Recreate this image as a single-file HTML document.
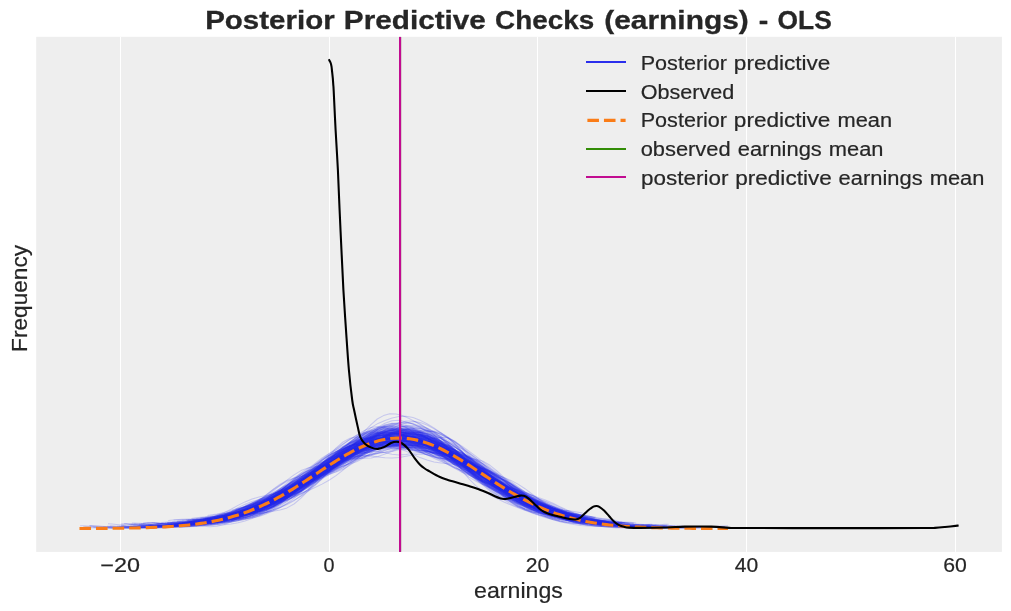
<!DOCTYPE html>
<html><head><meta charset="utf-8"><title>Posterior Predictive Checks (earnings) - OLS</title>
<style>
html,body{margin:0;padding:0;background:#fff;}
body{width:1011px;height:611px;overflow:hidden;}
svg{display:block;will-change:transform;}
text{font-family:"Liberation Sans",sans-serif;fill:#262626;stroke:#262626;stroke-width:0.2px;}
text[font-weight="bold"]{stroke-width:0.3px;}
</style></head><body>
<svg width="1011" height="611" viewBox="0 0 1011 611">
<rect x="0" y="0" width="1011" height="611" fill="#fff"/>
<rect x="36.2" y="36.8" width="965.7" height="515.1" fill="#eeeeee"/>
<g fill="#fff">
<rect x="120" y="36.8" width="1" height="515.1"/>
<rect x="329" y="36.8" width="1" height="515.1"/>
<rect x="537" y="36.8" width="1" height="515.1"/>
<rect x="746" y="36.8" width="1" height="515.1"/>
<rect x="955" y="36.8" width="1" height="515.1"/>
</g>
<defs><clipPath id="ax"><rect x="36.2" y="36.8" width="965.7" height="515.1"/></clipPath></defs>
<g clip-path="url(#ax)" fill="none">
<g stroke="#2a2eec" stroke-opacity="0.2" stroke-width="1.04" stroke-linejoin="round">
<path d="M80.1 525.8l3.9 0 7 0.4 7 0.7 7 0.5 7 0.4 7 0 7-0.2 7-0.3 7-0.4 7-0.4 7-0.4 7-0.2 7-0.1 7-0.2 7-0.6 7-1.2 7-1.7 7-1.8 7-1.9 7-1.7 7-1.6 7-1.8 7-2.3 7-3 7-3.4 7-3.7 7-3.9 7-4.1 7-4.1 7-4 7-3.9 7-4.1 7-4.6 7-4.9 7-4.9 7-4.4 7-3.6 7-2.9 7-2.5 7-2.1 7-1.5 7-1.1 7-0.8 7-0.5 7 0.2 7 1 7 1.4 7 1.1 7 0.8 7 0.9 7 1.5 7 1.7 7 1.9 7 2.4 7 3.2 7 4 7 3.9 7 3.8 7 4.2 7 4.9 7 5.5 7 5.4 7 5.1 7 4.3 7 3.6 7 2.5 7 1.8 7 1.6 7 1.7 7 1.9 7 1.8 5.5 1.3"/>
<path d="M221.2 517.8l2.8-0.4 7-0.7 7-0.6 7-1 7-1.7 7-2.7 7-3.5 7-3.8 7-3.4 7-2.7 7-2.5 7-3.2 7-4 7-4.5 7-4.4 7-4.2 7-4.4 7-5 7-6 7-6.9 7-7.4 7-6.4 7-4.2 7-1.6 7 0 7 0.7 7 0.5 7 0.3 7 1 7 2.5 7 4.1 7 5 7 5.4 7 5.2 7 4.7 7 3.7 7 3 7 2.9 7 3.7 7 4.5 7 4.9 7 5 7 4.7 7 4.2 7 3.4 7 2.4 7 1.8 7 1.9 7 2.5 7 2.9 7 3 7 2.9 7 2.5 7 1.9 7 1 7 0.6 7 0.4 7 0.5 7 0.8 7 0.6 7 0.5 7 0.2 7 0 7-0.1 7-0.1 7 0 7 0 7-0.1 7-0.3 7-0.6 7-0.7 7-0.5 7-0.3"/>
<path d="M216.7 519.4l0.3 0 7-1.1 7-1 7-1.4 7-1.9 7-2.4 7-2.7 7-2.7 7-2.9 7-3.3 7-3.8 7-4.1 7-3.8 7-3.1 7-3.2 7-4.4 7-6.5 7-8.2 7-8.7 7-7.3 7-4.8 7-2 7 0.1 7 1.4 7 1.4 7 0.9 7 0.6 7 0.9 7 0.9 7 0.2 7-1 7-1.6 7-0.5 7 1.9 7 4.5 7 5.9 7 5.8 7 4.4 7 2.8 7 2.1 7 2.9 7 4.7 7 6 7 6.3 7 5.5 7 4.4 7 3.7 7 3.6 7 3.5 7 3.1 7 2.4 7 1.9 7 1.6 7 1.3 7 1 7 0.7 7 0.7 7 0.8 7 0.8 7 0.8 7 0.4 7 0.2 7-0.1 7-0.1 6.7-0.1"/>
<path d="M215.9 515.4l1.1-0.2 7-1.1 7-0.7 7-0.3 7-0.5 7-1.1 7-2.3 7-3.1 7-3.6 7-4.1 7-4.7 7-5.6 7-6.1 7-6.1 7-5.2 7-4.1 7-3.6 7-3.2 7-2.6 7-1.6 7-1.1 7-1.6 7-2.8 7-3.6 7-3.7 7-3.4 7-3.4 7-2.6 7-0.6 7 2.2 7 4.6 7 5.7 7 5.9 7 5.3 7 4.2 7 3.1 7 2.6 7 3 7 3.7 7 4.7 7 5.7 7 5.9 7 4.9 7 3.7 7 2.7 7 2.5 7 2.8 7 2.8 7 2.4 7 2.1 0.3 0.1"/>
<path d="M227.0 517.8l4-0.7 7-1.4 7-1.8 7-2.6 7-2.9 7-3.1 7-3.2 7-3.3 7-3.5 7-3.8 7-4.1 7-4.5 7-4.4 7-3.9 7-3.6 7-4.2 7-5.1 7-5.7 7-5.8 7-4.7 7-2.9 7-0.8 7 0.9 7 1.4 7 0.8 7-0.1 7-0.6 7-0.2 7 0.4 7 0.6 7 0.8 7 1.4 7 2.4 7 3.7 7 4.7 7 5.3 7 5.6 7 6 7 6.2 7 6.3 7 5.7 7 5 7 4.2 7 3.3 7 2.3 7 1.8 7 1.9 7 2.2 7 2.2 7 1.9 7 1.5 6.4 1.2"/>
<path d="M139.2 524.0l0.8 0 7 0.1 7 0.5 7 0.7 7 0.3 7 0.1 7-0.3 7-0.5 7-0.7 7-1.2 7-1.6 7-1.9 7-2.2 7-2.5 7-2.7 7-3 7-3.2 7-3.3 7-3.4 7-3.6 7-3.5 7-3.7 7-3.9 7-4.5 7-4.7 7-4.5 7-4.3 7-4.4 7-4.7 7-4.2 7-3.6 7-2.9 7-2.6 7-2.5 7-2.2 7-1.8 7-1.3 7-0.8 7-0.1 7 0.8 7 1.8 7 2.9 7 3.8 7 4.6 7 5.5 7 6.2 7 6.2 7 5.3 7 3.6 7 2.3 7 2.1 7 2.6 7 3.2 7 3.3 7 3.3 7 3.1 7 3.1 7 3 7 3 7 3.2 7 3.4 7 3.2 7 2.7 6.5 1.9"/>
<path d="M142.8 522.9l4.2-0.3 7 0 7 0.3 7 0.3 7 0.1 7-0.3 7-0.8 7-1.2 7-1.6 7-1.8 7-2.2 7-2.8 7-3.4 7-3.8 7-3.5 7-2.8 7-2.1 7-1.5 7-1.6 7-2.2 7-3.2 7-4 7-4.1 7-3.8 7-3.5 7-4 7-5.1 7-5.7 7-5.4 7-4.3 7-3 7-2 7-1.3 7-0.7 7 0 7 0.9 7 1.7 7 2.1 7 2 7 1.4 7 1 7 1.1 7 1.7 7 2.6 7 3.9 7 5.2 7 5.9 7 5.6 7 4.3 7 3.4 7 2.9 7 3 7 3.1 7 3.1 7 3.1 7 3.3 7 3.5 7 3.3 7 2.7 7 2.2 7 1.9 7 1.7 7 1.5 7 1.2 7 1.2 7 1.2 1.3 0.2"/>
<path d="M192.2 519.7l3.8-0.6 7-0.6 7 0 7 0.2 7 0.2 7-0.3 7-1.1 7-2.1 7-3 7-3.8 7-4.1 7-4.2 7-3.8 7-3.5 7-3.3 7-3.6 7-4.1 7-4.6 7-4.6 7-4.2 7-3.6 7-3 7-2.8 7-2.8 7-2.8 7-2.7 7-2.3 7-1.1 7-0.3 7 0.1 7 0 7 0.6 7 1.5 7 2 7 2.2 7 2.5 7 3.2 7 4.1 7 4.5 7 4.1 7 3.4 7 2.6 7 1.9 7 2.2 7 3.3 7 4.5 7 5 7 4.7 7 3.7 7 2.8 7 1.7 7 1.2 7 1.2 7 1.8 7 2.3 7 2.4 7 1.9 7 1.1 7 0.6 7 0.3 7 0.5 2.9 0.4"/>
<path d="M192.7 522.4l3.3-0.2 7-0.1 7-0.4 7-0.8 7-1.4 7-1.7 7-1.7 7-1.8 7-2.3 7-3 7-3.6 7-3.9 7-4 7-3.8 7-4.1 7-4.7 7-5.8 7-6.9 7-7.3 7-6.8 7-6 7-5.1 7-4.5 7-4 7-3 7-1.8 7-1 7-1.1 7-1.7 7-1.9 7-1.4 7-0.2 7 1.4 7 3.2 7 4.7 7 5.7 7 5.7 7 5.3 7 4.9 7 5.1 7 6 7 6.6 7 6.4 7 6 7 5.3 7 4.5 7 4.1 7 3.7 7 3.4 7 2.8 7 2.3 7 2.2 1.8 0.6"/>
<path d="M200.6 519.4l2.4-0.3 7-0.6 7-0.2 7-0.3 7-0.7 7-1 7-1.4 7-1.8 7-2.2 7-2.8 7-3.4 7-3.5 7-3.3 7-3.2 7-3.4 7-4.2 7-5.6 7-6.5 7-6.6 7-5.7 7-4.5 7-4.1 7-4.6 7-4.8 7-3.9 7-2 7-0.1 7 0.9 7 1.3 7 1.1 7 0.9 7 1 7 1.4 7 1.6 7 1.6 7 1.6 7 1.9 7 2.7 7 3.7 7 4.6 7 4.9 7 5 7 5.2 7 5.3 7 5.2 7 5 7 4.7 7 4.5 7 4.3 7 3.9 7 3.1 7 2.1 7 1.3 7 0.7 7 0.6 7 0.6 0.7 0.1"/>
<path d="M183.6 522.8l5.4-0.6 7-0.5 7-0.4 7-0.3 7-0.3 7-0.6 7-1 7-1.5 7-1.9 7-2.3 7-2.6 7-3 7-3.8 7-4.8 7-5.5 7-5.8 7-5.9 7-5.5 7-4.6 7-3.9 7-3.8 7-4.3 7-4.8 7-4.9 7-4.7 7-4 7-3 7-2.3 7-1.6 7-1 7 0.2 7 1.3 7 2.3 7 2.7 7 2.6 7 1.7 7 0.7 7 0.5 7 1.8 7 3.9 7 6.6 7 8.6 7 9 7 7.7 7 5.8 7 4.1 7 3.1 7 2.7 7 2.7 7 2.8 7 3.1 7 3 7 2.8 2.3 0.9"/>
<path d="M145.3 525.6l1.7-0.1 7 0.1 7 0.4 7 0.3 7-0.1 7-0.6 7-1 7-1.1 7-1 7-1 7-1.2 7-1.5 7-1.6 7-1.8 7-2.1 7-2.7 7-2.8 7-2.7 7-2.3 7-2.4 7-2.8 7-3.3 7-3.9 7-4.2 7-4.4 7-4.3 7-4.3 7-4.7 7-5.1 7-4.9 7-4.3 7-3.9 7-4.3 7-4.7 7-4.5 7-3.4 7-2.1 7-1.3 7-1.1 7-0.4 7 1.7 7 4.6 7 6.7 7 7.2 7 6.3 7 4.9 7 3.9 7 3.8 7 3.9 7 4 7 4.3 7 4.9 7 5.4 7 5.3 7 4.3 7 2.7 7 1.5 7 1.1 7 1.3 7 2.1 2.7 1.1"/>
<path d="M204.2 519.6l5.8-0.5 7 0 7 0.4 7 0.2 7-0.3 7-0.9 7-1.5 7-2 7-2.8 7-3.7 7-4.6 7-5.4 7-6.3 7-6.9 7-7 7-6.5 7-5.3 7-4.2 7-3.4 7-3.7 7-4.1 7-4.7 7-4.6 7-4.3 7-3.9 7-3.7 7-3.7 7-3.3 7-2 7 0.1 7 2.7 7 4.9 7 6.2 7 6.8 7 7 7 6.7 7 6 7 4.7 7 3.7 7 3.3 7 3.5 7 3.9 7 4.5 7 4.9 7 5 7 4.7 7 4.2 7 3.8 7 3.5 7 2.8 7 1.9 7 1.1 7 1 5.1 0.8"/>
<path d="M251.0 512.8l1-0.3 7-1.6 7-1.8 7-2.3 7-3.4 7-4.8 7-6.1 7-6.4 7-5.8 7-4.9 7-4.4 7-4.7 7-5 7-4.8 7-4.1 7-3.4 7-3.3 7-3.4 7-3.3 7-2.5 7-1.8 7-1.4 7-1 7-0.3 7 0.5 7 1.1 7 1.7 7 3.1 7 5.3 7 6.8 7 6.5 7 5.1 7 4 7 4.2 7 5.2 7 5.7 7 5.6 7 5.1 7 4.5 7 4.1 7 4.1 7 4 7 3.7 7 3.2 2 0.7"/>
<path d="M218.4 517.0l5.6-1 7-0.9 7-1 7-1.4 7-2.3 7-2.9 7-3.5 7-3.8 7-4.5 7-5.3 7-5.7 7-5.4 7-4.8 7-4.1 7-4 7-4.6 7-5.6 7-6.2 7-5.7 7-3.9 7-1.8 7-0.7 7-0.8 7-1.8 7-2 7-1.3 7 0.2 7 1.5 7 2.7 7 3.8 7 4.3 7 4.3 7 4.3 7 4.9 7 5.6 7 5.7 7 5.2 7 4.7 7 4.9 7 5.4 7 5.9 7 5.6 7 4.9 7 3.8 7 2.7 7 2.3 7 2.1 7 2.2 7 1.9 7 1.4 7 0.9 7 0.6 7 0.3 7 0.4 7 0.5 7 0.7 5 0.5"/>
<path d="M212.2 519.9l4.8-0.3 7-0.4 7-0.7 7-1.5 7-2.5 7-3.5 7-3.7 7-3.2 7-2.5 7-2.3 7-3.1 7-4.2 7-4.9 7-5.4 7-5.6 7-6 7-6.6 7-7.2 7-6.4 7-4.3 7-1.9 7-0.5 7-0.6 7-1.3 7-1.9 7-2.1 7-1.2 7 0.4 7 2.4 7 3.4 7 3.4 7 3.1 7 3.6 7 4.4 7 4.8 7 4.6 7 4.1 7 3.7 7 3.8 7 3.8 7 3.5 7 3.3 7 3.5 7 3.8 7 4.1 7 4.1 7 3.9 7 3.5 7 3.1 7 2.7 7 2.3 7 2.1 7 1.7 1.9 0.3"/>
<path d="M207.5 515.4l2.5-0.3 7-1.1 7-1.6 7-2 7-2.1 7-1.6 7-1.1 7-1.3 7-2 7-3.3 7-4.2 7-4.5 7-4.1 7-3.6 7-3.7 7-4.7 7-5.6 7-5.7 7-5 7-4.1 7-3.1 7-2.3 7-1.2 7-0.4 7 0 7 0 7 0 7 0 7 0.4 7 1.1 7 1.5 7 1.4 7 1.4 7 1.5 7 1.7 7 2.1 7 2.8 7 4 7 4.9 7 4.9 7 4 7 3.5 7 3.4 7 4 7 4.4 7 4.4 7 3.7 7 2.9 7 2.4 7 2.3 7 2.3 7 2.4 7 2.4 7 2.1 7 1.6 7 1.1 7 0.9 7 0.7 7 0.8 2.8 0.2"/>
<path d="M244.9 505.7l0.1-0.1 7-2.7 7-1.9 7-2 7-2.8 7-3.6 7-4.2 7-4.1 7-3.6 7-3.7 7-4.4 7-5.8 7-6.8 7-6.8 7-6 7-4.5 7-2.8 7-1 7 0.4 7 1 7 0.7 7-0.2 7-1.3 7-2.2 7-2 7-0.8 7 1.2 7 3.1 7 4.9 7 6.3 7 7 7 6.9 7 6.2 7 5.5 7 5.3 7 5.2 7 5.2 7 4.5 7 3.6 7 2.7 7 2.6 7 2.7 7 2.9 7 2.6 7 2 7 1.3 7 1.1 7 1.5"/>
<path d="M236.6 517.3l1.4-0.3 7-1.2 7-1.1 7-1.2 7-1.1 7-1.1 7-1.3 7-2.1 7-3.9 7-5.8 7-7.3 7-8 7-7.8 7-7.2 7-6.2 7-4.7 7-3 7-1.8 7-1.5 7-1.7 7-2.1 7-2.4 7-2.6 7-2.3 7-1.5 7-1 7-0.2 7 0.9 7 2.3 7 3.4 7 3.7 7 3.7 7 3.6 7 3.8 7 4.1 7 5 7 5.7 7 6 7 5.4 7 4.6 7 3.8 7 3.3 7 3.3 7 3.5 7 3.5 7 3.3 7 2.6 7 1.6 7 0.8 7 0.5 7 0.8 4.5 0.8"/>
<path d="M201.9 520.2l1.1-0.2 7-1.1 7-1.1 7-1.3 7-2 7-2.9 7-3.5 7-3.5 7-3.3 7-3 7-2.7 7-2.7 7-2.4 7-2.1 7-2.2 7-2.8 7-3.6 7-4.1 7-4.6 7-4.9 7-4.8 7-4.3 7-3.3 7-2.6 7-2.5 7-2.5 7-2.2 7-1.5 7-0.8 7-0.3 7 0 7 0.7 7 2 7 3.3 7 4.2 7 4 7 3.3 7 2.7 7 2.7 7 3.4 7 4.4 7 5 7 4.8 7 4.1 7 3.5 7 3.6 7 4.1 7 4.2 7 4 7 3.2 7 2.6 7 2.2 7 2.1 7 1.8 7 1.6 7 1.1 7 0.8 7 0.7 6.7 0.6"/>
<path d="M136.1 526.8l3.9 0 7 0 7 0.1 7-0.2 7-0.6 7-1.1 7-1.4 7-1.3 7-1.2 7-1.4 7-1.6 7-1.9 7-2.2 7-2.2 7-2.1 7-2.3 7-2.3 7-2.3 7-2.7 7-3.4 7-4.2 7-4.7 7-4.7 7-4.3 7-3.7 7-3.6 7-3.9 7-4.4 7-4.7 7-4.7 7-4.4 7-3.5 7-1.9 7 0 7 1.1 7 0.9 7 0.1 7-0.8 7-1.2 7-0.8 7 0.4 7 2.2 7 3.9 7 4.6 7 4.2 7 3.1 7 2.8 7 3.4 7 4.2 7 4.5 7 3.6 7 2.7 7 2.2 7 2.4 7 3.3 7 4 7 4.4 7 4.3 7 3.7 7 2.9 7 2.4 7 2.2 7 2.1 7 1.7 7 1.4 7 0.9 7 0.7 7 0.8 1.1 0.2"/>
<path d="M175.7 523.8l6.3-0.5 7-0.3 7-0.3 7-0.6 7-1 7-1.2 7-1.5 7-2 7-2.7 7-3.3 7-3.3 7-3.1 7-3 7-3.5 7-4.2 7-4.8 7-4.6 7-3.8 7-3.3 7-3.6 7-4.4 7-4.8 7-4.7 7-4.4 7-3.8 7-2.6 7-0.7 7 0.7 7 0.5 7-0.7 7-2 7-2.5 7-2 7-0.7 7 0.4 7 1.7 7 2.8 7 4.2 7 5.5 7 6.5 7 6.6 7 5.6 7 4.1 7 2.8 7 2.7 7 3.2 7 4 7 4.5 7 4.4 7 3.9 7 3.6 7 3.5 7 3.3 7 2.8 7 1.7 7 0.9 7 0.4 7 0.2 7 0.3 4.2 0.3"/>
<path d="M131.3 526.1l1.7-0.1 7-0.2 7 0 7 0 7-0.1 7-0.4 7-0.6 7-0.9 7-1 7-1.1 7-0.9 7-0.9 7-1.6 7-2.7 7-3.7 7-4.1 7-3.6 7-2.7 7-2 7-2.2 7-2.9 7-4.1 7-4.6 7-4.7 7-4.1 7-3.6 7-2.9 7-2.5 7-2.7 7-4.1 7-5.6 7-5.6 7-4.2 7-2.4 7-1.2 7-0.5 7 0 7 0.2 7-0.1 7-0.6 7-0.1 7 1 7 2.3 7 3.2 7 3.6 7 4 7 4.3 7 4.9 7 4.9 7 4.6 7 4.1 7 4 7 4.2 7 4.3 7 3.9 7 3.2 7 3 7 3.4 7 4 7 3.9 7 3.3 7 2.4 7 1.7 7 1.4 7 1.1 7 0.8 7 0.7 7 0.5 7 0.4 2 0.1"/>
<path d="M223.8 518.2l0.2-0.1 7-2.8 7-2.9 7-2.6 7-2.1 7-1.7 7-2 7-2.8 7-4.1 7-5.1 7-5.1 7-4.5 7-4.4 7-5 7-6.1 7-6.8 7-6.3 7-4.8 7-3.3 7-2.6 7-2.6 7-2.6 7-2 7-0.7 7 0.7 7 1.3 7 1.2 7 1.1 7 1.9 7 3.1 7 3.8 7 3.6 7 2.8 7 2.5 7 3.2 7 4.8 7 6.2 7 6.5 7 5.8 7 5.4 7 5.1 7 4.9 7 4.4 7 3.4 7 2.6 7 2.2 0.1 0"/>
<path d="M207.6 519.3l2.4-0.3 7-0.5 7-0.5 7-0.8 7-1.4 7-1.9 7-2.3 7-2.8 7-3.4 7-3.9 7-4.2 7-4.5 7-5 7-5.4 7-5.8 7-6.2 7-6.1 7-5.4 7-4.1 7-2.8 7-2 7-2.1 7-2.7 7-3 7-2.8 7-2 7-0.8 7 0.6 7 1.6 7 1.7 7 1.2 7 1.3 7 2.3 7 3.6 7 4.6 7 4.6 7 3.7 7 3.3 7 3.4 7 4 7 4.4 7 4.9 7 5.2 7 5.1 7 4.7 7 4 7 3.3 7 2.5 7 2 7 2.2 7 2.4 7 2.7 7 2.7 7 2.3 7 1.7 7 0.8 7 0.1 7-0.1 7 0.1 2.3 0.1"/>
<path d="M209.6 520.0l0.4 0 7-0.8 7-0.5 7-0.4 7-0.9 7-1.7 7-2.8 7-3.8 7-4.9 7-5.4 7-5.4 7-5 7-4.9 7-5.2 7-5.5 7-5.3 7-4.9 7-4.1 7-2.9 7-2 7-1.7 7-2 7-2.3 7-2.7 7-2.9 7-3.2 7-2.9 7-1.6 7 0.5 7 2 7 2.7 7 2.7 7 2.7 7 3.3 7 4.6 7 5.6 7 6.2 7 5.8 7 5 7 4.4 7 4.2 7 3.9 7 3.6 7 3.3 7 3.5 7 4.3 7 5.1 7 4.7 7 3.6 7 2.2 7 1.3 7 1 7 1.2 7 1.3 7 1.1 7 0.7 7 0.5 7 0.5 1.9 0.1"/>
<path d="M190.2 521.8l5.8-0.4 7-0.1 7 0.1 7-0.3 7-0.9 7-1.3 7-1.7 7-1.9 7-1.8 7-1.7 7-2.1 7-2.9 7-4.2 7-5.1 7-5.6 7-5.6 7-5.9 7-6.1 7-5.9 7-5.3 7-4.7 7-4.6 7-4.5 7-3.7 7-2.5 7-1.9 7-2 7-2.4 7-2.4 7-1.6 7-0.6 7 0.3 7 1.2 7 2.2 7 3 7 3.8 7 4.8 7 5.2 7 5.3 7 4.9 7 4.6 7 4.6 7 4.9 7 5.2 7 5.2 7 5 7 4.5 7 3.7 7 3 7 3 7 3.3 7 3.6 7 3.3 7 2.8 5.2 1.6"/>
<path d="M197.7 522.4l5.3-0.2 7-0.2 7-0.6 7-1.2 7-1.7 7-1.9 7-2 7-2.3 7-2.8 7-3.1 7-3.2 7-3.2 7-3.5 7-4.1 7-4.9 7-5.5 7-6 7-6.3 7-6.1 7-5.3 7-3.9 7-2.4 7-1.3 7-1 7-1.6 7-2.4 7-3.4 7-3.6 7-3 7-1.8 7-0.3 7 0.9 7 1.7 7 2.1 7 2.6 7 3.6 7 4.9 7 6.2 7 6.9 7 6.9 7 5.9 7 5 7 4.3 7 4.2 7 4.1 7 3.8 7 3.3 7 2.8 7 2.5 7 2.5 7 2.8 7 3.2 7 3 7 2.2 7 1.2 7 0.5 7 0.2 7 0.2 7 0.4 7 0.7 0.5 0.1"/>
<path d="M197.1 523.6l5.9-0.8 7-0.7 7-0.9 7-1.3 7-2 7-2.6 7-2.8 7-2.6 7-2.5 7-2.3 7-2.6 7-3.2 7-4 7-4.5 7-4.6 7-4.5 7-4.6 7-5.1 7-5.9 7-5.8 7-5.1 7-4.1 7-3.9 7-4.4 7-4.9 7-4.6 7-3.2 7-1.3 7 0.5 7 1.7 7 2.5 7 3.6 7 4.6 7 5 7 4.7 7 3.7 7 2.8 7 2.7 7 3.4 7 4.6 7 5.7 7 5.8 7 5.2 7 4.3 7 4 7 3.8 7 3.7 7 3 7 2.6 7 2.2 7 2.1 7 2.2 7 2.1 7 1.9 7 1.5 7 1.2 5.8 1"/>
<path d="M173.6 520.0l1.4-0.1 7-0.3 7 0.2 7 0 7-0.5 7-1 7-1.4 7-1.8 7-2.3 7-2.8 7-3.3 7-3.6 7-3.6 7-3.3 7-2.6 7-2 7-1.6 7-2 7-3 7-4.4 7-5.4 7-6 7-5.9 7-5 7-3.3 7-2.5 7-2.8 7-4 7-4.2 7-2.5 7-0.2 7 1.4 7 1.8 7 1.8 7 1.9 7 2.4 7 2.8 7 2.8 7 2.5 7 2.4 7 3.1 7 3.8 7 4.3 7 4 7 3.8 7 3.8 7 4.3 7 4.8 7 5.4 7 5.4 7 4.7 7 3.2 7 1.6 7 0.8 7 0.6 7 0.8 7 1 7 1.4 6.2 1.6"/>
<path d="M109.9 526.0l2.1 0 7 0.2 7 0.5 7 0.4 7 0.2 7 0 7-0.1 7-0.2 7-0.4 7-0.6 7-0.7 7-0.8 7-0.9 7-1.1 7-1.3 7-1.5 7-1.8 7-2 7-2.5 7-2.8 7-3.4 7-3.7 7-3.6 7-3 7-2.4 7-1.9 7-1.8 7-2.3 7-3.6 7-5.4 7-6.9 7-7.1 7-6.3 7-5.1 7-4.6 7-4.9 7-5.3 7-5.2 7-4.6 7-3.2 7-0.8 7 2.1 7 3.5 7 2.8 7 1 7 0.5 7 1.8 7 3.7 7 4.8 7 5.3 7 5.8 7 6.3 7 6.2 7 5.8 7 5.1 7 5 7 5.3 7 5.2 7 4.4 7 3.2 7 2.2 7 1.8 7 1.8 7 1.9 7 2.1"/>
<path d="M169.5 526.4l5.5 0 7-0.4 7-0.7 7-1.1 7-1.4 7-1.5 7-1.6 7-1.5 7-1.5 7-1.4 7-1.4 7-2 7-2.6 7-3.6 7-4.1 7-4.5 7-4.3 7-3.9 7-3.6 7-3.7 7-3.8 7-3.7 7-3.6 7-3.8 7-4.7 7-6.1 7-6.9 7-6.2 7-4.2 7-1.5 7 0.5 7 1.5 7 1.4 7 1.1 7 0.9 7 1.1 7 1.7 7 2.5 7 3.8 7 5.1 7 5.9 7 5.7 7 4.9 7 4 7 3.2 7 2.7 7 2.5 7 2.4 7 2.6 7 3.2 7 3.7 7 3.9 7 3.7 7 3 7 2.4 7 2.1 7 2 7 1.8 7 1.3 6.5 1"/>
<path d="M205.0 520.9l5-0.9 7-1.2 7-1.4 7-2 7-2.6 7-3 7-2.9 7-3.2 7-3.4 7-3.6 7-3.6 7-3.1 7-2.9 7-3 7-3.7 7-4.7 7-5.4 7-5.5 7-4.8 7-4.1 7-4 7-3.9 7-3.4 7-1.9 7-0.2 7 0.5 7 0.2 7-1.3 7-2.7 7-2.8 7-0.7 7 2.5 7 5 7 5.6 7 4.4 7 2.8 7 2.2 7 3.1 7 4.9 7 6.8 7 7.6 7 7.1 7 5.7 7 4.5 7 3.9 7 3.5 7 3.1 7 2.5 7 2.1 7 1.7 7 1.5 7 1.1 7 0.8 7 0.5 7 0.3 7 0.3 1.7 0.1"/>
<path d="M229.8 513.6l1.2-0.4 7-1.7 7-1.6 7-1.8 7-2.5 7-2.8 7-2.8 7-2.8 7-3.1 7-3.7 7-4.5 7-5 7-5.3 7-5.3 7-5.2 7-5 7-4.6 7-4.4 7-4.6 7-5 7-5.2 7-4.3 7-2 7 0.8 7 2.6 7 2.4 7 0.9 7-0.5 7-0.1 7 1.9 7 4.6 7 5.9 7 5.8 7 5.5 7 5.7 7 6 7 6.1 7 5.7 7 5.4 7 5.2 7 4.5 7 3.4 7 2.7 7 2.4 7 2.6 7 2.7 7 2.8 7 2.4 7 2 7 1.3 7 0.9 7 0.6 7 0.5 7 0.4 7 0.4 7 0.4 2.1 0.1"/>
<path d="M242.4 517.7l2.6-0.9 7-2.5 7-2.6 7-3.2 7-3.8 7-4.3 7-4.5 7-4.9 7-5.5 7-5.5 7-4.9 7-4.1 7-3.6 7-3.7 7-4.1 7-4.9 7-5 7-4.3 7-2.7 7-1.1 7 0 7-0.1 7-0.9 7-1.6 7-1.8 7-0.9 7 0.4 7 1.8 7 2.7 7 3.8 7 5.3 7 7.3 7 8.3 7 7.8 7 5.7 7 3.6 7 2.7 7 3.1 7 4 7 4.9 7 4.8 7 4.2 7 3.5 7 2.9 7 2.3 7 1.9 7 1.5 7 1.5 7 1.4 7 1.3 7 1.1 7 0.7 7 0.6 7 0.4 7 0.3 7 0 7-0.4 7-0.7 7-0.4 1.5 0"/>
<path d="M216.9 518.4l0.1 0 7-1.7 7-1.9 7-2.2 7-2.5 7-2.6 7-2.8 7-3.3 7-3.8 7-4.2 7-3.9 7-3 7-2.3 7-2.2 7-2.7 7-3.5 7-3.5 7-3.3 7-2.9 7-3.3 7-4.1 7-4.8 7-4.9 7-4.4 7-3.2 7-1.2 7 0.7 7 1.4 7 1 7 0.5 7 1 7 2.1 7 3.1 7 3.1 7 2.5 7 2 7 2.5 7 3.4 7 4.2 7 4.1 7 3.2 7 2.6 7 2.8 7 3.7 7 4.6 7 5.3 7 5.4 7 5.1 7 4 7 2.5 7 1.3 7 1.1 7 1.6 7 2.2 7 2.2 7 1.6 7 0.9 7 0.5 7 0.3 7 0.4 3.6 0.3"/>
<path d="M159.1 526.1l1.9-0.1 7-0.4 7-0.5 7-0.5 7-0.7 7-0.8 7-1 7-1.1 7-1.5 7-1.8 7-2.1 7-2.3 7-2.3 7-2.2 7-2.1 7-2.2 7-2.7 7-3.7 7-4.4 7-4.9 7-5.1 7-5.3 7-5 7-4.3 7-3.6 7-3.6 7-3.9 7-4.1 7-4 7-3.7 7-3.1 7-2.3 7-1.6 7-1.5 7-1.7 7-1.6 7-0.6 7 1.3 7 3 7 4 7 4.6 7 5 7 5.2 7 5.2 7 5 7 4.4 7 3.9 7 3.4 7 3.5 7 3.9 7 4.2 7 4.1 7 3.3 7 2.6 7 2.2 7 2.3 7 2.8 7 3.3 7 3.3 7 2.9 7 1.9 7 1.1 7 0.7 7 0.6 7 0.6 7 0.7 1.4 0.2"/>
<path d="M192.7 524.5l3.3-0.3 7-0.6 7-1.1 7-1.9 7-2.3 7-2.4 7-1.8 7-1.5 7-1.8 7-3.1 7-4.4 7-5.2 7-5 7-3.8 7-3 7-2.9 7-3.8 7-4.8 7-4.8 7-4.2 7-3.6 7-3.9 7-4.8 7-5.9 7-6.7 7-6.2 7-4.5 7-2 7-0.2 7 0.7 7 1.4 7 2 7 2.9 7 4.1 7 4.8 7 5.2 7 5.2 7 4.9 7 4.4 7 4.1 7 4 7 3.9 7 4.2 7 4.6 7 5 7 5.2 7 5 7 4.3 7 3.3 7 2.3 7 1.9 7 1.6 7 1.5 7 1.4 7 1.5 2.1 0.5"/>
<path d="M205.0 523.0l5-0.6 7-1 7-1.3 7-1.9 7-2 7-1.7 7-1.3 7-1.1 7-1.7 7-3 7-4.3 7-4.8 7-4.7 7-4.7 7-5.1 7-5.9 7-6.2 7-5.6 7-4.5 7-3.5 7-3.1 7-3.2 7-3.8 7-4.1 7-4.3 7-3.9 7-3.3 7-2.6 7-1.2 7 0.5 7 2.3 7 3.2 7 3.5 7 3.8 7 3.9 7 4.5 7 5.2 7 5.9 7 6.2 7 5.8 7 5.2 7 4.5 7 3.8 7 3.7 7 4.1 7 4.6 7 4.9 7 4.3 7 3.3 7 2.2 7 1.5 7 1.4 7 1.5 2 0.5"/>
<path d="M131.9 523.1l1.1 0 7 0.2 7 0.8 7 1 7 0.9 7 0.4 7-0.3 7-0.7 7-1 7-1 7-1 7-1.3 7-1.8 7-2.6 7-3.3 7-3.6 7-3.1 7-2.4 7-1.7 7-1.4 7-1.8 7-2.5 7-3.9 7-5 7-5.5 7-4.8 7-3.5 7-2.5 7-2.1 7-2.3 7-2.9 7-3.7 7-4.4 7-4.5 7-3.8 7-2.9 7-2 7-1.1 7 0.2 7 1.5 7 2.5 7 2.6 7 2.5 7 2.8 7 3.2 7 3.2 7 2.8 7 1.9 7 1 7 0.9 7 1.7 7 3.3 7 4.5 7 4.7 7 4.2 7 3.7 7 3.7 7 4 7 4 7 3.6 7 3.5 7 3.3 7 3.1 7 2.6 7 1.7 7 1 7 1 7 0.9 7 0.9 7 0.6 7 0.5 7 0.6 7 0.6 7 0.7 7 0.4 7 0.1 7-0.1 7-0.2 0.5 0"/>
<path d="M202.3 523.0l0.7 0 7-0.4 7-0.4 7-0.6 7-0.8 7-1 7-1.1 7-1.7 7-2.5 7-3.4 7-4.3 7-4.8 7-4.8 7-4.4 7-4.1 7-4.1 7-4.2 7-4.7 7-5.6 7-6.5 7-6.3 7-4.9 7-3.2 7-2.5 7-3 7-4.1 7-4.3 7-2.9 7-0.4 7 2.3 7 3.3 7 2.4 7 1 7 0.4 7 1.6 7 3.2 7 4.7 7 5.2 7 5.3 7 5.1 7 5.1 7 5.3 7 5.6 7 5.1 7 3.8 7 2.7 7 2.4 7 3.2 7 4 7 4.1 7 3.5 7 2.6 7 1.9 7 1.7 7 1.8 7 1.7 7 1.3 7 1 7 0.8 2.7 0.3"/>
<path d="M177.1 521.6l4.9-0.2 7 0 7 0.2 7 0.2 7-0.1 7-0.7 7-1.2 7-1.5 7-1.7 7-1.9 7-2.2 7-2.8 7-3.1 7-3.1 7-2.7 7-2.5 7-3.3 7-5.2 7-7 7-7.3 7-6.1 7-4.2 7-3.2 7-3.4 7-4.3 7-5 7-4.8 7-4.2 7-3.2 7-1.9 7-0.6 7 0.2 7 0.9 7 1.6 7 2.6 7 3.4 7 3.7 7 4.3 7 4.8 7 4.5 7 3.5 7 2.4 7 2.4 7 3.7 7 5.4 7 6.1 7 5.6 7 4.2 7 3.3 7 3.3 7 3.8 7 4.2 7 4.1 7 3.4 7 2.4 7 1.5 7 0.9 7 0.6 7 0.3 7 0.3 7 0.1 7 0.3 1.5 0.1"/>
<path d="M200.2 521.3l2.8-0.2 7-0.5 7-0.8 7-1.1 7-1.5 7-2 7-2.4 7-2.9 7-3.1 7-3.3 7-3.4 7-4.1 7-4.5 7-4.7 7-4.2 7-3.5 7-3.5 7-4.6 7-5.9 7-6.4 7-5.4 7-3.5 7-2 7-2 7-2.3 7-1.9 7-0.4 7 0.8 7 0.5 7-0.5 7-0.9 7-0.1 7 1.7 7 3.1 7 3.9 7 3.7 7 3.2 7 2.5 7 2.4 7 3.2 7 4.5 7 5.7 7 5.8 7 5.2 7 4.3 7 3.5 7 3.1 7 2.8 7 2.9 7 3 7 3.2 7 3.2 7 3.2 7 2.9 7 2.1 7 1.3 7 0.6 7 0 7 0 5.9 0.2"/>
<path d="M162.8 526.5l5.2-0.2 7-0.2 7-0.1 7-0.1 7-0.1 7-0.2 7-0.4 7-0.7 7-1.4 7-2.1 7-2.7 7-3.2 7-3.4 7-3.3 7-3.3 7-3.2 7-3.2 7-3.5 7-4.2 7-5.4 7-6.6 7-7.4 7-7.2 7-6.3 7-5.2 7-4.8 7-4.9 7-4.8 7-4.1 7-3.2 7-2.3 7-2 7-2 7-1.7 7-0.4 7 1 7 2 7 2.6 7 3.9 7 5.7 7 6.8 7 6.4 7 5.3 7 4.8 7 5.4 7 6.9 7 7.8 7 7.5 7 6.5 7 5.3 7 4.6 7 3.8 7 2.8 7 1.8 7 1.3 7 1.3 7 1.9 0 0"/>
<path d="M194.3 521.5l1.7 0 7 0.1 7 0.3 7 0.2 7-0.3 7-1.2 7-2.2 7-3.2 7-3.9 7-4.3 7-4.7 7-4.4 7-3.7 7-3.1 7-2.9 7-3.3 7-3.9 7-4.6 7-5.5 7-6.2 7-6.5 7-6.2 7-5.4 7-4.3 7-3 7-2.1 7-1.7 7-1.6 7-1.7 7-1.5 7-0.9 7 0.2 7 2 7 3.9 7 4.9 7 5.2 7 5.5 7 6 7 6.6 7 6.9 7 6.3 7 5.3 7 4.7 7 4.3 7 3.9 7 3.3 7 2.6 7 2.5 7 2.6 7 2.8 7 3.2 7 3.2 7 2.8 7 2.1 7 1.8 7 1.5 7 1.4 7 0.8 7 0.3 7-0.3 7-0.4 7-0.2 2.1 0"/>
<path d="M176.8 525.1l5.2-0.2 7 0.1 7 0.5 7 0.7 7 0.5 7-0.5 7-1.7 7-2.8 7-3.4 7-3.4 7-3.1 7-2.9 7-2.9 7-3.3 7-3.7 7-4.1 7-4.5 7-5 7-5.6 7-6.1 7-6.3 7-6.1 7-5.4 7-4.6 7-4.1 7-3.7 7-3.1 7-2.4 7-2 7-2 7-2.1 7-2.1 7-1.3 7 0.1 7 1.7 7 2.9 7 3.7 7 4.6 7 5.4 7 5.6 7 5.1 7 4.2 7 4 7 4.6 7 5.4 7 5.7 7 5.3 7 4.7 7 4.2 7 4.1 7 4.1 7 4.1 7 3.7 7 3.3 7 2.8 7 2.3 7 1.8 7 1.5 7 1.2 7 1 7 0.9 7 0.6 7 0.4 7 0.1 7-0.2 7-0.6 7-0.7 7-0.4 5-0.1"/>
<path d="M89.2 525.6l1.8 0 7 0.4 7 0.6 7 0.5 7 0.2 7 0 7-0.2 7-0.3 7-0.4 7-0.5 7-0.6 7-0.6 7-0.6 7-0.8 7-0.9 7-1 7-0.8 7-0.7 7-1.1 7-1.6 7-2.3 7-2.8 7-3.3 7-4 7-4.6 7-5.2 7-5.2 7-4.5 7-3.7 7-3.1 7-3.3 7-3.3 7-3.1 7-2.7 7-3 7-3.7 7-4.2 7-4.1 7-3.2 7-2 7-1 7-0.4 7-0.5 7-0.9 7-1.1 7-1.2 7-1.4 7-1.3 7-0.4 7 1.3 7 3.7 7 5.7 7 7.2 7 7.8 7 7.6 7 6.2 7 4.4 7 3.2 7 3.3 7 3.9 7 3.9 7 3.2 7 2.5 7 2.3 7 2.4 7 2.6 7 2.6 7 2.5 7 2.2 7 1.6 7 1.1 7 0.7 7 0.7 2.9 0.4"/>
<path d="M192.3 519.0l3.7-0.3 7 0 7 0.6 7 0.5 7-0.3 7-1.5 7-2.6 7-3.5 7-4 7-4.1 7-3.6 7-2.9 7-2.8 7-3.4 7-4.1 7-4.5 7-4.3 7-4.1 7-4.4 7-4.9 7-5 7-4.4 7-3.7 7-3.5 7-3.5 7-3 7-2 7-1 7-0.6 7-0.3 7 0.2 7 1.2 7 2.2 7 2.9 7 3.4 7 3.3 7 2.9 7 2.8 7 3.8 7 5.5 7 6.6 7 6.4 7 5.2 7 4 7 3.4 7 3.2 7 3.1 7 3.1 7 3.2 7 3.5 7 3.5 7 2.8 7 2 7 1.2 7 1.1 5.5 0.9"/>
<path d="M147.9 525.6l6.1 0 7 0.1 7 0 7-0.3 7-0.7 7-1 7-0.8 7-0.7 7-0.7 7-0.9 7-1.4 7-1.8 7-2.1 7-1.7 7-1.4 7-1.2 7-1.4 7-2 7-2.9 7-3.7 7-4.6 7-5.1 7-5.3 7-5 7-4.6 7-4.1 7-3.8 7-3.6 7-3.5 7-3.4 7-3.4 7-3.6 7-3.9 7-4.1 7-3.7 7-2.6 7-0.6 7 1.5 7 2.4 7 2.6 7 2.7 7 3.3 7 3.5 7 3.4 7 3.1 7 3.1 7 3.6 7 3.8 7 3.9 7 3.7 7 3.6 7 3.8 7 4.4 7 5.3 7 5.6 7 5.2 7 4.2 7 3.1 7 2.1 7 1.5 7 1.2 7 1.3 7 1.6 1.8 0.5"/>
<path d="M235.0 510.8l3-0.7 7-1.1 7-0.7 7-1.5 7-3 7-4.4 7-5 7-4.6 7-4.1 7-4.1 7-4.6 7-5 7-5.3 7-5.2 7-5.3 7-5.4 7-5.1 7-4.3 7-2.7 7-0.8 7 0.3 7 0 7-0.4 7 0.2 7 1.9 7 3.4 7 3.8 7 3.1 7 2.1 7 1.1 7 0.8 7 1.5 7 3 7 4.4 7 5.3 7 5.3 7 4.7 7 4.5 7 4.6 7 4.9 7 5.1 7 4.9 7 4.4 7 3.5 7 2.6 7 2 7 1.7 7 1.4 7 1.1 7 0.9 7 0.9 7 1 7 0.8 7 0.4 7 0 7 0 6.8 0.3"/>
<path d="M202.9 520.0l0.1 0 7-1.2 7-0.7 7-0.7 7-1.2 7-1.9 7-2.4 7-2.6 7-2.8 7-3.6 7-4.8 7-6.2 7-6.7 7-6 7-4.7 7-3.7 7-3.5 7-3.8 7-4.4 7-4.8 7-4.7 7-4.1 7-2.9 7-2.1 7-1.5 7-1.3 7-1.5 7-1.8 7-1.5 7-0.3 7 2.1 7 4 7 5.1 7 5 7 4.6 7 4.3 7 4 7 3.8 7 4.3 7 5.3 7 6.3 7 6.4 7 5.4 7 3.8 7 2.5 7 1.8 7 1.6 7 1.7 7 1.9 7 2.3 7 2.4 7 2.3 7 2.1 3.8 1.1"/>
<path d="M166.4 524.4l1.6-0.1 7-0.4 7-0.3 7-0.6 7-0.9 7-1.1 7-1.1 7-1 7-0.9 7-1 7-1.7 7-2.9 7-3.8 7-4.6 7-4.9 7-4.9 7-4.7 7-4.3 7-3.7 7-3.3 7-3.4 7-3.7 7-3.8 7-3.9 7-4 7-3.9 7-3.3 7-2.7 7-2.5 7-3.1 7-4 7-4.2 7-3 7-0.8 7 1.7 7 2.9 7 2.7 7 2.1 7 2.1 7 2.9 7 4.1 7 5.6 7 6.9 7 7.1 7 6.3 7 5.2 7 4.6 7 4.6 7 4.5 7 4 7 3.2 7 2.6 7 2.1 7 1.9 7 1.6 7 1.5 7 1.6 7 1.9 7 2.1 7 2.2 7 1.9 7 1.4 7 1 7 0.7 7 0.6 7 0.6 7 0.5 7 0.2 7-0.2 7-0.7 7-0.9 7-0.7 3.7-0.1"/>
<path d="M182.0 523.0l7-1.2 7-0.7 7-0.2 7 0.1 7 0 7-0.4 7-1.1 7-2.1 7-3 7-3.5 7-3.4 7-3.4 7-3.6 7-4.2 7-5 7-5.6 7-5.4 7-4.5 7-3.5 7-3 7-3.4 7-4.3 7-5 7-5 7-4.6 7-3.9 7-2.8 7-1.4 7 0.1 7 1.8 7 3.1 7 3.4 7 2.4 7 1 7 0 7-0.3 7 0.5 7 2 7 4.1 7 5.5 7 5.7 7 5.2 7 4.5 7 4.4 7 4.2 7 3.8 7 3.1 7 2.7 7 2.7 7 3 7 3.2 7 3.4 7 3.2 7 2.8 7 2.2 7 1.6 7 1.3 7 0.9 7 0.9 7 0.8 5.5 0.7"/>
<path d="M178.9 522.4l3.1-0.3 7-0.3 7-0.1 7-0.1 7-0.1 7-0.4 7-1.3 7-2.4 7-3.4 7-3.6 7-3.1 7-2.5 7-2.3 7-3.1 7-3.9 7-4.5 7-4.2 7-3.4 7-2.7 7-2.7 7-3.2 7-3.9 7-4.7 7-5.5 7-5.7 7-5.4 7-4.9 7-4.2 7-2.6 7-0.4 7 1.1 7 1.5 7 1 7 0.5 7 0.4 7 0.7 7 1.3 7 1.8 7 2 7 2.5 7 3.4 7 4.1 7 4.6 7 4.9 7 5.6 7 6 7 5.5 7 4.2 7 3.1 7 2.6 7 3.1 7 3.8 7 4.2 7 4 7 3.4 7 2.9 7 2.4 7 1.9 7 1.4 7 1 7 0.8 7 0.9 7 1 7 0.9 7 0.6 7 0.3 7-0.1 7-0.3 7-0.3 7-0.2 1.8 0"/>
<path d="M128.7 524.7l4.3 0 7 0.4 7 0.6 7 0.5 7 0.3 7 0.1 7 0.1 7 0.1 7-0.1 7-0.3 7-0.7 7-1.2 7-1.6 7-1.9 7-2 7-2 7-2.1 7-2.6 7-3 7-3.5 7-3.7 7-3.8 7-3.7 7-4 7-4.2 7-5 7-6 7-7.3 7-8.1 7-7.6 7-5.5 7-3.3 7-2.2 7-1.9 7-2.1 7-2.2 7-2.4 7-2.3 7-1.9 7-0.9 7 0.4 7 2.1 7 3.9 7 5.6 7 6.6 7 6.1 7 4.6 7 3.1 7 2.5 7 2.9 7 4.3 7 5.8 7 6.8 7 7.1 7 6.3 7 5.1 7 3.7 7 3 7 2.6 7 2.4 7 1.9 7 1.6 1.9 0.4"/>
<path d="M192.5 523.2l3.5-0.6 7-1.4 7-1.8 7-2 7-2.1 7-1.7 7-1.3 7-1.4 7-2.4 7-3.8 7-4.9 7-5.2 7-4.9 7-4.6 7-4.4 7-3.8 7-3.1 7-3.2 7-4.4 7-6.1 7-6.8 7-6 7-4.5 7-3.2 7-2.2 7-1.3 7-0.9 7-0.7 7-0.3 7 0.9 7 2.5 7 3.7 7 4 7 3.5 7 2.1 7 1.1 7 1 7 2.5 7 4.3 7 5.6 7 5.8 7 5.6 7 4.9 7 4.4 7 4.3 7 4.3 7 4.1 7 3.8 7 3.3 7 3 7 2.7 7 2.3 7 1.7 7 1.5 7 1.5 7 1.7 7 1.8 7 1.5 7 1.1 7 0.6 7 0.5 3.2 0.3"/>
<path d="M155.7 524.5l5.3 0 7 0.3 7 0.6 7 0.6 7 0.2 7-0.5 7-1.1 7-1.5 7-1.7 7-1.8 7-2 7-1.9 7-1.9 7-2.1 7-2.4 7-2.5 7-2.5 7-2.7 7-3.3 7-4.3 7-5.2 7-5.5 7-4.9 7-3.9 7-3.2 7-4 7-5.4 7-6.7 7-6.9 7-5.7 7-3.4 7-0.8 7 1.5 7 2.1 7 1.6 7 0.9 7 0.6 7 0.4 7-0.3 7-0.6 7 0.2 7 2.3 7 4.4 7 5.7 7 6 7 5.5 7 4.8 7 4.1 7 3.4 7 3.4 7 3.9 7 4.2 7 4.2 7 3.5 7 3.1 7 2.9 7 2.7 7 2.6 7 2.5 2.9 1"/>
<path d="M147.4 523.0l6.6-0.1 7 0.6 7 0.8 7 0.7 7 0.2 7-0.6 7-1.4 7-2.3 7-2.7 7-2.6 7-2 7-1.8 7-2 7-2.6 7-3 7-3.2 7-3.2 7-3.6 7-4 7-4 7-3.5 7-3.2 7-3 7-3.4 7-4 7-4.6 7-4.8 7-4.2 7-3.2 7-2.6 7-2.4 7-2.2 7-2.2 7-2.1 7-1.9 7-1.4 7-0.4 7 0.9 7 2.5 7 3.5 7 3.8 7 3.8 7 3.6 7 3.9 7 4.6 7 5 7 4.7 7 4.6 7 4.7 7 4.8 7 4.7 7 4.2 7 3.4 7 2.7 7 2.2 7 2.1 7 2.3 7 2.4 7 2.3 7 1.9 7 1.7 7 1.6 7 1.5 0.4 0.1"/>
<path d="M196.1 521.9l6.9-0.5 7-0.1 7-0.4 7-1 7-1.6 7-2.1 7-2.2 7-2.4 7-2.7 7-3 7-2.9 7-2.5 7-2.5 7-3.3 7-4.4 7-5.6 7-5.8 7-5.3 7-4.7 7-4.9 7-5.5 7-5.9 7-5.5 7-4.6 7-4 7-3.8 7-3.1 7-1.9 7-0.6 7 0.5 7 1.5 7 2.9 7 4.2 7 4.8 7 4.9 7 4.8 7 4.9 7 5.2 7 5.1 7 5 7 4.7 7 4.4 7 4 7 3.8 7 3.7 7 3.4 7 3.3 7 3.3 7 3.5 7 3.6 7 3.5 7 3.3 7 2.9 7 2.3 7 1.6 7 1 7 0.5 7 0.1 7-0.1 7 0.1 1.1 0"/>
<path d="M238.0 511.8l0 0 7-2.2 7-1.8 7-1.7 7-2.1 7-2.7 7-3.4 7-4.1 7-5.1 7-5.8 7-6.6 7-6.8 7-6.4 7-5.2 7-3.8 7-3.1 7-3.6 7-4.2 7-3.4 7-1.5 7 0.3 7 1 7 0.7 7 0.3 7 0.2 7 0.5 7 1 7 2.5 7 4 7 5 7 5 7 4.6 7 3.7 7 2.8 7 2 7 2.1 7 3.2 7 4.4 7 5.1 7 4.9 7 4.2 7 3.5 7 3.3 7 3.2 7 3.2 7 2.8 7 2.3 7 1.9 4.9 1.3"/>
<path d="M128.8 526.6l4.2 0.1 7 0.3 7 0.2 7 0 7-0.4 7-0.7 7-0.8 7-0.8 7-0.8 7-0.7 7-0.7 7-0.6 7-1 7-1.9 7-2.9 7-3.3 7-3 7-2.6 7-2.7 7-3.3 7-4.4 7-5.3 7-6 7-6.3 7-6 7-4.9 7-3.5 7-2.5 7-2.3 7-3 7-3.9 7-4.1 7-4 7-3.5 7-3.1 7-2.4 7-0.9 7 1 7 2.6 7 3.2 7 2.5 7 1.5 7 1.1 7 1.9 7 3.7 7 5.3 7 6.2 7 5.7 7 4.5 7 3.6 7 3.8 7 4.5 7 5.1 7 4.8 7 4 7 3.2 7 3 7 2.9 7 2.9 7 2.5 7 2.2 7 1.7 7 1.4 7 1.1 7 0.9 7 0.9 1.6 0.2"/>
<path d="M242.7 513.8l2.3-0.4 7-1.3 7-1.6 7-2.5 7-3 7-2.9 7-2.7 7-3.3 7-4.9 7-6.5 7-7.6 7-7.4 7-6.7 7-6 7-5.7 7-5.2 7-4.9 7-4.6 7-4.5 7-4 7-2.8 7-1.7 7-0.9 7-0.2 7 1.3 7 3.4 7 4.8 7 5.5 7 5.8 7 6.2 7 6.3 7 5.8 7 4.8 7 4.1 7 4.4 7 4.9 7 5.3 7 5.1 7 4.8 7 4.3 7 3.8 7 3.1 7 2.3 7 2.2 7 2.3 7 2.5 7 2.2 7 1.5 7 1 7 0.9 2.8 0.4"/>
<path d="M183.2 523.8l5.8-0.8 7-0.8 7-0.6 7-0.8 7-1.2 7-1.8 7-2 7-1.9 7-1.9 7-2.4 7-3.4 7-4.1 7-4.4 7-4.6 7-4.7 7-4.9 7-4.9 7-4.5 7-3.9 7-3.7 7-4.2 7-4.9 7-5.2 7-4.9 7-4.2 7-2.8 7-1 7 0.5 7 1.1 7 0.8 7 0 7 0.2 7 1.3 7 2.8 7 3.8 7 4.3 7 4 7 3.2 7 2.4 7 2.1 7 2.7 7 3.9 7 5.1 7 5.6 7 5.2 7 4.3 7 3.5 7 2.7 7 2.6 7 2.7 7 3.2 7 3.7 7 3.5 7 2.9 7 2 7 1.6 7 1.3 7 1 7 0.6 7 0.3 7 0.2 7 0.4 7 0.6 7 0.6 7 0.4 7 0.3 5.5 0.1"/>
<path d="M167.3 522.4l0.7 0 7-0.2 7 0.4 7 0.3 7 0.1 7-0.3 7-0.6 7-0.8 7-1.1 7-1.5 7-2.2 7-2.6 7-2.8 7-3 7-3.4 7-3.9 7-4.2 7-4.1 7-4.2 7-4.3 7-4.6 7-5 7-5 7-4.8 7-4.2 7-3.7 7-3.5 7-3.4 7-2.8 7-1.8 7-0.8 7-1 7-2.1 7-3.1 7-3.1 7-2 7-0.8 7 0.3 7 1.6 7 3.8 7 6.4 7 7.7 7 6.8 7 5.2 7 4.5 7 5 7 5.9 7 5.9 7 5 7 4 7 3.4 7 3.3 7 3.6 7 3.4 7 3.1 7 2.4 7 2 7 1.9 7 2 7 2.1 7 1.7 7 1.1 7 0.6 7 0.5 7 0.5 7 0.3 7 0.2 7-0.2 7-0.3 6.4 0"/>
<path d="M193.9 520.9l2.1-0.3 7-0.5 7-0.2 7-0.6 7-1 7-1.7 7-2.7 7-3.3 7-3.8 7-3.5 7-3.2 7-3.1 7-3.4 7-4 7-4.7 7-5.1 7-5.4 7-5.8 7-5.9 7-5.7 7-5.2 7-3.9 7-2.5 7-0.9 7-0.3 7-0.3 7-0.8 7-0.9 7-0.1 7 1.5 7 2.8 7 3.1 7 2.8 7 2.4 7 2.1 7 1.6 7 1 7 0.7 7 1.2 7 2.9 7 4.8 7 6.2 7 6.2 7 5.4 7 4.8 7 4.1 7 3.4 7 3 7 2.6 7 2.5 7 2.4 5.9 2.2"/>
<path d="M93.3 527.3l4.7 0.1 7 0.4 7 0.3 7 0.2 7 0 7-0.3 7-0.3 7-0.3 7-0.3 7-0.3 7-0.6 7-0.9 7-1.1 7-1.2 7-1.1 7-0.9 7-0.8 7-0.7 7-1 7-1.3 7-1.8 7-2.3 7-2.6 7-2.9 7-3.1 7-3.5 7-3.7 7-4.1 7-4.5 7-4.9 7-4.6 7-3.6 7-2.6 7-2.8 7-4.5 7-6.1 7-6.3 7-4.7 7-2.2 7-0.6 7 0.1 7 0 7-0.9 7-1.9 7-2.6 7-1.9 7 0.3 7 3.4 7 5.7 7 6.5 7 5.9 7 4.7 7 3.6 7 2.7 7 2.2 7 2.6 7 3.3 7 3.9 7 4 7 4 7 3.9 7 3.8 7 3.3 7 2.4 7 1.7 7 1.5 7 1.9 7 2.3 7 2.5 6.1 2"/>
<path d="M188.0 523.1l1 0 7 0 7 0.2 7 0 7-0.4 7-1 7-1.5 7-2.1 7-2.5 7-2.9 7-3.2 7-3.5 7-3.3 7-3.1 7-3.1 7-3.9 7-5 7-5.9 7-6 7-5.6 7-5.1 7-4.7 7-4.4 7-4.1 7-4.1 7-4.4 7-4.3 7-3.9 7-3.2 7-1.9 7 0.3 7 2.6 7 4.1 7 4.2 7 3.1 7 2.6 7 2.9 7 3.5 7 3.6 7 3.5 7 3.8 7 4.3 7 4.9 7 4.8 7 4.5 7 4.2 7 3.7 7 3.1 7 2.7 7 2.8 7 3.2 7 3.3 7 3.2 7 2.7 7 2.5 4.2 1.3"/>
<path d="M232.3 518.6l5.7-1.9 7-2.4 7-2.3 7-2.7 7-3.2 7-3.7 7-3.7 7-3.4 7-3.2 7-3.6 7-4.4 7-5.2 7-5.9 7-6.5 7-6.9 7-6.7 7-5.8 7-4.6 7-3.5 7-3.1 7-2.9 7-2.4 7-1.4 7-0.4 7 0.4 7 1.3 7 2 7 2.7 7 3.4 7 4.3 7 5.4 7 6.1 7 6 7 5.1 7 4.3 7 3.7 7 3.5 7 3.7 7 4.1 7 4.6 7 4.9 7 4.8 7 4.4 7 3.9 7 3.2 7 2.6 7 2 7 1.5 7 1.2 7 1.2 6.9 1.3"/>
<path d="M155.9 523.8l5.1-0.3 7-0.1 7 0 7-0.2 7-0.4 7-0.5 7-0.5 7-0.6 7-0.8 7-1.3 7-2 7-2.5 7-2.9 7-3.2 7-3.5 7-3.7 7-3.6 7-3 7-2.3 7-2.3 7-3.1 7-4.6 7-6 7-6.4 7-6 7-4.9 7-3.5 7-2.1 7-1.3 7-1.2 7-1.6 7-1.7 7-1.2 7-0.1 7 0.4 7 0.5 7 0.2 7 0.1 7 0.4 7 0.9 7 1.5 7 1.6 7 2.1 7 2.8 7 3.6 7 4.3 7 5 7 5.3 7 5.2 7 4.9 7 4.4 7 4 7 3.4 7 2.6 7 2.3 7 2.6 7 2.8 7 2.8 7 2.4 7 1.9 7 1.8 7 1.7 7 1.5 7 1.3 7 1.2 0.7 0.2"/>
<path d="M222.2 517.7l1.8-0.6 7-1.9 7-1.8 7-1.9 7-2.2 7-2.6 7-3 7-3.3 7-3.7 7-4.1 7-4.4 7-4.6 7-5.2 7-6.3 7-7.6 7-8.4 7-7.9 7-6.2 7-3.8 7-1.3 7 0.6 7 0.8 7-0.3 7-1.4 7-1.2 7-0.1 7 0.9 7 1.1 7 1.4 7 2.5 7 3.6 7 4.5 7 5.1 7 5.6 7 6 7 6.3 7 6.1 7 5.3 7 4.2 7 3.5 7 3.5 7 3.9 7 4.1 7 3.7 7 3.1 7 2.6 7 2.1 7 1.7 7 1.4 7 1.2 7 1.2 7 0.9 7 0.7 7 0.7 2.8 0.2"/>
<path d="M243.0 507.7l2-0.9 7-2.8 7-2.3 7-1.8 7-1.8 7-2.2 7-3.5 7-4.5 7-5 7-4.9 7-4.5 7-4.4 7-4.8 7-5.6 7-6.1 7-5.7 7-4.8 7-3.9 7-3.4 7-2.6 7-1 7 1.6 7 3.1 7 3.1 7 2 7 1.5 7 2.2 7 3.6 7 4.7 7 5.1 7 4.6 7 3.8 7 3.1 7 3 7 3.6 7 4.5 7 5.4 7 5.6 7 5.3 7 4.7 7 3.5 7 2.5 7 1.8 7 1.8 7 2.3 7 2.9 7 2.9 7 2.3 7 1.4 7 0.6 7 0.2 7 0 7-0.1 7 0.2 5.1 0.3"/>
<path d="M192.4 519.9l3.6-0.3 7-0.1 7 0 7-0.3 7-1 7-1.6 7-1.8 7-1.6 7-1.6 7-2.2 7-3.2 7-3.9 7-4.3 7-4.5 7-4.9 7-5.4 7-5.2 7-4.5 7-4.4 7-4.6 7-4.7 7-3.6 7-2.2 7-1.5 7-1.8 7-1.9 7-1.3 7-0.7 7-0.7 7-1 7-1.1 7-1 7-1 7-0.6 7 0.3 7 1.6 7 3 7 4 7 5 7 6.2 7 6.9 7 6.9 7 5.9 7 4.2 7 3.1 7 2.6 7 2.7 7 3.2 7 4 7 4.5 7 4.8 7 4.1 7 3 7 1.9 7 1.4 7 1.4 7 1.4 7 1.2 7 0.7 7 0.3 7 0 7 0.3 7 0.4 7 0.6 7 0.6 7 0.2 7 0.1 7-0.1 7-0.1 7-0.1 7-0.1 3.6 0.1"/>
<path d="M225.1 515.7l5.9-1.3 7-1.8 7-1.9 7-2.1 7-2.4 7-2.7 7-2.8 7-2.6 7-2.6 7-3.3 7-4.6 7-5.8 7-6.2 7-5.7 7-4.8 7-4 7-3.5 7-3.2 7-3.2 7-3.4 7-3.3 7-2.7 7-1.7 7-0.6 7-0.3 7-0.5 7-0.7 7 0 7 1.1 7 2.2 7 2.7 7 2.6 7 3.2 7 4.4 7 5.9 7 6.4 7 6.2 7 5.2 7 4.2 7 3.5 7 3.5 7 4.1 7 4.8 7 5 7 4.6 7 3.7 7 2.4 7 1.4 7 0.5 7 0.6 7 1 4.2 0.9"/>
<path d="M143.2 523.4l3.8-0.4 7-0.1 7 0.6 7 1 7 0.7 7 0 7-0.7 7-1.4 7-1.5 7-1.6 7-1.9 7-2.5 7-3 7-3.3 7-3.2 7-3.2 7-3.2 7-3.3 7-3.2 7-3 7-3.1 7-3.9 7-4.9 7-5.5 7-4.7 7-3.6 7-2.4 7-2 7-2 7-2.6 7-3.2 7-3.4 7-3 7-2.4 7-1.5 7-0.4 7 0.9 7 2 7 2.2 7 2 7 2 7 2.5 7 3.3 7 4.1 7 3.9 7 3.5 7 3.4 7 3.8 7 4.3 7 4 7 3.3 7 3.1 7 3.8 7 4.5 7 4.7 7 4 7 3.3 7 2.6 7 2.2 7 1.8 7 1.4 7 1.2 7 1 7 0.9 7 1 7 1.1 7 1.1 7 0.8 7 0.5 6.6 0.2"/>
<path d="M187.0 521.9l2-0.1 7-0.2 7-0.3 7-0.8 7-1.5 7-2.1 7-2.2 7-2.3 7-2.3 7-2.8 7-3.4 7-4.3 7-5.1 7-5.6 7-5.8 7-5.3 7-4.2 7-2.8 7-2.2 7-2.9 7-4.5 7-5.8 7-6.6 7-6.5 7-5.8 7-3.9 7-2 7-0.6 7-0.1 7 0.6 7 2 7 3.5 7 3.9 7 3.6 7 3.2 7 3.1 7 3.2 7 3.6 7 4.3 7 4.9 7 5.4 7 5.7 7 5.9 7 6 7 5.7 7 5.2 7 4.4 7 3 7 1.7 7 0.9 7 1.2 7 1.9 7 2.5 7 2.7 7 2.2 7 1.8 7 1.3 7 1 7 0.8 7 0.6 7 0.6 7 0.6 7 0.6 7 0.3 7 0 7-0.3 7-0.6 7-0.7 7-0.4 2.3-0.1"/>
<path d="M227.1 518.4l3.9-0.9 7-1.9 7-1.7 7-1.6 7-1.3 7-1.8 7-2.7 7-4.4 7-5.9 7-6.7 7-6.5 7-5.3 7-4 7-3.5 7-3.9 7-4.7 7-5.1 7-5.3 7-5.4 7-5.1 7-4.3 7-2.8 7-1 7 0.5 7 1.5 7 2.1 7 2.1 7 1.6 7 1.6 7 2.5 7 3.8 7 5 7 5.2 7 4.6 7 3.7 7 3.6 7 4.3 7 5.3 7 6.2 7 6.6 7 6.4 7 5.5 7 4.4 7 3.4 7 2.5 7 1.5 7 0.7 7 0.3 7 0.3 7 0.6 7 0.9 7 1.1 1.9 0.4"/>
<path d="M187.2 522.6l1.8-0.3 7-1.2 7-1.3 7-1.6 7-2 7-2.3 7-2.3 7-2.3 7-2.5 7-2.6 7-2.5 7-2.5 7-2.6 7-2.9 7-3.4 7-4.1 7-4.4 7-4.3 7-3.9 7-4.1 7-4.4 7-4 7-2.9 7-1.8 7-0.7 7-0.1 7 0.5 7 0.8 7 0.8 7 0.2 7-0.5 7-1.2 7-1.3 7-0.8 7 0.5 7 1.8 7 2.8 7 3 7 2.7 7 2.1 7 1.8 7 2.2 7 3.1 7 4 7 4.2 7 4 7 3.5 7 3.5 7 4.1 7 4.4 7 4 7 3.1 7 2.2 2 0.5"/>
<path d="M187.5 522.0l1.5-0.1 7-0.3 7-0.3 7-0.8 7-1.3 7-2 7-2.4 7-2.8 7-2.6 7-2.6 7-2.5 7-2.4 7-2.4 7-2.3 7-2.7 7-3.6 7-4.9 7-5.7 7-5.5 7-5 7-5 7-5.3 7-5 7-3.7 7-2.3 7-1.9 7-2.4 7-3.2 7-3.2 7-2.2 7-0.6 7 1.4 7 3 7 3.8 7 3.3 7 2.7 7 2.9 7 4 7 4.7 7 4.5 7 3.7 7 3.4 7 3.8 7 4.2 7 4.7 7 4.7 7 4.3 7 3.5 7 2.9 7 2.8 7 2.9 7 3 7 3 7 2.9 7 2.6 7 1.9 7 1.3 7 1.1 7 1.1 7 1.1 7 0.7 7 0.3 7 0 7-0.1 5.1 0"/>
<path d="M176.5 521.2l5.5 0.1 7 0.8 7 0.9 7 0.4 7-0.5 7-1.6 7-2.3 7-2.8 7-2.7 7-2.3 7-2 7-2.3 7-3.1 7-3.7 7-3.6 7-3 7-2.8 7-3.3 7-4.4 7-5.6 7-5.7 7-4.9 7-3.8 7-3.4 7-3.9 7-4.6 7-4.9 7-4.4 7-3 7-1.5 7-0.6 7-0.3 7 0.1 7 0.8 7 1.5 7 1.9 7 2.7 7 3.7 7 4.4 7 4.3 7 4.2 7 4.5 7 5.3 7 6.1 7 6.3 7 5.6 7 4.5 7 3.3 7 2.7 7 2.5 7 2.9 7 3.2 7 2.8 7 1.8 7 1.1 7 0.8 4.3 0.6"/>
<path d="M108.0 523.8l4 0.2 7 0.7 7 1.2 7 1 7 0.6 7 0.1 7-0.2 7-0.4 7-0.3 7-0.2 7-0.3 7-0.6 7-0.9 7-1.1 7-1.4 7-1.6 7-1.7 7-1.9 7-2.4 7-3.1 7-3.8 7-3.7 7-3.1 7-2.5 7-2.2 7-2.8 7-4 7-4.8 7-4.9 7-4.8 7-4.6 7-4.3 7-4 7-3.5 7-3.4 7-3.7 7-4.2 7-4.3 7-3.3 7-1.4 7 0.3 7 1.1 7 1.1 7 1.2 7 1.6 7 1.6 7 1.8 7 2.4 7 3.2 7 3.8 7 4 7 4 7 4.1 7 4.9 7 5.7 7 6.2 7 5.8 7 4.5 7 2.9 7 2.1 7 2.3 7 2.8 7 3.2 7 2.9 7 2.4 7 2.2 7 1.9 7 1.6 7 1 7 0.5 7 0.4 7 0.5 3.4 0.4"/>
<path d="M129.7 527.2l3.3 0 7 0 7 0.2 7 0.3 7 0 7-0.3 7-0.6 7-0.9 7-1.1 7-1.2 7-1.2 7-1.3 7-1.5 7-2 7-2.3 7-2.3 7-2 7-1.7 7-1.9 7-2.7 7-3.5 7-3.7 7-3.6 7-3.4 7-3.5 7-3.5 7-3.7 7-3.9 7-4.4 7-4.9 7-5.3 7-5 7-4.4 7-3.6 7-2.5 7-1.5 7-0.9 7-1.3 7-2.1 7-2 7-0.3 7 1.9 7 3.5 7 4 7 4.1 7 4.5 7 4.7 7 4.8 7 4.7 7 4.6 7 4.2 7 3.9 7 3.7 7 3.4 7 3 7 2.7 7 2.6 7 2.7 7 2.9 7 2.8 7 2.4 7 2 7 1.8 0.6 0.2"/>
<path d="M146.1 525.3l0.9 0 7 0.3 7 0.3 7 0.4 7 0.1 7-0.1 7-0.4 7-0.9 7-1.4 7-1.7 7-1.9 7-1.8 7-1.7 7-1.6 7-1.6 7-1.7 7-2 7-2.7 7-3.5 7-4.3 7-4.9 7-5.2 7-5.2 7-5.5 7-5.9 7-6.3 7-6.1 7-5.2 7-3.6 7-2.6 7-2.3 7-2.8 7-2.7 7-2 7-1.2 7-0.8 7-0.4 7 0 7 0.6 7 1.3 7 1.7 7 2.3 7 2.9 7 3.9 7 4.5 7 5.2 7 5.5 7 5.4 7 5.1 7 4.9 7 4.8 7 4.7 7 4.4 7 3.8 7 3.4 7 3.1 7 2.9 7 3 7 3 7 2.6 7 2 7 1.4 7 1 7 0.8 7 1 0.2 0.1"/>
<path d="M226.5 519.3l4.5-1 7-1.4 7-1.5 7-1.8 7-2.4 7-3.1 7-4.1 7-4.8 7-5.1 7-4.9 7-4.8 7-4.6 7-4.5 7-4.3 7-4.6 7-5.5 7-6.4 7-6.2 7-4.3 7-1.8 7 0.4 7 1.6 7 1.3 7 0.4 7-0.1 7-0.3 7-0.4 7-0.7 7-0.3 7 0.5 7 1.8 7 3.7 7 5.5 7 6.3 7 5.5 7 4 7 3.1 7 3.1 7 4.1 7 5 7 5.3 7 4.6 7 3.5 7 2.8 7 2.8 7 3.1 7 3 7 2.8 7 2.3 7 2 7 1.5 7 1.1 7 0.6 6.3 0.6"/>
<path d="M213.0 521.4l4-0.8 7-1.7 7-1.8 7-1.9 7-1.8 7-1.5 7-1.6 7-2.3 7-3.5 7-4.5 7-4.6 7-4.2 7-4.1 7-4.7 7-5.8 7-7 7-7.7 7-7.8 7-6.6 7-4.6 7-2.7 7-1.8 7-1.9 7-2 7-1.5 7-0.3 7 1 7 1.7 7 1.6 7 0.9 7 0.4 7 0.8 7 2.5 7 4.9 7 6.7 7 7.1 7 5.9 7 4.3 7 3.6 7 3.9 7 4.8 7 5.7 7 5.8 7 4.7 7 3.2 7 2.2 7 2.1 7 2.5 7 2.6 7 2.5 7 2 7 1.4 5.1 0.8"/>
<path d="M225.2 520.2l5.8-0.6 7-0.4 7-0.4 7-0.8 7-1.6 7-2.4 7-3 7-3.5 7-3.7 7-3.7 7-3.9 7-4.8 7-6.1 7-6.9 7-6.7 7-6.1 7-6.1 7-6.8 7-7.4 7-6.6 7-4.2 7-1.5 7 0.3 7 0.4 7 0.3 7 0.7 7 1.7 7 2 7 0.9 7-0.9 7-1.2 7 0.5 7 3.5 7 6.1 7 7.6 7 7.9 7 7.4 7 6.2 7 5 7 4.3 7 4 7 4.2 7 4.4 7 4.3 7 3.7 7 3.1 7 2.7 7 2.3 7 2 7 1.7 7 1.5 2.3 0.5"/>
<path d="M194.7 524.6l1.3 0 7 0.3 7 0.2 7 0 7-0.3 7-0.8 7-1.3 7-1.8 7-2.3 7-2.9 7-3.6 7-4.4 7-4.8 7-4.9 7-4.8 7-4.8 7-4.5 7-3.6 7-3 7-3.5 7-4.6 7-5.8 7-6 7-5.7 7-4.7 7-3.5 7-2.3 7-1.3 7-1.2 7-1.5 7-1.7 7-1.8 7-1.6 7-1 7 0.6 7 2.5 7 3.6 7 3.9 7 4.4 7 5 7 5.3 7 5.5 7 5.5 7 5.5 7 5.4 7 5.3 7 5.4 7 5.7 7 5.2 7 4.4 7 3.5 7 3.1 7 2.8 7 2.3 7 1.6 7 1.1 7 0.7 7 0.5 7 0.7 7 0.8 4.9 0.7"/>
<path d="M202.9 518.8l0.1 0 7-0.7 7-0.2 7 0.1 7-0.3 7-1.1 7-2.4 7-3.3 7-3.4 7-3.2 7-3.1 7-3.4 7-4.1 7-4.5 7-4.7 7-4.6 7-4.3 7-4.1 7-4.5 7-5.2 7-5.7 7-5.7 7-5.4 7-4.6 7-3.5 7-1.7 7 0.5 7 2 7 2.1 7 1.4 7 0.7 7 0.8 7 1.4 7 1.9 7 1.8 7 2 7 2.8 7 4.3 7 5.5 7 6.4 7 6.5 7 6.6 7 6.2 7 4.7 7 2.9 7 1.1 7 0.6 7 1.2 7 2.4 7 3.4 7 3.6 7 3.4 7 3.2 7 2.6 7 2.1 7 1.7 7 1.4 7 1.1 7 1 7 0.9 7 0.8 7 0.6 7 0.4 7 0.1 7 0 7-0.2 7-0.1 1.4 0"/>
<path d="M171.9 524.6l3.1-0.2 7-0.2 7-0.3 7-0.6 7-1 7-1.5 7-1.7 7-2 7-2.1 7-2.1 7-2 7-2.2 7-2.6 7-3.2 7-3.7 7-4 7-4.2 7-3.9 7-3.4 7-3 7-3.5 7-4.7 7-5.2 7-4.3 7-2.8 7-2.4 7-3.4 7-5.1 7-6.2 7-5.7 7-4.1 7-1.6 7 0.4 7 1.6 7 1.9 7 2 7 3 7 4.5 7 5.4 7 5.6 7 5.1 7 4.7 7 3.9 7 3 7 2.2 7 2.2 7 3.3 7 4.6 7 5.6 7 5.9 7 5.3 7 4.1 7 3 5.6 1.8"/>
<path d="M148.6 526.9l5.4-0.1 7-0.2 7-0.4 7-0.6 7-0.8 7-1 7-0.7 7-0.5 7-0.5 7-0.9 7-1.3 7-1.8 7-2.4 7-2.8 7-3.1 7-3.1 7-3.2 7-3.3 7-3.5 7-3.5 7-3.4 7-3.5 7-3.6 7-3.6 7-3.5 7-3.8 7-4.4 7-4.9 7-4.8 7-4.3 7-3.4 7-2.7 7-2.5 7-2.4 7-2.1 7-1.7 7-1.3 7-1 7 0 7 2.1 7 4.5 7 6.2 7 6.4 7 5.1 7 3.3 7 1.5 7 1 7 1.9 7 3.4 7 4.9 7 5.5 7 5 7 4.3 7 3.8 7 3.9 7 3.8 7 3.6 7 2.8 7 2.2 7 2 7 2 7 1.9 7 1.5 7 1 7 0.7 7 0.7 5.2 0.7"/>
<path d="M208.8 520.3l1.2-0.1 7-0.7 7-0.8 7-1.3 7-1.6 7-1.5 7-1.5 7-2.2 7-3.5 7-4.3 7-4.4 7-3.9 7-3.6 7-3.6 7-4.2 7-4.8 7-5.4 7-5.2 7-4.9 7-4.9 7-5.3 7-6.1 7-5.9 7-4.8 7-2.7 7-0.6 7 0.6 7 0.7 7 0.3 7 0.1 7 0.6 7 1.6 7 2.6 7 3.6 7 4 7 3.7 7 3.2 7 3.6 7 4.8 7 5.8 7 6.2 7 5.9 7 5.3 7 5 7 4.8 7 4.5 7 4 2.5 1.3"/>
<path d="M258.7 505.7l0.3-0.2 7-2.7 7-2.2 7-2.2 7-3 7-4.4 7-5.7 7-5.9 7-5.2 7-4.2 7-4 7-4.6 7-4.9 7-4.6 7-4.1 7-3.3 7-2.5 7-1.7 7-1.1 7-0.3 7-0.2 7-0.5 7-0.8 7-0.2 7 1.5 7 3.3 7 4.3 7 4.6 7 4.1 7 3.7 7 4.1 7 4.8 7 5.1 7 4.6 7 3.9 7 3.9 7 4.4 7 4.4 7 4 7 3.2 7 2.8 7 2.7 7 2.9 7 3 2.7 1.1"/>
<path d="M192.8 522.1l3.2-0.4 7-0.5 7-0.1 7 0 7-0.5 7-1 7-2 7-2.6 7-3.3 7-4 7-4.6 7-5.1 7-5.1 7-4.9 7-4.7 7-4.6 7-4.5 7-4.1 7-3.6 7-3.4 7-4.3 7-5.4 7-6 7-5.6 7-5 7-4.5 7-4.2 7-3.3 7-1.5 7 0.9 7 3.1 7 4.7 7 5.2 7 4.7 7 4.1 7 4.3 7 5.5 7 6.4 7 6.2 7 5 7 3.7 7 3.2 7 3.6 7 4.4 7 4.9 7 4.7 7 4.1 7 3.1 7 2.4 7 1.8 7 1.9 1.1 0.3"/>
<path d="M147.6 524.3l6.4-0.3 7 0 7 0.1 7-0.3 7-0.6 7-1.2 7-1.4 7-1.5 7-1.5 7-1.6 7-1.9 7-2.2 7-2.5 7-2.8 7-3 7-3.1 7-3.2 7-3.2 7-3 7-2.8 7-2.7 7-3.4 7-4.9 7-6.4 7-7.2 7-6.3 7-4.7 7-3.4 7-3 7-3.1 7-2.9 7-2.5 7-1.9 7-1.3 7-0.6 7 0.5 7 1.5 7 2.1 7 2.5 7 2.6 7 3.1 7 3.5 7 4.3 7 4.9 7 5 7 4.8 7 4.4 7 4.3 7 4.5 7 4.9 7 4.6 7 4.2 7 3.6 7 3.4 7 3.2 7 3.1 7 2.8 7 2.5 7 2.2 7 2 7 1.6 7 1.2 7 0.5 7 0.1 7 0 7 0 7 0.4 0.2 0"/>
<path d="M173.6 523.6l1.4-0.1 7-0.4 7-0.2 7-0.4 7-0.8 7-1.3 7-1.8 7-2 7-2 7-1.6 7-1.5 7-1.6 7-2.2 7-2.6 7-2.9 7-3.5 7-4.6 7-5.8 7-6.6 7-6.5 7-6 7-5.2 7-4.3 7-3.1 7-2 7-2 7-3 7-3.7 7-3.2 7-1.7 7-0.7 7-0.6 7-0.7 7 0.1 7 1.6 7 3 7 3.4 7 2.9 7 2.1 7 2 7 2.9 7 4.6 7 6.3 7 7.1 7 6.5 7 4.5 7 2.5 7 1.4 7 1.4 7 2.1 7 2.6 7 3.1 7 3.5 7 3.7 7 3.6 7 3 7 2.3 7 1.8 7 1.5 7 1.5 0.3 0"/>
<path d="M225.6 518.3l5.4-1.1 7-1.1 7-1.5 7-2.5 7-3.7 7-4.3 7-4.4 7-4.1 7-3.9 7-3.9 7-3.8 7-3.6 7-3.1 7-3.2 7-4 7-5.5 7-6.7 7-7.4 7-6.6 7-4.7 7-2.5 7-0.9 7-0.1 7 0.5 7 0.9 7 1.6 7 2.3 7 3.2 7 3.3 7 2.8 7 1.7 7 0.9 7 0.8 7 1.3 7 2.2 7 3.8 7 6.2 7 8 7 8.3 7 7.1 7 5.2 7 3.8 7 3.3 7 3.3 7 3 7 2.7 7 2.3 7 2 7 1.6 7 1.2 7 0.8 7 1 7 1.2 7 1.3 7 1.2 5.8 0.8"/>
<path d="M171.3 524.8l3.7-0.4 7-0.5 7-0.5 7-0.5 7-0.7 7-1 7-1.2 7-1.4 7-1.8 7-1.8 7-1.9 7-2.1 7-2.9 7-3.9 7-4.9 7-5.2 7-4.8 7-4.2 7-3.8 7-3.7 7-3.9 7-4 7-4.2 7-4.1 7-4.1 7-4 7-4.3 7-4.6 7-4.9 7-4.2 7-2.6 7-0.6 7 1.4 7 3.2 7 4.5 7 4.5 7 3.3 7 1.8 7 1.3 7 2.3 7 3.9 7 5.1 7 5 7 3.9 7 3.1 7 2.8 7 2.9 7 3 7 3.1 7 3.3 7 3.5 7 4.1 7 4.3 7 4.1 7 3.3 7 2.6 7 2.2 7 2 7 1.9 7 1.3 7 0.7 7 0.2 7 0.3 6.9 0.5"/>
<path d="M183.9 525.3l5.1-0.6 7-0.8 7-0.8 7-0.8 7-0.8 7-0.8 7-0.9 7-1.1 7-2.1 7-3.5 7-5 7-5.9 7-5.9 7-5 7-3.8 7-3.1 7-3 7-4 7-5.3 7-6.2 7-6.4 7-5.6 7-4.7 7-4.1 7-3.4 7-2.2 7-1 7-0.1 7 0.2 7 0 7-0.5 7-0.9 7-0.9 7 0 7 1.7 7 3.5 7 4.7 7 5.2 7 5.3 7 5.7 7 6.2 7 6.4 7 6.3 7 5.9 7 5.3 7 4.5 7 3.9 7 3.5 7 3.5 7 3.4 7 3.2 7 2.8 7 2.4 7 2 7 1.6 7 1.3 7 1 7 0.5 7 0.3 7 0.1 7 0.2 7 0.2 7 0 7-0.2 7-0.4 7-0.4 7-0.2 3.5 0"/>
<path d="M178.4 523.4l3.6-0.4 7-0.6 7-0.8 7-1.1 7-1.6 7-2.1 7-2.2 7-2.3 7-2 7-1.6 7-1.7 7-2.6 7-3.7 7-4.3 7-4.1 7-3.7 7-3.3 7-3.3 7-3.2 7-3 7-3 7-3.4 7-3.8 7-3.7 7-3.5 7-3 7-2.9 7-2.6 7-2 7-1.4 7-0.7 7 0.2 7 1.4 7 2 7 2.2 7 2 7 2 7 2.4 7 2.8 7 3.4 7 3.6 7 3.8 7 3.9 7 4.3 7 4.9 7 4.8 7 4.2 7 3.4 7 3.2 7 3.3 7 3.2 7 3 7 2.3 7 1.7 7 1.4 7 1.5 7 1.8 7 1.7 7 1.2 7 0.9 7 0.8 7 1.1 7 1.1 7 1 7 0.5 7 0.2 7 0.1 7 0.1 1 0"/>
<path d="M172.4 523.9l2.6-0.2 7-0.4 7 0 7 0.2 7 0 7-0.3 7-0.9 7-1.4 7-1.7 7-2.2 7-2.6 7-2.8 7-2.7 7-2.6 7-2.7 7-3.1 7-3.6 7-4.3 7-5 7-5.5 7-5.5 7-5.1 7-4.6 7-4.4 7-4.4 7-4.4 7-4.2 7-3.7 7-2.8 7-1.2 7 0.1 7 0.4 7-0.1 7-1.2 7-1.6 7-0.9 7 0.6 7 2.3 7 4 7 5.4 7 6.2 7 6 7 4.8 7 4.4 7 4.4 7 4.4 7 4.4 7 4.5 7 4.3 7 3.6 7 2.5 7 1.9 7 2.5 7 3.2 7 3.5 7 3.2 7 2.7 7 2.1 7 1.5 7 1.1 0.2 0"/>
<path d="M215.1 518.1l1.9-0.6 7-2.3 7-2.6 7-2.5 7-2.2 7-1.8 7-1.4 7-1.5 7-2.3 7-3.7 7-4.8 7-5.4 7-5.3 7-4.8 7-4.3 7-4.2 7-4.1 7-3.9 7-3.3 7-2.6 7-2.1 7-1.8 7-1.9 7-2.4 7-2.6 7-2.1 7-0.4 7 1.7 7 2.7 7 2.1 7 0.9 7 0.3 7 0.7 7 1.7 7 2.9 7 4.2 7 4.9 7 5.1 7 4.9 7 4.6 7 4.8 7 4.8 7 4.5 7 4.2 7 3.9 7 3.8 7 3.4 7 2.9 7 2.1 7 1.4 7 1 7 0.8 7 1 7 1.4 7 1.9 7 2 7 1.7 7 1.1 7 0.4 7 0.1 0.9 0"/>
<path d="M207.6 518.5l2.4-0.3 7-1 7-1.4 7-2.1 7-2.9 7-3.6 7-3.6 7-2.9 7-2 7-1.7 7-1.9 7-2.7 7-3.4 7-4.1 7-4.2 7-4.5 7-5 7-5.9 7-6.2 7-5.4 7-3.5 7-1.9 7-1.4 7-2.1 7-2.8 7-2.6 7-1.5 7-0.4 7 0.5 7 1.1 7 2.2 7 3.5 7 4.3 7 4.6 7 4.5 7 5.1 7 5.7 7 5.9 7 5.1 7 4 7 3.2 7 2.7 7 2.5 7 2.8 7 3 7 3.5 7 3.5 7 3.5 7 3.3 7 3.1 7 2.8 7 2.4 7 1.7 7 1 7 0.5 7 0.2 7 0.4 7 0.4 2.6 0.2"/>
<path d="M205.0 518.7l5-1 7-0.9 7-0.5 7-0.6 7-1.1 7-1.8 7-2.3 7-2.9 7-3.4 7-3.8 7-4.1 7-4.4 7-4.9 7-5.6 7-6 7-6.1 7-5.5 7-4.3 7-2.7 7-0.8 7 0.5 7 0.1 7-1.7 7-3.5 7-3.9 7-2.8 7-1.2 7-0.3 7 0 7 0 7 0.5 7 1.4 7 2 7 2.7 7 3.4 7 4.3 7 5 7 5.1 7 4.6 7 4.1 7 4.2 7 4.6 7 5.3 7 5.4 7 5.1 7 3.9 7 2.8 7 2.2 7 2.2 7 2.2 7 2 7 1.6 7 1.4 7 1.3 7 0.8 7 0.5 7 0.2 7 0.3 1.2 0.1"/>
<path d="M219.3 518.4l4.7-1 7-0.9 7-0.6 7-0.7 7-1.2 7-1.8 7-2.6 7-3 7-3.2 7-3.4 7-3.7 7-4.9 7-6.2 7-7.2 7-7.3 7-6.7 7-6.2 7-6.1 7-6.3 7-6.2 7-5.2 7-3.4 7-1.7 7-0.4 7 0.4 7 1.1 7 1.8 7 2.4 7 2.9 7 3.1 7 3.3 7 3.6 7 3.7 7 4 7 4.6 7 5.5 7 6.2 7 5.8 7 4.9 7 4.1 7 3.8 7 4 7 4.4 7 4.6 7 4.5 7 4.1 7 2.9 7 1.9 7 1.3 7 1.4 7 1.6 7 1.5 7 1 7 0.5 7 0.3 3.1 0.1"/>
<path d="M232.5 514.8l5.5-1.8 7-2.5 7-2.9 7-3.1 7-3.3 7-3.4 7-3.8 7-4.2 7-4.1 7-4 7-3.8 7-4 7-3.9 7-4.1 7-4.5 7-4.8 7-4.7 7-4 7-3.2 7-2.9 7-3.4 7-3.5 7-2.1 7 0.7 7 3.3 7 4.1 7 3.5 7 2.4 7 1.7 7 1.8 7 2.4 7 3 7 3.8 7 4.5 7 5.1 7 5.2 7 4.8 7 4.3 7 3.7 7 3.5 7 3.8 7 4.1 7 4.3 7 4.1 7 3.4 7 2.5 7 2 7 1.9 3.4 1"/>
<path d="M222.1 517.1l1.9-0.5 7-1.6 7-1.4 7-1.5 7-1.5 7-1.6 7-1.9 7-2.5 7-3.2 7-3.8 7-4.5 7-4.7 7-4.6 7-4.2 7-3.6 7-3 7-3 7-3.3 7-4.1 7-4.6 7-4.5 7-3.7 7-2.6 7-1.3 7-0.5 7-0.4 7-0.7 7-0.6 7 0.2 7 0.9 7 1.2 7 1.2 7 1.3 7 2 7 2.8 7 3.7 7 4.7 7 6 7 7 7 6.7 7 5.3 7 3.9 7 2.9 7 2.9 7 3.1 7 3.2 7 3.1 7 2.8 7 2.5 7 2.5 7 2.2 7 2 7 1.5 7 1.1 7 1 6.5 1"/>
<path d="M193.9 525.5l2.1-0.2 7-0.7 7-0.9 7-0.8 7-0.7 7-0.7 7-0.8 7-1.4 7-2.1 7-3 7-3.7 7-4.2 7-4.7 7-5.2 7-5.6 7-5.5 7-5.1 7-4.9 7-4.8 7-5.1 7-5.7 7-6.2 7-6.1 7-5.6 7-4.4 7-2.9 7-1.4 7-0.5 7 0.1 7 0.2 7 0 7-0.1 7 0 7 0.8 7 1.8 7 2.8 7 3.8 7 4.9 7 6 7 6.7 7 6.4 7 5.4 7 4.4 7 3.9 7 4 7 4.6 7 5.4 7 5.7 7 5.2 7 4.1 7 3.2 7 3 7 2.8 7 2.4 7 1.8 7 1.2 7 0.9 7 0.7 7 0.5 7 0.4 7 0 7-0.2 7-0.4 7-0.2 2.3 0"/>
<path d="M177.3 520.9l4.7-0.5 7-0.5 7-0.3 7-0.4 7-0.7 7-0.9 7-1.3 7-1.4 7-1.8 7-2.1 7-2.7 7-3.2 7-3.8 7-3.8 7-3.7 7-3.5 7-3.7 7-4.3 7-4.9 7-5.3 7-5 7-4.5 7-3.8 7-3.3 7-3.1 7-3.7 7-4.1 7-3.8 7-2.5 7-0.5 7 1 7 1.4 7 1.1 7 0.9 7 1.6 7 3 7 4 7 4.4 7 4.1 7 3.9 7 4 7 4.2 7 4.5 7 4.2 7 3.5 7 2.8 7 3.1 7 3.8 7 4.5 7 4.4 7 3.7 7 2.9 7 2.6 7 2.5 7 2.4 7 1.8 7 1.2 7 0.8 7 0.7 7 1 1.7 0.2"/>
<path d="M186.2 524.0l2.8-0.1 7 0 7 0 7-0.2 7-0.6 7-1.5 7-2.3 7-3.1 7-3.4 7-3.6 7-3.8 7-3.8 7-3.8 7-3.7 7-3.4 7-3.1 7-3 7-3 7-3.5 7-4.4 7-5.1 7-5.5 7-5.5 7-5.3 7-5.1 7-4.3 7-3 7-1.6 7-0.4 7-0.1 7 0 7 0.1 7 1 7 2.5 7 4 7 5 7 5.1 7 4.2 7 3.2 7 2.5 7 2.5 7 2.9 7 3.2 7 3.6 7 3.8 7 4.2 7 4.4 7 4.5 7 4.2 7 3.6 7 3.2 7 2.8 7 2.4 7 2.3 7 2.3 7 2.5 7 2.5 7 1.9 7 1.3 7 0.8 7 0.5 7 0.2 7 0 7 0 7 0.1 2.5 0"/>
<path d="M229.9 514.2l1.1-0.5 7-3.2 7-3 7-2.5 7-2.4 7-2.6 7-3.3 7-4.1 7-4.7 7-4.6 7-3.7 7-2.8 7-2.6 7-3.1 7-4.3 7-5.6 7-6.7 7-7.1 7-6.3 7-4.8 7-3.2 7-1.6 7-0.2 7 1.2 7 2 7 1.7 7 1.3 7 2.2 7 4.5 7 6.6 7 7.2 7 5.9 7 4.1 7 3.1 7 3.3 7 4.7 7 6 7 6.1 7 4.8 7 3.4 7 2.5 7 2.6 7 2.8 7 2.8 7 2.4 7 1.7 7 1.4 7 1.4 7 1.5 7 1.6 7 1.4 7 1 7 0.4 7 0.3 7 0.5 0.7 0.1"/>
<path d="M219.5 522.6l4.5-0.6 7-1.3 7-1.9 7-2.3 7-2.4 7-2.3 7-2.5 7-2.8 7-3.2 7-3.2 7-3.3 7-3.3 7-3.8 7-4.7 7-6 7-6.9 7-7 7-6.7 7-6.5 7-6.5 7-6.3 7-5.5 7-4.5 7-3.3 7-1.7 7-0.1 7 1.3 7 1.6 7 1.4 7 1.6 7 2.9 7 4.3 7 5.1 7 5.2 7 4.9 7 5.1 7 5.7 7 6.7 7 7.4 7 7.2 7 6.5 7 5.8 7 5.4 7 4.9 7 3.7 7 2.2 7 1.1 7 0.8 7 1.1 7 1.5 0.5 0.1"/>
<path d="M214.4 516.4l2.6-0.2 7-0.4 7-0.5 7-1.1 7-1.6 7-2 7-2.2 7-2.3 7-2.4 7-2.5 7-2.9 7-3.5 7-4.4 7-5.2 7-6.5 7-7.6 7-7.6 7-6.8 7-5.4 7-4.1 7-2.9 7-1.9 7-1.2 7-0.8 7-0.7 7-0.8 7-0.5 7-0.2 7 0.6 7 1.1 7 1.6 7 2.1 7 3 7 4.3 7 5.3 7 5.6 7 5 7 4.1 7 3.4 7 3.6 7 4.3 7 5.1 7 5.2 7 4.6 7 3.8 7 3.2 7 3 7 3 7 3 7 3 7 2.9 7 2.3 7 1.5 7 0.8 7 0.1 7-0.1 7-0.2 7 0 6 0.3"/>
<path d="M216.8 519.6l0.2 0 7-1.4 7-1.5 7-1.9 7-2.5 7-3.2 7-3.7 7-4.3 7-4.9 7-5.3 7-5.3 7-4.8 7-4 7-3.2 7-2.4 7-2.1 7-2.7 7-3.6 7-4.8 7-5 7-4.5 7-3.5 7-2.6 7-1.9 7-0.9 7 0.2 7 1 7 0.9 7 1.1 7 2.3 7 3.7 7 3.8 7 2.5 7 1.3 7 1.6 7 2.9 7 4.4 7 5.4 7 5.6 7 5.5 7 5.5 7 5.1 7 4.4 7 3.5 7 2.6 7 2.5 7 2.8 7 3 7 2.7 7 2 7 1.1 7 0.5 7 0.3 2.7 0.3"/>
<path d="M124.2 523.5l1.8-0.1 7 0.3 7 0.7 7 0.7 7 0.5 7 0.1 7-0.2 7-0.7 7-1.1 7-1.3 7-1.4 7-1.4 7-1.3 7-1.2 7-0.8 7-0.8 7-1.2 7-1.9 7-2.6 7-2.9 7-3 7-3.1 7-2.7 7-2.3 7-2.7 7-3.8 7-5.1 7-5.8 7-5.8 7-5.4 7-4.8 7-4.2 7-3.4 7-2.9 7-3 7-3.6 7-4.5 7-4.5 7-2.9 7-0.2 7 2.1 7 2.9 7 2.7 7 2.3 7 2.3 7 2.3 7 2.4 7 2.6 7 2.6 7 2.8 7 3.5 7 4.6 7 5.7 7 6.2 7 5.9 7 4.9 7 3.6 7 2.9 7 2.9 7 3.5 7 3.5 7 2.8 7 1.6 7 1 2.7 0.4"/>
<path d="M133.3 525.7l6.7 0.1 7 0.2 7 0.1 7-0.2 7-0.4 7-0.5 7-0.4 7-0.3 7-0.4 7-0.8 7-1.2 7-1.7 7-2 7-2 7-2.2 7-2.5 7-3 7-3.5 7-3.9 7-3.9 7-3.4 7-3 7-3.2 7-3.9 7-4.6 7-4.9 7-4.6 7-4 7-3.1 7-2.2 7-1.7 7-2.2 7-2.8 7-3.1 7-2.6 7-1.9 7-1.9 7-2 7-1.4 7 0.2 7 1.8 7 3.1 7 3.4 7 3.5 7 3.5 7 3.3 7 2.9 7 2.5 7 2.5 7 3 7 3.9 7 5 7 5.4 7 5 7 4 7 3.3 7 3.5 7 3.9 7 4 7 3.6 7 2.8 7 1.8 7 1.1 7 0.7 7 0.7 1.4 0.1"/>
<path d="M134.1 523.7l5.9 0.1 7 0.6 7 0.7 7 0.4 7 0 7-0.4 7-0.6 7-0.6 7-0.6 7-0.7 7-1.1 7-1.5 7-1.9 7-2.1 7-2.2 7-2.5 7-3 7-3.5 7-3.9 7-4.3 7-4.4 7-4.3 7-4.1 7-4.2 7-4.3 7-4.1 7-3.4 7-2.7 7-2.5 7-2.9 7-3.3 7-3.5 7-3.7 7-3.7 7-3.3 7-2.4 7-1.5 7-1 7-0.7 7 0 7 1.1 7 2.3 7 3.8 7 5.1 7 6 7 6.1 7 5.5 7 5.2 7 5.6 7 5.9 7 5.2 7 3.8 7 2.5 7 2.1 7 2.4 7 2.7 7 2.7 7 2.8 7 2.6 7 2.3 7 1.5 7 0.7 7 0.6 2.7 0.3"/>
<path d="M188.0 521.7l1-0.1 7-1.1 7-1 7-1.4 7-1.5 7-1.4 7-1.3 7-1.2 7-1.5 7-1.8 7-2.1 7-2.4 7-2.9 7-3.7 7-4.6 7-5.1 7-5.5 7-5.2 7-4.5 7-3.6 7-3.1 7-3.5 7-4.2 7-4.4 7-3.6 7-2.3 7-1.6 7-1.2 7-1 7-0.6 7 0 7 0.2 7 0.1 7 0.1 7 0.8 7 1.6 7 2.3 7 2.7 7 3.6 7 4.4 7 4.8 7 4.5 7 4.6 7 5.1 7 5.5 7 5.1 7 4 7 2.8 7 2.1 7 2.2 7 2.2 7 2.4 7 2.3 7 2.2 7 2.3 7 2.3 7 2.4 7 2.2 7 1.8 7 1.5 7 1.2 7 0.9 7 0.6 7 0.5 7 0.5 7 0.5 7 0.4 7 0.1 7-0.2 7-0.4 7-0.4 4.2-0.1"/>
<path d="M220.2 517.6l3.8-0.7 7-1.1 7-1.1 7-1.2 7-1.4 7-1.4 7-1.8 7-2.7 7-4 7-5.2 7-6.1 7-7.3 7-8.2 7-8.2 7-6.8 7-4.9 7-3.5 7-2.9 7-3 7-3.5 7-4.5 7-4.8 7-4.1 7-1.8 7 0.9 7 2.9 7 3.6 7 3.1 7 2.9 7 3 7 3.4 7 3.5 7 3.3 7 3.1 7 2.9 7 3.2 7 4 7 5.2 7 6.2 7 6.6 7 6.5 7 5.8 7 4.7 7 3.7 7 2.6 7 2.1 7 1.7 7 1.8 4.7 1.2"/>
<path d="M153.7 523.7l0.3 0 7 0.1 7 0.2 7 0.2 7-0.2 7-0.3 7-0.4 7-0.7 7-1 7-1.4 7-1.8 7-1.9 7-1.9 7-2.2 7-2.5 7-3 7-3.1 7-3.2 7-3.5 7-4 7-4.3 7-4.3 7-4.4 7-4.9 7-5.9 7-6.7 7-6.4 7-5 7-3.3 7-2 7-1.5 7-1.9 7-2.2 7-1.7 7-0.4 7 0.5 7 0.6 7 0.8 7 1.6 7 2.6 7 3.2 7 3.2 7 3.2 7 3.4 7 4.1 7 4.8 7 5.6 7 5.7 7 5.3 7 4.4 7 3.7 7 3.2 7 3.1 7 3.4 7 3.2 7 2.8 7 2.5 7 2.6 7 2.7 7 2.5 7 2.2 7 1.6 7 1.2 7 0.7 7 0.4 7 0.4 3.1 0.3"/>
<path d="M168.2 520.6l6.8-0.9 7-0.4 7-0.2 7 0 7-0.1 7-0.7 7-1.5 7-1.9 7-1.9 7-1.6 7-1.7 7-2.2 7-2.8 7-3.5 7-3.9 7-3.8 7-3.6 7-3.2 7-3.1 7-3.5 7-4.6 7-5.3 7-4.9 7-3.5 7-1.8 7-1 7-0.9 7-1.3 7-1.9 7-2.5 7-2.4 7-1.5 7 0.4 7 2.2 7 3.3 7 3.2 7 2.5 7 1.8 7 1.1 7 0.7 7 0.7 7 1.3 7 2.4 7 3.3 7 3.5 7 3.2 7 3 7 3.3 7 3.6 7 3.9 7 3.6 7 3.2 7 2.8 7 2.7 7 2.5 7 2.3 7 1.9 7 2 7 2 7 2.2 7 2 7 1.6 7 1.2 7 0.9 6 0.7"/>
<path d="M167.6 523.0l0.4 0 7-0.4 7 0 7-0.1 7-0.3 7-0.7 7-1 7-1.4 7-1.6 7-1.7 7-1.8 7-2.1 7-2.6 7-3.2 7-3.8 7-4.1 7-4.4 7-4.2 7-3.3 7-2.2 7-1.6 7-2 7-2.7 7-3 7-3.2 7-3.7 7-4.5 7-5.1 7-5.2 7-4.7 7-3.7 7-1.9 7 0.1 7 1.2 7 1 7 0.5 7 0.8 7 1.7 7 2.7 7 2.8 7 2.5 7 2.4 7 3 7 4.1 7 4.8 7 5.1 7 5.1 7 5 7 4.8 7 3.9 7 3 7 2.4 7 2.1 7 2 7 2.1 7 2.4 7 2.7 7 2.7 7 2.4 7 2 7 1.5 7 0.8 7 0.6 7 0.4 7 0.7 5.4 0.7"/>
<path d="M227.4 516.1l3.6-1.3 7-2.4 7-1.9 7-1.3 7-1.2 7-1.3 7-2.1 7-3.4 7-4.9 7-5.9 7-6 7-5.3 7-4.2 7-3.3 7-3.2 7-3.9 7-4.9 7-5.4 7-5.5 7-5.4 7-4.7 7-3.5 7-1.8 7-0.1 7 1.1 7 1.5 7 1.9 7 2.5 7 2.9 7 2.7 7 2.6 7 3.5 7 5.2 7 6.4 7 6.4 7 5.7 7 4.8 7 4.5 7 4.5 7 4.6 7 4.2 7 3.6 7 3 7 2.8 7 2.6 7 2.3 7 2.3 7 2.1 7 2.1 7 1.8 7 1.4 7 1.1 7 1 7 0.7 7 0.4 7 0.2 7-0.1 7-0.1 5.9 0.1"/>
<path d="M249.4 515.6l2.6-0.7 7-1.9 7-2.4 7-3.4 7-4.3 7-5.2 7-5.3 7-5.2 7-5 7-4.8 7-4.7 7-4.7 7-5 7-6 7-7.2 7-8 7-7.9 7-6.3 7-4.2 7-3 7-2.4 7-1.6 7-0.2 7 1.3 7 2.7 7 3.5 7 4.3 7 5 7 5.2 7 5.3 7 5.7 7 7 7 8.2 7 8.9 7 8.7 7 8 7 6.8 7 5.4 7 4.1 7 3.1 7 2.2 7 1.8 7 1.5 7 1.4 7 1.4 3.2 0.7"/>
<path d="M205.0 519.2l5-0.3 7-0.2 7-0.4 7-1 7-2 7-2.7 7-3.2 7-3.5 7-3.6 7-4.1 7-4.6 7-5.3 7-5.8 7-5.7 7-4.8 7-3.6 7-2.5 7-1.8 7-1.6 7-2.1 7-3.1 7-4.4 7-5.1 7-4.1 7-1.7 7 0.6 7 1.8 7 1.4 7 0.2 7-0.6 7-0.4 7 0.8 7 2.5 7 3.4 7 3.2 7 2.6 7 2.5 7 3.1 7 3.9 7 4.5 7 4.3 7 4.2 7 4.4 7 4.7 7 4.7 7 4.5 7 4 7 3.4 7 2.5 7 1.8 7 1.6 5.6 1.5"/>
<path d="M165.0 522.7l3-0.2 7 0.2 7 0.4 7 0.5 7 0.2 7-0.1 7-0.6 7-1.1 7-1.4 7-1.7 7-1.8 7-2.2 7-2.6 7-3 7-3 7-2.9 7-3.1 7-3.7 7-4.6 7-5.4 7-5.9 7-6 7-5.6 7-5.3 7-4.7 7-3.8 7-2.9 7-2.5 7-3.2 7-4.2 7-4.8 7-4.3 7-2.6 7-0.9 7 0.3 7 0.8 7 1.1 7 1.7 7 2.8 7 4.2 7 5.2 7 5.6 7 5.9 7 6.3 7 6.3 7 6.2 7 5.7 7 5.3 7 4.7 7 3.9 7 3 7 2.4 7 2.5 7 2.9 7 3.5 7 3.5 2.1 1"/>
<path d="M169.9 522.7l5.1-0.4 7-0.3 7-0.1 7-0.2 7-0.5 7-0.8 7-1.3 7-1.6 7-1.9 7-2.3 7-2.5 7-2.8 7-3.1 7-3.7 7-4.5 7-5.4 7-6 7-5.8 7-4.8 7-3.8 7-3.2 7-3.2 7-3.6 7-4.1 7-4.3 7-4 7-3.4 7-2.3 7-1.7 7-1.6 7-1.9 7-1.5 7-0.5 7 0.6 7 1 7 1.1 7 1.7 7 3.3 7 4.9 7 5.7 7 4.9 7 3.2 7 2 7 2.1 7 3.5 7 5.1 7 6.3 7 6.6 7 5.8 7 5 7 4.4 7 4.2 7 3.6 7 2.6 7 1.8 7 1.5 7 1.6 7 1.7 7 1.6 7 1.2 7 0.7 5.9 0.4"/>
<path d="M215.4 519.4l1.6-0.3 7-1.6 7-2.1 7-2.2 7-1.8 7-1.5 7-1.5 7-2 7-3.2 7-4.8 7-6.2 7-6.7 7-5.7 7-3.9 7-2.2 7-1.5 7-1.8 7-2.1 7-2.2 7-2 7-2.6 7-3.7 7-4.7 7-4.5 7-3.1 7-1.1 7 0.3 7 0.7 7 0.1 7-0.8 7-0.8 7 0.5 7 2.7 7 4.3 7 4.6 7 4.1 7 3.4 7 3.6 7 4.5 7 5.7 7 6.3 7 6.2 7 5.4 7 4.4 7 3.2 7 2.4 7 2 7 2.4 7 3 7 3 7 2.6 7 1.7 7 1 7 0.7 7 0.9 7 1.1 7 1.2 7 1.1 7 0.7 7 0.5 7 0.2 7 0 7-0.2 7-0.4 7-0.5 7-0.3 6 0"/>
<path d="M186.1 522.5l2.9-0.2 7 0 7 0 7-0.4 7-0.7 7-0.9 7-0.8 7-0.9 7-1.3 7-1.8 7-2.2 7-3.2 7-4.4 7-5.6 7-5.7 7-4.9 7-3.9 7-3.2 7-3.4 7-3.9 7-4.8 7-5.4 7-5.6 7-5 7-4 7-2.9 7-2.2 7-1.5 7-1.1 7-0.8 7-0.9 7-1.2 7-0.6 7 1.5 7 3.9 7 4.6 7 3.6 7 2 7 1.5 7 2.1 7 3.2 7 3.8 7 3.7 7 3.1 7 2.7 7 2.9 7 3.9 7 5 7 5.5 7 5.1 7 4.1 7 3.5 7 3.3 7 3.2 7 2.9 7 2.2 7 1.6 7 0.9 7 0.8 7 0.8 3.2 0.4"/>
<path d="M236.3 509.4l1.7-0.7 7-2.2 7-1.8 7-1.6 7-2 7-2.3 7-2.9 7-4 7-5.4 7-6.4 7-6.9 7-6.5 7-5.9 7-5.1 7-4.3 7-3.4 7-2.2 7-1.2 7-0.5 7-0.6 7-0.9 7-0.9 7-0.3 7 0.7 7 1.3 7 1.3 7 1.3 7 1.2 7 1.1 7 1.6 7 2.7 7 4.8 7 7 7 8 7 7.2 7 5 7 3 7 1.9 7 2 7 2.3 7 2.8 7 3.5 7 3.9 7 3.6 7 2.9 7 2.2 7 2 7 2.2 7 2.3 7 2.1 7 1.7 7 1.3 7 1.1 7 0.8 7 0.5 7 0.2 7 0.1 7-0.1 7 0 7-0.2 7-0.1 7 0 2.7 0"/>
<path d="M170.9 523.6l4.1 0.1 7 0.4 7 0.4 7-0.1 7-0.4 7-0.9 7-1.1 7-1.5 7-1.9 7-2.3 7-2.7 7-3 7-2.8 7-2.6 7-2.5 7-2.6 7-2.9 7-3.7 7-4.8 7-5.8 7-6.1 7-5.6 7-4.7 7-4 7-3.9 7-4 7-4.3 7-4.3 7-3.7 7-2.7 7-1.6 7-0.1 7 0.9 7 1.2 7 1.2 7 1.3 7 1.9 7 1.9 7 1.6 7 1.7 7 2.7 7 3.6 7 4 7 4.4 7 4.8 7 5.6 7 5.9 7 5.8 7 5.2 7 4.3 7 3.7 7 3.2 7 3.2 7 3.1 7 2.8 7 2.2 7 1.8 7 1.7 7 1.9 7 1.5 7 1.1 7 0.6 7 0.4 6.1 0.5"/>
<path d="M137.7 525.8l2.3 0 7 0 7 0.1 7 0 7 0.1 7-0.1 7-0.2 7-0.5 7-0.6 7-0.7 7-0.9 7-1.2 7-1.5 7-1.7 7-1.9 7-2 7-2.2 7-2.9 7-3.8 7-4.8 7-5.4 7-5.3 7-4.8 7-4.5 7-4.6 7-5.1 7-5.3 7-4.9 7-4.2 7-3.5 7-2.4 7-1.3 7-0.5 7-0.4 7-1 7-2 7-2.6 7-2.5 7-1.2 7 0.3 7 1.2 7 1.7 7 2.5 7 4.3 7 6.2 7 7.2 7 6.3 7 4.5 7 2.9 7 2.7 7 3.6 7 4.7 7 5.1 7 5.1 7 4.5 7 3.7 7 2.7 7 2.1 7 2.2 7 2.1 7 1.9 7 1.4 7 1.1 2.2 0.3"/>
<path d="M199.8 521.9l3.2-0.7 7-1.7 7-1.9 7-1.9 7-1.8 7-1.6 7-1.6 7-1.9 7-2.7 7-3.4 7-3.7 7-3.6 7-3.8 7-4.2 7-4.6 7-4.7 7-4.7 7-4.4 7-4 7-3.2 7-2.6 7-2.1 7-1.7 7-1.7 7-2 7-2.2 7-2.1 7-1.8 7-1.7 7-1.9 7-2.1 7-1.6 7 0.2 7 2.9 7 5.3 7 5.9 7 4.9 7 3.5 7 2.6 7 2.3 7 3.1 7 4.4 7 6 7 7 7 6.6 7 5 7 3.3 7 2.4 7 2.2 7 2.5 7 2.7 7 2.5 7 2.2 7 1.6 7 1.4 7 1.4 7 1.3 7 1.2 1.4 0.2"/>
<path d="M268.7 495.8l4.3-2.8 7-4.3 7-4.2 7-4.5 7-4.8 7-5.1 7-5.4 7-5.6 7-5.5 7-5 7-4.6 7-4.5 7-4.5 7-4.3 7-3.2 7-0.9 7 1.2 7 2.3 7 1.9 7 0.8 7 0.5 7 1.4 7 2.8 7 4 7 4.5 7 4.5 7 4.8 7 5.1 7 5.2 7 5.4 7 6.1 7 6.7 7 6.5 7 5.6 7 4.3 7 3.4 7 3 7 3.1 7 3 7 2.8 7 2.4 7 1.7 7 1.2 7 0.7 7 0.7 2.7 0.3"/>
<path d="M185.9 519.9l3.1-0.1 7 0.4 7 0.6 7 0 7-1.3 7-2.6 7-3 7-2.8 7-2.6 7-2.6 7-2.9 7-3.2 7-3.3 7-3.1 7-2.6 7-2.1 7-2.1 7-2.7 7-3.7 7-4.6 7-5.3 7-5.7 7-5.7 7-4.9 7-3.6 7-2.2 7-1.1 7-0.8 7-1.4 7-1.9 7-1.9 7-1.1 7 0 7 1.2 7 2.2 7 2.7 7 2.8 7 2.7 7 2.7 7 3.4 7 4.2 7 4.7 7 4.7 7 4.8 7 4.9 7 5.1 7 4.9 7 4.7 7 4.2 7 3.6 7 2.7 7 1.8 7 1.1 7 0.8 7 0.6 7 0.9 7 1.4 4.6 1.3"/>
<path d="M205.1 523.2l4.9-0.5 7-0.9 7-1.7 7-2.4 7-2.6 7-2.3 7-1.9 7-1.9 7-2.7 7-3.9 7-5.1 7-5.5 7-5.3 7-4.8 7-4.9 7-5.7 7-6.4 7-6 7-4.8 7-3.6 7-3.1 7-3.1 7-3.6 7-4.2 7-4.8 7-4.3 7-2.5 7 0.2 7 2.8 7 4.3 7 4.2 7 3.2 7 1.7 7 0.7 7 1.1 7 3.3 7 6 7 8 7 8.5 7 7.7 7 6.5 7 5.8 7 5.6 7 5 7 4.1 7 2.8 7 1.9 7 1.5 7 1.8 7 2.1 7 1.8 7 1.3 7 0.7 7 0.9 0.8 0.1"/>
<path d="M148.6 524.9l5.4-0.2 7-0.2 7-0.3 7-0.5 7-0.7 7-0.5 7-0.7 7-0.9 7-1.3 7-1.7 7-2 7-2.1 7-2.2 7-2.7 7-3.5 7-4.7 7-5.6 7-5.8 7-5.1 7-3.7 7-2.4 7-1.7 7-1.6 7-1.9 7-2.7 7-3.5 7-4.3 7-4.5 7-3.8 7-2.9 7-2.2 7-2.1 7-1.9 7-1.1 7 0.5 7 1.8 7 2.4 7 2.1 7 1.7 7 1.9 7 2.7 7 3.5 7 4.1 7 4 7 3.6 7 3.2 7 3.1 7 3.2 7 3.3 7 3.4 7 3.6 7 3.4 7 3.2 7 3.1 7 3 7 2.7 7 2.3 7 1.8 7 1.3 7 1.4 7 1.6 3.1 0.9"/>
<path d="M140.8 525.2l6.2 0.1 7 0.3 7 0.4 7 0.4 7 0.3 7 0.1 7-0.2 7-0.6 7-1 7-1.1 7-1.2 7-1.1 7-1.2 7-1.4 7-1.4 7-1.8 7-2.3 7-3 7-4 7-4.9 7-5.7 7-6.2 7-6.4 7-5.8 7-4.9 7-4.4 7-4.6 7-4.4 7-3.8 7-2.6 7-2 7-2.2 7-2.8 7-2.9 7-2.4 7-1.9 7-1.6 7-1.5 7-0.8 7 0.5 7 2.4 7 3.9 7 4.2 7 3.9 7 3.9 7 4.7 7 5.7 7 6 7 5.3 7 4.4 7 3.8 7 4.3 7 5 7 5.2 7 4.3 7 3.4 7 2.8 7 2.5 7 2.3 7 2.1 7 1.8 7 1.6 7 1.4 7 1.3 2.9 0.5"/>
<path d="M164.5 525.0l3.5-0.4 7-0.9 7-1 7-1 7-0.9 7-0.8 7-0.8 7-1.4 7-2.1 7-2.7 7-3.1 7-2.9 7-2.6 7-2.5 7-3 7-3.8 7-4.4 7-4.5 7-4.2 7-4.4 7-4.8 7-5 7-4.7 7-4.2 7-4.1 7-4.2 7-4.2 7-3.6 7-2.1 7-0.6 7 0.6 7 1.1 7 1.1 7 0.7 7-0.1 7-0.8 7-0.4 7 1.2 7 3.6 7 5.5 7 6.6 7 6.7 7 6.1 7 5.1 7 4.1 7 3.5 7 3.5 7 3.8 7 3.9 7 3.6 7 3.3 7 3.1 7 3.3 7 3.1 7 2.5 7 1.8 7 1.1 7 0.7 7 0.5 7 0.3 7 0.4 7 0.8"/>
<path d="M103.2 526.7l1.8 0 7 0.2 7 0.3 7 0.4 7 0.4 7 0.3 7 0 7-0.1 7-0.2 7-0.5 7-0.6 7-0.8 7-1 7-0.9 7-1 7-1.2 7-1.6 7-2 7-2.1 7-2.2 7-2.2 7-2.6 7-3.5 7-4.3 7-4.7 7-4.2 7-3.8 7-3.9 7-4.4 7-4.8 7-5 7-5.4 7-5.7 7-5.6 7-4.6 7-3.4 7-2.7 7-2.8 7-3.2 7-3.2 7-2.4 7-0.8 7 1 7 2.2 7 2.7 7 2.8 7 3.5 7 4.8 7 6.1 7 6.4 7 5 7 3.4 7 2.3 7 2.4 7 3.2 7 4.2 7 5.2 7 5.5 7 5.2 7 4.1 7 3.4 7 2.7 7 2.3 7 2 7 2 7 2.1 7 2.2 7 2.1 7 1.9 7 1.6 7 1.2 7 0.9 7 0.5 7 0.2 7-0.1 7-0.1 0.3 0"/>
<path d="M141.9 526.1l5.1-0.1 7 0 7 0.1 7 0 7-0.2 7-0.5 7-0.9 7-1.1 7-1.3 7-1.5 7-1.7 7-1.8 7-1.8 7-1.9 7-2.1 7-2.6 7-3 7-3.1 7-3.2 7-3.5 7-3.9 7-4.5 7-5.3 7-5.6 7-5.5 7-4.9 7-4.6 7-4.5 7-4.7 7-4.3 7-3.1 7-2 7-1.5 7-1.9 7-2.5 7-2.6 7-1.7 7 0.4 7 3.2 7 5.1 7 5 7 3.2 7 1.6 7 2.1 7 4.3 7 6.3 7 6.9 7 5.8 7 4.4 7 3.5 7 3.3 7 3.5 7 3.9 7 3.8 7 3.2 7 2.5 7 2.3 7 2.6 7 2.7 7 2.6 7 2.3 7 2.1 7 2 7 1.8 7 1.3 7 1 7 0.7 7 0.4 7 0.1 7-0.1 7-0.2 7-0.2 4.6 0.1"/>
<path d="M216.5 522.8l0.5-0.1 7-1.9 7-2.4 7-2.8 7-3 7-2.8 7-2.5 7-2.2 7-2.6 7-3.2 7-4 7-4.3 7-4 7-3.9 7-4 7-4.4 7-4.6 7-4.4 7-4.2 7-4.1 7-4 7-3.7 7-3.5 7-3.5 7-3.4 7-2.5 7-1.4 7-0.2 7 1.2 7 2.4 7 2.8 7 2.5 7 2.3 7 2.9 7 4.1 7 5.4 7 6.2 7 6.2 7 5.5 7 4.5 7 3.7 7 3.3 7 3.1 7 3.3 7 3.4 7 3.3 7 3.3 7 3.1 7 2.6 7 1.9 7 1.1 7 0.9 5.6 1"/>
<path d="M150.3 524.9l3.7 0.1 7 0.4 7 0.4 7 0.1 7-0.3 7-0.7 7-1 7-1.1 7-1 7-1 7-1.1 7-1.6 7-2 7-2.2 7-2.1 7-2 7-2.5 7-3.4 7-4.2 7-4.8 7-5.4 7-5.7 7-5.8 7-5.6 7-5.3 7-4.6 7-4 7-3.4 7-3.7 7-4.2 7-4.8 7-4.2 7-3.3 7-2.7 7-2.8 7-2.5 7-1.6 7 0.1 7 1.2 7 2.1 7 3.2 7 4.6 7 6 7 7.2 7 7.4 7 6.8 7 6.1 7 5.5 7 5.3 7 5.1 7 4.9 7 4.5 7 4.2 7 3.9 7 3.5 7 3.2 7 2.6 7 1.6 7 0.7 7 0.4 0.7 0.1"/>
<path d="M221.7 519.7l2.3-0.7 7-1.7 7-1.4 7-1.3 7-1.4 7-1.9 7-2.4 7-2.8 7-3 7-3.1 7-3.5 7-4.6 7-6.2 7-7.6 7-7.4 7-5.9 7-4 7-2.9 7-2.9 7-3.5 7-3.9 7-4 7-3.3 7-2.6 7-1.9 7-1.5 7-0.4 7 0.8 7 1.5 7 1.8 7 2.4 7 3.5 7 4.4 7 4.8 7 4.6 7 4.3 7 4.5 7 4.9 7 5 7 4.5 7 3.7 7 3.2 7 3.6 7 4.1 7 4.3 7 3.6 7 2.9 7 2.5 2.4 0.9"/>
<path d="M191.9 524.8l4.1-0.5 7-0.6 7-0.3 7-0.3 7-0.5 7-0.9 7-1.5 7-2.2 7-2.8 7-3.5 7-3.9 7-3.7 7-3.5 7-3.2 7-3.3 7-3.6 7-4.4 7-5.2 7-6 7-6.2 7-5.9 7-5 7-3.7 7-2.4 7-2.2 7-3.2 7-4.5 7-4.5 7-3 7-1.2 7 0.1 7 1.1 7 1.8 7 2.4 7 3 7 3.9 7 4.8 7 5.5 7 5.5 7 5.5 7 4.9 7 4.1 7 3.4 7 3.6 7 4.4 7 5.1 7 5.1 7 4.4 7 3.6 7 2.6 7 1.9 7 1.6 7 2 5.9 2"/>
<path d="M173.1 523.5l1.9-0.3 7-0.6 7-0.6 7-0.5 7-0.6 7-0.7 7-0.8 7-1 7-1.2 7-1.8 7-2.2 7-2.5 7-2.4 7-2.4 7-3 7-4.2 7-5.3 7-6 7-5.4 7-4.2 7-3.1 7-3.2 7-4.1 7-5.2 7-5.7 7-5.7 7-4.7 7-3.4 7-2.6 7-2.6 7-2.8 7-2.3 7-0.8 7 1.1 7 2.7 7 4 7 4.3 7 3.7 7 2.4 7 1.1 7 0.7 7 1.5 7 3.8 7 5.9 7 6.7 7 6.1 7 4.8 7 4.1 7 4 7 4.4 7 4.9 7 4.8 7 4.3 7 3.8 7 3.1 7 2.5 7 1.9 7 1.1 7 0.8 7 0.6 7 0.9 7 0.9 7 0.9 7 0.9 7 0.8 7 0.7 7 0.5 7 0.3 7 0.1 7 0.2 7 0.3 7 0.3 7 0.1 7 0.1 7-0.1 7-0.2 7-0.1 7-0.2 7-0.1 3.8 0"/>
<path d="M107.1 526.2l4.9 0.1 7 0.4 7 0.5 7 0.4 7 0.2 7 0 7-0.1 7-0.5 7-0.7 7-0.9 7-0.9 7-0.8 7-0.7 7-0.9 7-1.2 7-1.7 7-2.4 7-2.7 7-3 7-3 7-3.3 7-3.3 7-3.4 7-3.5 7-3.8 7-4.1 7-4.3 7-4.2 7-4.2 7-4.6 7-5 7-4.9 7-4.5 7-4 7-3.6 7-3.2 7-2.7 7-1.8 7-0.6 7 0.5 7 1.6 7 2.3 7 2.5 7 1.7 7 0.6 7 0.5 7 1.2 7 2.3 7 3.3 7 4.3 7 5.3 7 5.6 7 5.2 7 4.3 7 3.4 7 3 7 3.1 7 3.4 7 3.9 7 4.1 7 3.9 7 3.4 7 3 7 2.9 7 2.7 0.1 0"/>
<path d="M120.4 524.3l5.6-0.1 7 0.5 7 0.7 7 0.8 7 0.6 7 0.2 7-0.2 7-0.8 7-1.1 7-1.1 7-1.2 7-1.6 7-1.8 7-2 7-1.8 7-1.7 7-1.8 7-2.6 7-3.3 7-3.8 7-3.8 7-3.9 7-3.9 7-3.9 7-3.8 7-4 7-4.5 7-4.6 7-4.6 7-4.5 7-4.7 7-5.3 7-5.4 7-4.5 7-2.2 7 0.7 7 3 7 3.4 7 2.3 7 0.9 7 0.4 7 0.8 7 1.9 7 2.9 7 3.4 7 3.3 7 3 7 3.1 7 2.9 7 2.3 7 1.8 7 2.2 7 4 7 5.6 7 5.7 7 4.4 7 2.8 7 2 7 2.2 7 2.5 7 2.6 7 2.5 7 2.4 7 2.3 7 2.2 4 1.1"/>
<path d="M216.6 518.4l0.4-0.1 7-2 7-2 7-1.7 7-1.4 7-1.2 7-1.9 7-3 7-4.2 7-4.7 7-4.9 7-4.7 7-4.3 7-4 7-3.6 7-3.7 7-4.1 7-4.6 7-4.6 7-4.6 7-4.5 7-3.8 7-2.7 7-1.3 7 0.1 7 1.1 7 1.6 7 1.4 7 0.4 7-1.1 7-2.2 7-1.9 7 0.3 7 3.4 7 6 7 7.2 7 7.1 7 6.5 7 5.5 7 4.8 7 4.3 7 4.2 7 4.3 7 4.3 7 4.1 7 3.6 7 2.9 7 2.1 7 1.9 7 1.9 5.8 1.9"/>
<path d="M190.1 520.3l5.9-0.4 7-0.1 7-0.1 7-0.6 7-1.7 7-2.4 7-2.5 7-2.1 7-1.9 7-2 7-2.5 7-3.1 7-4 7-5.5 7-6.7 7-7.3 7-6.8 7-5.8 7-4.9 7-4.9 7-5.2 7-5.5 7-5.1 7-4 7-2.7 7-1 7 0.9 7 2.3 7 2.7 7 2.5 7 2.2 7 2.2 7 1.9 7 1.6 7 1.9 7 3.1 7 4.3 7 5 7 5.2 7 5.3 7 5.2 7 4.9 7 4.2 7 3.6 7 3.2 7 3.2 7 3.6 7 3.9 7 3.5 7 3 7 2.4 7 2.1 7 1.7 7 1.3 7 0.6 7 0.6 1.2 0.1"/>
<path d="M182.2 520.3l6.8-0.2 7 0.2 7 0.2 7-0.2 7-1 7-1.6 7-2.3 7-2.6 7-2.9 7-2.8 7-2.8 7-3.1 7-3.6 7-3.9 7-3.7 7-3.5 7-3.6 7-4.3 7-4.9 7-4.9 7-4.4 7-3.7 7-3.3 7-3.4 7-3.6 7-3.7 7-3.7 7-3.5 7-3.4 7-2.9 7-2 7-0.4 7 1.4 7 3.1 7 4.5 7 5.3 7 5.2 7 4.3 7 3.6 7 3.7 7 4.4 7 5.2 7 5.3 7 4.7 7 3.9 7 3.5 7 3.3 7 3.5 7 3.6 7 3.1 7 2.5 7 1.8 7 1.8 7 2.2 7 2.5 7 2.7 7 2.4 7 1.8 7 1.3 7 0.8 7 0.8 7 0.9 7 0.9 5.5 0.7"/>
<path d="M199.1 520.9l3.9-0.4 7-0.4 7-0.3 7-0.6 7-1 7-1.6 7-2.2 7-2.9 7-4 7-4.9 7-5.2 7-4.7 7-4.1 7-3.6 7-3.2 7-2.7 7-2.3 7-2.7 7-3.9 7-5.5 7-6.8 7-6.8 7-5.6 7-3.4 7-2 7-1.4 7-1.9 7-2.7 7-2.8 7-1.6 7 1.1 7 3.7 7 4.6 7 4 7 3.2 7 3 7 3.5 7 4.4 7 5 7 5.2 7 5.1 7 4.7 7 4.4 7 4.1 7 4 7 4.1 7 4.1 7 4.3 7 4 7 3.5 7 2.8 7 2.3 7 1.9 7 1.5 7 1.1 7 1 7 0.9 0.2 0"/>
<path d="M141.0 523.8l6 0.3 7 0.7 7 0.7 7 0.1 7-0.6 7-1.4 7-1.8 7-1.8 7-1.6 7-1.4 7-1.2 7-1.2 7-1.5 7-1.9 7-2.5 7-3.3 7-4.3 7-4.9 7-5.2 7-5.4 7-5.5 7-5.2 7-4.3 7-2.6 7-1.3 7-1 7-1.4 7-2.2 7-2.7 7-3.1 7-3.5 7-3.3 7-1.8 7 0 7 0.8 7 0.4 7-0.7 7-1 7-0.1 7 2 7 3.6 7 3.6 7 2 7 0.5 7 0.1 7 1 7 2.5 7 4.1 7 5 7 5.7 7 6.3 7 6.3 7 5.7 7 4.2 7 2.6 7 1.7 7 1.7 7 2.3 7 2.8 7 2.9 7 2.2 7 1.5 7 1.1 7 1.1 7 1.2 7 0.9 7 0.6 7 0.3 7 0.3 2.6 0.2"/>
<path d="M254.8 508.3l4.2-1.9 7-3 7-2.9 7-3.3 7-4.2 7-5 7-5.6 7-5.7 7-5.4 7-4.6 7-3.9 7-3.8 7-4.8 7-5.7 7-6.3 7-5.4 7-3.3 7-0.7 7 1.1 7 1.5 7 1 7 0.4 7 0.3 7 1.4 7 3.4 7 5 7 5.9 7 6.1 7 5.8 7 5.1 7 4.4 7 4.1 7 3.7 7 2.7 7 1.9 7 1.5 7 2.2 7 3.7 7 5.1 7 5.7 7 5.1 7 3.9 7 2.7 7 1.7 7 1.3 7 0.8 7 0.6 7 0.5 7 0.5 7 0.6 0.4 0.1"/>
<path d="M176.4 522.4l5.6-0.2 7 0.1 7 0.1 7-0.3 7-0.9 7-1.4 7-1.8 7-2.4 7-3 7-3.3 7-3.4 7-3.2 7-3.2 7-3.4 7-3.5 7-3.8 7-4 7-4.5 7-4.4 7-4.2 7-3.6 7-3.3 7-3.6 7-4.1 7-4.7 7-4.3 7-3.5 7-2.5 7-1.9 7-1.2 7-0.2 7 0.7 7 0.6 7 0.1 7-0.5 7-0.4 7 0.8 7 3 7 5.3 7 6.9 7 7.5 7 7.5 7 6.7 7 5.1 7 3.7 7 2.7 7 2.6 7 2.8 7 3 7 3.3 7 3.3 7 3.2 7 2.8 7 2.2 7 1.7 7 1.4 7 1.3 7 1.3 5.9 1.2"/>
<path d="M108.1 527.0l3.9 0.1 7 0.2 7 0.2 7 0.2 7-0.1 7-0.2 7-0.4 7-0.5 7-0.5 7-0.6 7-0.7 7-0.6 7-0.7 7-0.7 7-1 7-1.4 7-1.9 7-2 7-2.1 7-2.1 7-2.3 7-3 7-4 7-4.9 7-5.2 7-4.8 7-3.7 7-2.8 7-2.8 7-3.9 7-5 7-5.3 7-4.9 7-4.1 7-3.4 7-2.8 7-2.9 7-3.2 7-3.3 7-3.1 7-2.3 7-1.3 7 0.1 7 1.5 7 2.4 7 3.2 7 3.6 7 3.7 7 3.4 7 3.2 7 3.2 7 3.8 7 4.4 7 4.6 7 4.5 7 4.4 7 4.7 7 4.8 7 4.5 7 3.9 5 2.6"/>
<path d="M85.7 527.6l5.3 0.1 7 0.2 7 0.2 7 0.2 7 0.1 7-0.1 7-0.2 7-0.3 7-0.4 7-0.6 7-0.7 7-0.7 7-0.8 7-1 7-1.3 7-1.3 7-1.3 7-1.3 7-1.2 7-1.5 7-1.6 7-2 7-2.4 7-2.7 7-2.7 7-2.6 7-2.8 7-3.5 7-4.5 7-5.3 7-5.7 7-5.6 7-5.5 7-5.3 7-5.2 7-4.8 7-4.3 7-3.3 7-2.2 7-1.4 7-1 7-1 7-1 7-0.2 7 0.7 7 1.3 7 1.7 7 1.8 7 2 7 2.2 7 2.5 7 3.1 7 3.7 7 4.1 7 4.3 7 4.2 7 4.1 7 3.5 7 3.3 7 3.4 7 4 7 4.2 7 4.2 7 3.9 7 3.6 7 3.2 7 2.7 7 2.3 7 2.3 7 2.2 7 1.8 7 1.3 7 0.8 7 0.5 7 0.2 7 0.1 7 0.2 1.7 0.2"/>
<path d="M209.7 519.7l0.3-0.1 7-1.3 7-1.1 7-0.9 7-0.9 7-0.9 7-1.1 7-1.3 7-1.7 7-2.5 7-3.7 7-5.2 7-6 7-6 7-5 7-4.3 7-4.7 7-6.2 7-7.9 7-8.6 7-7.6 7-5.7 7-3.6 7-2 7-1.1 7-1.2 7-1.5 7-1.3 7-0.1 7 1.9 7 3.3 7 4 7 4.2 7 4.7 7 5.4 7 5.6 7 5.3 7 4.8 7 4.8 7 5 7 4.7 7 4.5 7 4.5 7 5.1 7 5.7 7 5.5 7 4.6 7 3.8 7 3.3 7 2.7 7 1.9 7 1.1 7 0.8 7 0.7 7 0.8 7 0.8 7 0.7 7 0.5 7 0.5 7 0.2 7 0.1 7 0 7 0 4.8 0.1"/>
<path d="M205.4 521.0l4.6-0.5 7-0.6 7-0.7 7-1.2 7-2 7-2.7 7-3.3 7-3.5 7-3.3 7-3 7-2.4 7-2 7-2.2 7-3.2 7-4.8 7-6.1 7-6.5 7-6.9 7-6.8 7-6 7-4.4 7-2.7 7-1.8 7-1.8 7-2.8 7-3.9 7-4.7 7-3.8 7-1.2 7 2 7 4.3 7 5.3 7 5.7 7 5.6 7 4.8 7 3.7 7 3.1 7 3.4 7 3.8 7 3.8 7 3.9 7 4.2 7 4.8 7 4.9 7 4.3 7 3.6 7 3.5 7 3.7 4.9 2.6"/>
<path d="M234.1 516.3l3.9-1 7-1.9 7-2.4 7-3 7-3.4 7-3.4 7-3.5 7-3.8 7-4.3 7-4.4 7-3.9 7-3.4 7-3.3 7-4 7-4.6 7-4.7 7-4.6 7-4.3 7-3.8 7-3.2 7-2.9 7-3 7-3.2 7-2.7 7-2.1 7-1 7 0.9 7 3.1 7 4.9 7 5.6 7 5.3 7 4.8 7 4.3 7 4.3 7 4.5 7 4.6 7 4.8 7 4.6 7 4.9 7 5 7 4.7 7 4.2 7 3.2 7 2.7 7 2.4 7 2.4 2.5 0.9"/>
<path d="M117.1 526.3l1.9 0 7 0.2 7 0.3 7 0.1 7-0.2 7-0.3 7-0.3 7-0.2 7 0 7-0.1 7-0.1 7-0.4 7-0.7 7-1.2 7-1.5 7-1.7 7-1.7 7-1.8 7-2.3 7-3.1 7-3.7 7-3.9 7-3.4 7-2.4 7-1.6 7-1.8 7-2.9 7-4.2 7-5.2 7-5.1 7-4.5 7-4.3 7-4.5 7-5 7-5 7-4.6 7-4 7-3.3 7-2.4 7-1.3 7-0.2 7 0.7 7 1.6 7 2.5 7 3.3 7 3.6 7 3.1 7 1.8 7 1.1 7 1.4 7 2.3 7 3.2 7 3.9 7 4.5 7 5.3 7 5.5 7 5 7 4.3 7 3.6 7 3.4 7 3.3 7 3.4 7 3.1 7 2.5 7 1.7 7 1.3 7 1.3 7 1.3 7 1.3 7 1.2 7 1.1 3.4 0.6"/>
<path d="M196.4 518.5l6.6-0.7 7-0.6 7-0.8 7-0.9 7-0.9 7-0.9 7-0.9 7-1.3 7-2.1 7-3 7-4.1 7-4.5 7-4.7 7-4.5 7-4.2 7-3.8 7-3.7 7-3.4 7-3.3 7-3.7 7-4.1 7-4.5 7-4.7 7-5 7-4.5 7-3.3 7-1.5 7-0.2 7 0.5 7 0.3 7 0.2 7 0.9 7 2.2 7 3.6 7 4.2 7 3.8 7 3.1 7 2.5 7 3.1 7 4.6 7 6.1 7 6.3 7 5 7 3.2 7 2.5 7 2.6 7 3.4 7 4.3 7 4.7 7 4.6 7 3.9 7 3 7 2 7 1.4 7 1.1 7 1 7 1.1 7 0.9 7 0.7 7 0.4 7 0 7-0.2 7-0.4 7-0.3 5.9 0"/>
<path d="M151.7 522.8l2.3 0.1 7 0.5 7 0.7 7 0.5 7-0.1 7-0.5 7-0.5 7-0.4 7-0.4 7-0.6 7-1.1 7-2.1 7-3.1 7-3.8 7-3.7 7-3.6 7-3.9 7-4.7 7-5.2 7-5 7-4 7-3.4 7-3.1 7-3.1 7-2.9 7-2.7 7-2.5 7-2.8 7-3.9 7-5.4 7-6.2 7-5.6 7-3.7 7-1.5 7 0.6 7 2.5 7 4 7 4.7 7 3.9 7 2.1 7 0.4 7 0.4 7 1.9 7 3.9 7 5.1 7 5.3 7 4.9 7 4.7 7 4.5 7 4 7 3 7 2.3 7 2 7 2.4 7 2.9 7 2.9 7 2.8 7 2.5 7 2.4 7 2.5 7 2.5 7 2.2 7 1.8 7 1.4 7 1.1 7 0.9 2.4 0.3"/>
<path d="M167.0 523.8l1 0 7-0.1 7 0.2 7 0.3 7-0.2 7-0.9 7-1.7 7-2 7-2.1 7-2.1 7-1.8 7-1.4 7-1.4 7-1.8 7-2.8 7-3.8 7-4.4 7-4.3 7-4.2 7-3.9 7-3.9 7-4.2 7-4.6 7-4.8 7-4.4 7-3.4 7-2.2 7-1.1 7-0.8 7-1.6 7-2.9 7-3.5 7-2.7 7-1.1 7 0.3 7 0.6 7 0.4 7 0.1 7 0.6 7 1.9 7 4 7 5.4 7 5.5 7 4.5 7 3.4 7 2.6 7 2.1 7 2 7 2.3 7 3.4 7 4.9 7 5.7 7 5.5 7 4.2 7 2.9 7 2.3 7 2.2 7 2.1 7 2 7 1.6 7 1.4 7 1.1 7 1.2 7 1.3 7 1.3 7 1.2 7 0.9 7 0.6 7 0.4 0.5 0"/>
<path d="M192.2 521.1l3.8-0.9 7-1.5 7-1.5 7-1.5 7-1.6 7-1.7 7-1.5 7-1.3 7-1.5 7-2.3 7-2.8 7-2.7 7-2.4 7-2 7-2.1 7-2.8 7-4 7-5.7 7-6.8 7-6.5 7-4.6 7-2.4 7-1 7-0.9 7-1.4 7-2 7-2.5 7-2.6 7-2.6 7-2.2 7-1.2 7 0.3 7 1.7 7 2.3 7 2.3 7 2.4 7 2.9 7 3.4 7 3.3 7 3 7 3 7 3.4 7 3.8 7 3.6 7 3.2 7 3.1 7 3.7 7 4.4 7 4.5 7 4 7 3.2 7 2.7 7 2.5 7 2.4 7 2.3 7 2.1 7 1.7 7 1.3 7 1 7 0.5 7 0.2 7 0.3 7 0.4 7 0.5 7 0.5 5.8 0.3"/>
<path d="M234.5 514.2l3.5-0.4 7-0.3 7 0.1 7-0.1 7-0.9 7-2 7-3 7-4.2 7-5.1 7-5.9 7-6.3 7-6.3 7-6 7-5.6 7-5.2 7-4.8 7-4.2 7-3.5 7-2.5 7-1.5 7-1 7-1.8 7-3.1 7-4.1 7-3.6 7-1.3 7 2 7 4.3 7 4.5 7 3.3 7 2.2 7 2.1 7 2.7 7 3.3 7 3.6 7 4.2 7 4.8 7 5 7 5.2 7 5.4 7 5.1 7 4.5 7 3.4 7 2.8 7 3 7 3.4 7 3.8 7 3.4 7 2.4 7 1.5 7 0.9 7 1.1 7 1.4 7 1.6 7 1.5 7 1 7 0.6 7 0.1 7-0.2 7-0.2 6.8 0"/>
<path d="M214.7 522.3l2.3-0.7 7-2.5 7-2.5 7-2.2 7-1.7 7-1.7 7-2.2 7-3.2 7-4.3 7-4.7 7-4.5 7-4.1 7-4.1 7-4.3 7-4.3 7-4.4 7-4.4 7-4.2 7-3.6 7-3.1 7-3.5 7-4.4 7-4.9 7-4 7-1.9 7 0.5 7 1.7 7 1.9 7 1.2 7 0.7 7 0.9 7 1.5 7 1.9 7 2.4 7 3 7 4.3 7 5.9 7 6.6 7 6.4 7 5.3 7 4.5 7 3.7 7 3.2 7 2.8 7 3.2 7 3.5 7 3.5 7 3.1 7 2.5 7 2.2 7 2.1 7 2.2 7 1.8 7 1.3 7 0.8 7 0.6 2.9 0.2"/>
<path d="M154.7 524.6l6.3-0.4 7-0.1 7 0.1 7 0.2 7-0.2 7-0.8 7-1.2 7-1.3 7-1.4 7-1.6 7-2 7-2.5 7-3 7-3.5 7-3.9 7-4.1 7-4.1 7-3.5 7-3 7-3.1 7-4 7-4.4 7-4.2 7-3.7 7-3.5 7-3.7 7-3.9 7-4.2 7-4.2 7-3.9 7-3.5 7-2.6 7-1.6 7-0.4 7 0.5 7 1.3 7 2 7 2.2 7 2.5 7 2.9 7 3.3 7 3.5 7 3.5 7 4.2 7 5.5 7 6.6 7 6.2 7 4.5 7 1.9 7 0.3 7 0.1 7 1.3 7 2.8 7 3.7 7 4 7 3.5 7 3.1 7 2.7 7 2.6 7 2.2 7 1.7 7 1.2 7 0.9 7 0.6 7 0.6 6.3 0.8"/>
<path d="M185.4 521.5l3.6-0.5 7-0.7 7-0.3 7-0.1 7-0.6 7-1.3 7-2 7-2.2 7-2.1 7-1.9 7-1.7 7-2.1 7-3 7-4.4 7-5.3 7-5.7 7-5.6 7-5.2 7-4.7 7-4.3 7-4.4 7-4.6 7-5 7-5 7-4.8 7-4.9 7-5.1 7-4.7 7-3 7 0 7 3.4 7 5.6 7 6.4 7 5.8 7 4.8 7 4 7 3.5 7 3.6 7 3.8 7 3.9 7 3.9 7 3.8 7 4 7 4.1 7 4 7 3.6 7 3 7 2.5 7 2.6 7 2.9 7 3.2 7 3.3 7 3 7 2.4 7 1.7 7 1.3 7 1 7 0.9 7 0.9 7 0.6 7 0.3 7 0.1 2.3 0"/>
<path d="M195.6 520.5l0.4-0.1 7-0.9 7-0.5 7-0.6 7-1.1 7-2.2 7-2.8 7-2.7 7-2.1 7-1.2 7-0.9 7-1.3 7-2.5 7-4 7-5 7-5.2 7-5.2 7-5.2 7-5.7 7-6 7-5.8 7-5.1 7-4.6 7-4 7-2.9 7-1.7 7-0.9 7-0.5 7-0.3 7-0.4 7-0.1 7 0.5 7 1.5 7 1.8 7 1.7 7 2.3 7 3.9 7 5.8 7 6 7 4.7 7 2.9 7 2.1 7 2.5 7 3.5 7 4.4 7 4.9 7 4.6 7 4.3 7 3.8 7 3.5 7 3.1 7 2.7 7 2.4 7 2.4 7 2.2 7 1.9 7 1.7 7 1.3 7 1 7 0.4 7 0.1 7-0.1 7 0 4.1 0.2"/>
<path d="M185.9 525.7l3.1-0.1 7-0.3 7-0.5 7-0.9 7-1.4 7-2 7-2.3 7-2.4 7-2.5 7-2.4 7-2.4 7-2.6 7-3.1 7-3.9 7-4.7 7-5.1 7-5.1 7-4.6 7-4 7-3.7 7-4.2 7-4.9 7-5.4 7-5.6 7-5.1 7-4.3 7-3.1 7-2 7-1 7-0.1 7 1 7 1.7 7 1.6 7 1.1 7 0.5 7 0.8 7 1.6 7 3 7 3.9 7 4.5 7 4.7 7 4.7 7 4.8 7 5 7 5.5 7 5.9 7 5.6 7 5 7 4.4 7 4.4 7 4.3 7 3.9 7 3.2 7 2.1 7 1.2 7 0.5 7 0.2 7 0.1 7 0.3 7 0.5 3.2 0.4"/>
<path d="M118.9 526.3l0.1 0 7 0 7 0.2 7 0.3 7 0.3 7 0.1 7 0 7-0.1 7-0.3 7-0.5 7-0.9 7-1.4 7-2 7-2.3 7-2.5 7-2.2 7-1.7 7-1.4 7-1.2 7-1.3 7-1.6 7-2.4 7-3.3 7-4.1 7-4.7 7-5.2 7-5.7 7-6 7-5.7 7-4.9 7-4.3 7-4.6 7-5.2 7-5.8 7-5.4 7-4 7-1.8 7 0.3 7 1.6 7 1.7 7 0.6 7-0.3 7 0.2 7 1.6 7 2.8 7 3.5 7 3.9 7 4.3 7 4.3 7 3.9 7 3.4 7 3.3 7 3.5 7 4 7 4.3 7 4.2 7 3.6 7 3 7 3.1 7 3.8 7 4.5 7 4.4 7 3.6 7 2.8 7 2.3 7 1.7 7 1.3 7 0.8 7 0.7 7 1 1.9 0.3"/>
<path d="M167.3 522.9l0.7 0 7 0.2 7 0.7 7 0.5 7 0 7-0.8 7-1.2 7-1.4 7-1.2 7-1.2 7-1.9 7-2.7 7-3.2 7-3.3 7-2.9 7-3.2 7-3.7 7-4.6 7-5.3 7-5.7 7-5.9 7-5.8 7-5.5 7-4.8 7-4 7-3.7 7-3.9 7-4 7-3.9 7-3.5 7-2.8 7-2.3 7-1.2 7 0 7 1.4 7 2.2 7 2.6 7 2.9 7 3.3 7 4.1 7 5 7 5.7 7 6 7 5.5 7 5.1 7 4.7 7 4.7 7 4.8 7 4.8 7 4.6 7 4.4 7 3.8 7 3.2 7 2.5 7 2.1 7 1.9 7 1.4 7 0.8 7 0.4 7 0.5 4.5 0.6"/>
<path d="M220.4 516.3l3.6-0.8 7-1.2 7-1 7-1.2 7-2 7-3.3 7-4.4 7-5 7-4.7 7-3.9 7-3 7-2.7 7-2.8 7-3.4 7-4.4 7-5.1 7-5.6 7-5.8 7-5.5 7-4.6 7-3 7-1.5 7-0.7 7-0.5 7-0.5 7-0.1 7 0.7 7 1.3 7 1.8 7 1.9 7 2.4 7 3.4 7 4.4 7 4.7 7 4.2 7 3.6 7 3.6 7 4.3 7 4.8 7 4.5 7 3.9 7 3.5 7 3.6 7 3.5 7 3.3 7 2.8 7 2.2 7 1.6 7 1.5 7 1.7 5.4 1.7"/>
<path d="M121.3 525.6l4.7 0.1 7 0.3 7 0.4 7 0.3 7 0.1 7-0.3 7-0.4 7-0.5 7-0.6 7-0.9 7-1.2 7-1.5 7-1.5 7-1.6 7-1.6 7-1.4 7-1.5 7-1.7 7-2 7-2 7-1.9 7-1.7 7-2.3 7-3.8 7-5.3 7-5.9 7-5.2 7-3.8 7-2.5 7-1.7 7-1.9 7-2.9 7-4.1 7-4.7 7-4 7-2.5 7-0.9 7-0.5 7-1.1 7-1.7 7-1.7 7-0.6 7 0.8 7 2.2 7 3.1 7 3.6 7 3.3 7 2.4 7 1.5 7 1 7 1.6 7 2.7 7 3.5 7 3.8 7 3.7 7 3.7 7 3.9 7 3.7 7 3.2 7 2.7 7 2.5 7 3 7 3.3 7 3.3 7 2.9 7 2.3 7 1.9 7 1.3 7 1 7 0.8 7 1.1 7 1.3 7 1.4 7 1 7 0.4 7 0 7 0.1 7 0.2 0.4 0"/>
<path d="M251.7 506.6l0.3-0.1 7-3.7 7-4.1 7-4 7-3.7 7-3.6 7-4.3 7-5.3 7-6.1 7-6.3 7-5.8 7-4.7 7-3.2 7-1.6 7-0.6 7-0.4 7-0.7 7-1.3 7-1.9 7-2.4 7-2.3 7-1.5 7 0.1 7 1.4 7 2.3 7 2.6 7 3 7 3.1 7 2.9 7 2.6 7 2.7 7 3.8 7 4.8 7 5.2 7 4.6 7 3.7 7 3.5 7 4.3 7 5.4 7 5.7 7 4.9 7 3.7 7 2.9 7 2.7 7 2.6 7 2.4 7 1.7 7 1.1 7 0.5 7 0.2 7-0.2 7-0.4 7-0.5 7-0.2 7 0.2 6.2 0.6"/>
<path d="M199.7 518.1l3.3-0.4 7-0.3 7 0 7-0.3 7-1.2 7-1.8 7-2 7-1.7 7-1.9 7-2.6 7-3.7 7-4.7 7-5.5 7-5.6 7-5.7 7-5.7 7-5.8 7-5.6 7-5.2 7-4.5 7-3.9 7-3.2 7-2.8 7-2.6 7-2.2 7-1.7 7-1.6 7-1.9 7-2 7-0.8 7 1.1 7 2.6 7 3.1 7 3.2 7 3.3 7 4 7 5.4 7 6.9 7 7.5 7 6.8 7 5.5 7 4.5 7 4 7 4.1 7 4 7 3.6 7 3.3 7 3.2 7 3.3 7 3.1 7 2.5 7 2.1 7 1.4 7 1 7 0.6 7 0.5 7 0.3 7 0.4 7 0.4 4.2 0.3"/>
<path d="M187.0 520.5l2-0.2 7-0.2 7 0 7-0.1 7-0.8 7-1.6 7-2.5 7-3.2 7-3.5 7-3.2 7-2.8 7-2.3 7-2.2 7-2.7 7-3.5 7-3.9 7-4 7-4 7-4.4 7-4.9 7-5.1 7-5 7-5 7-5.1 7-4.7 7-3.4 7-1.8 7-0.1 7 1.2 7 2 7 2 7 1.8 7 1.6 7 1.4 7 1.2 7 1.3 7 1.6 7 2.3 7 3 7 3.2 7 3.4 7 4 7 4.7 7 5.1 7 5 7 4.3 7 3.7 7 3.5 7 3.5 7 3.8 7 3.8 7 3.5 7 2.7 7 2 7 1.6 7 1.6 7 1.5 7 1.1 7 0.8 7 0.4 7 0.2 7 0.4 7 0.6 0.1 0"/>
<path d="M174.5 523.5l0.5 0 7-0.2 7 0.2 7 0.1 7-0.2 7-0.8 7-1.2 7-1.4 7-1.5 7-1.6 7-1.8 7-2.4 7-3 7-3.5 7-3.9 7-4.1 7-4.2 7-4.4 7-4.4 7-4.4 7-4.5 7-5.3 7-6.1 7-6.7 7-6.4 7-5.5 7-4.1 7-3 7-2.2 7-1.7 7-0.6 7 1.3 7 2.8 7 2.7 7 1.4 7 0.3 7 0.3 7 1.2 7 2.1 7 3.5 7 4.7 7 5.5 7 5.4 7 4.7 7 4 7 4 7 4.5 7 4.9 7 5.1 7 5.1 7 4.7 7 4.2 7 3.6 7 2.8 7 2.1 7 1.6 7 1.2 7 0.9 7 1.1 7 1.4 7 1.3 7 1.2 7 0.7 7 0.5 7 0.3 7 0.4 4.7 0.2"/>
<path d="M192.2 523.5l3.8-0.6 7-1.2 7-0.9 7-0.6 7-0.1 7 0.1 7-0.4 7-1.7 7-3.1 7-4.2 7-4.7 7-4.8 7-4.4 7-4.1 7-4.2 7-4.8 7-6 7-6.5 7-5.9 7-4.3 7-2.7 7-1.8 7-2.2 7-3.4 7-4.8 7-5.6 7-5.4 7-3.7 7-1.3 7 1.1 7 2.7 7 3.4 7 3.5 7 3.2 7 3 7 3.2 7 4.3 7 5.5 7 5.9 7 5.6 7 4.7 7 3.9 7 3.3 7 3 7 3.3 7 3.9 7 4.4 7 4.2 7 3.7 7 2.8 7 2.4 7 2 7 2 7 1.7 7 1.5 7 1.4 1 0.2"/>
<path d="M171.7 524.9l3.3-0.4 7-0.9 7-0.7 7-0.6 7-0.4 7-0.5 7-0.7 7-1.1 7-1.8 7-2.7 7-3.3 7-3.8 7-3.6 7-3.6 7-3.6 7-3.9 7-3.8 7-3.8 7-3.8 7-4.3 7-4.9 7-5.1 7-4.7 7-4.3 7-4.3 7-4.9 7-4.9 7-3.4 7-1.3 7 0.7 7 1.9 7 2.5 7 2.4 7 1.7 7 0.9 7 0.7 7 0.9 7 1 7 1.1 7 1.5 7 2.3 7 3 7 3.6 7 4 7 4.3 7 4.8 7 4.9 7 4.3 7 3.6 7 3.3 7 3.1 7 3.2 7 3.6 7 3.7 7 3.3 7 2.4 7 1.6 7 1.1 7 1.1 7 1.5 7 1.7 1 0.2"/>
<path d="M214.3 516.5l2.7-0.3 7-0.3 7 0 7-0.4 7-1.4 7-2.3 7-3.1 7-3.5 7-3.9 7-4 7-4.2 7-4.6 7-5.1 7-5.1 7-4.4 7-4 7-4.2 7-4.5 7-4.4 7-3.8 7-3.1 7-2.4 7-1.8 7-0.8 7-0.1 7 0.1 7-0.2 7-0.8 7-1.2 7-1 7 0.1 7 1.7 7 3 7 3.8 7 4.3 7 4.8 7 4.8 7 4.5 7 4.1 7 4.2 7 4.8 7 5.1 7 4.7 7 3.7 7 2.7 7 2.3 7 2.2 7 2.3 7 2.5 7 2.6 7 3 7 3.2 7 2.8 7 2.3 7 1.7 7 1.3 7 0.9 7 0.6 7 0.3 0.2 0"/>
<path d="M235.0 514.9l3-1.4 7-3 7-3 7-3 7-3 7-3.5 7-4 7-4.3 7-4.4 7-3.9 7-3.3 7-3 7-3.1 7-3.5 7-3.8 7-3.5 7-2.2 7-0.8 7 0.1 7-0.3 7-1.5 7-2.5 7-2.8 7-2.6 7-1.9 7-0.8 7 0.3 7 1.6 7 3 7 4.2 7 4.7 7 4.1 7 3 7 2.4 7 2.3 7 2.8 7 3.6 7 4.3 7 4.6 7 4.1 7 3.2 7 2.5 7 2.4 7 2.9 7 3.2 7 3.2 7 2.7 7 2.3 7 2 7 1.8 7 1.3 7 0.8 7 0.7 4.3 0.6"/>
<path d="M157.0 523.9l4-0.1 7 0.1 7 0 7-0.3 7-0.5 7-0.5 7-0.6 7-0.7 7-1 7-1.4 7-2 7-2.2 7-2.1 7-2.1 7-2.2 7-3.2 7-4.2 7-5.2 7-5.7 7-5.5 7-5.1 7-4.2 7-3.3 7-2.6 7-2.4 7-2.6 7-3.2 7-3.7 7-4 7-4.1 7-3.9 7-3.8 7-3.2 7-1.7 7 0.7 7 3.5 7 5.2 7 5.3 7 3.7 7 2.1 7 1.3 7 1.1 7 1.6 7 2.1 7 2.7 7 3 7 3.3 7 3.6 7 3.8 7 4.1 7 4.4 7 4.8 7 4.9 7 4.5 7 4.1 7 3.4 7 2.5 7 1.6 7 1 7 1.1 2.3 0.4"/>
<path d="M183.7 522.7l5.3-0.3 7-0.2 7-0.3 7-0.7 7-1.5 7-1.9 7-2.1 7-1.8 7-1.8 7-2 7-2.3 7-2.5 7-2.9 7-3.5 7-4 7-4.3 7-4.4 7-4.7 7-4.3 7-3 7-1.7 7-1.6 7-3.3 7-5.4 7-7.2 7-7.8 7-7.4 7-5.7 7-3.6 7-1.6 7-0.2 7 1.2 7 2.8 7 4 7 4.6 7 4.2 7 3.3 7 2.5 7 2.3 7 3 7 4.6 7 5.7 7 5.7 7 4.8 7 3.8 7 3.4 7 3.1 7 3.1 7 3.2 7 3.7 7 4.1 7 4.3 7 3.9 7 3.3 7 2.8 7 2.1 7 1.7 7 1.2 7 1.2 7 1 7 0.8 7 0.5 7 0.3 7 0.1 7 0.2 7 0.4 7 0.6 7 0.6 7 0.5 7 0.2 7 0 7-0.2 7-0.1 1.2 0"/>
<path d="M90.0 526.1l1 0 7 0.2 7 0.5 7 0.5 7 0.4 7 0 7-0.1 7-0.2 7-0.1 7 0 7 0.1 7 0.2 7 0 7-0.2 7-0.6 7-1 7-1.3 7-1.5 7-1.6 7-1.8 7-2.1 7-2.4 7-2.7 7-3 7-3.5 7-4.1 7-4.5 7-4.5 7-4.1 7-3.9 7-4 7-4.3 7-4.3 7-4.1 7-4.1 7-4 7-4 7-3.9 7-3.7 7-3.3 7-3 7-2.9 7-2.9 7-3.1 7-2.8 7-1.5 7 0.7 7 3 7 4.6 7 4.9 7 4.3 7 3.7 7 3.3 7 3.4 7 3.8 7 4.3 7 4.8 7 5.4 7 5.6 7 5.4 7 5 7 4.3 7 3.8 7 3.6 7 3.4 7 3.2 7 2.8 7 2.2 7 1.5 7 0.8 7 0.5 5.2 0.6"/>
<path d="M231.2 516.2l6.8-1.5 7-1.6 7-2.1 7-2.8 7-3.1 7-3.2 7-3.2 7-3.7 7-4.2 7-4.9 7-5.5 7-5.9 7-6 7-6.1 7-5.1 7-3.2 7-1.2 7 0.1 7-0.2 7-1.6 7-2.6 7-2.7 7-2 7-1.6 7-1 7 0.1 7 1.9 7 3.2 7 3.5 7 3.3 7 2.6 7 2.1 7 2 7 2.6 7 3.7 7 5 7 5.6 7 5.5 7 4.9 7 4.5 7 4 7 3.6 7 3.2 7 2.8 7 2.5 7 2.4 7 2 7 1.9 7 1.8 7 1.8 7 1.8 7 1.4 7 1.2 7 0.9 7 0.8 7 0.9 7 0.7 7 0.7 7 0.5 7 0.2 7 0 7 0 7 0 7 0.1 7 0.1 7 0 7 0 2.1 0"/>
<path d="M149.7 525.7l4.3-0.2 7-0.1 7-0.1 7-0.2 7-0.3 7-0.5 7-0.6 7-0.8 7-1.1 7-1.4 7-1.9 7-2.5 7-3.2 7-3.7 7-4 7-3.7 7-3.4 7-3.4 7-3.8 7-4.5 7-4.9 7-4.6 7-4 7-3.5 7-3.5 7-4 7-4.8 7-5 7-4.4 7-3 7-1.4 7-0.3 7-0.4 7-1.6 7-3 7-3.6 7-2.7 7-0.2 7 2.6 7 4.7 7 5.7 7 5.7 7 4.7 7 3.5 7 2.6 7 2.5 7 3.6 7 4.6 7 5.2 7 5 7 4.8 7 4.9 7 5.2 7 5.2 7 4.9 7 3.8 7 2.9 7 2.2 7 1.6 2.8 0.6"/>
<path d="M194.0 523.0l2-0.1 7 0 7-0.1 7-0.5 7-1 7-1.6 7-2.1 7-2.7 7-3.4 7-3.5 7-3.3 7-3.2 7-3.7 7-4.5 7-5.1 7-4.8 7-4.3 7-3.8 7-3.8 7-3.9 7-4 7-4 7-3.6 7-3.1 7-2.8 7-3.1 7-3.8 7-4.5 7-4.1 7-2.3 7 0.3 7 2.8 7 4.6 7 5.4 7 5.3 7 4.5 7 3.3 7 2.2 7 1.9 7 2.5 7 3.3 7 3.8 7 3.9 7 4 7 3.8 7 3.7 7 4 7 4.3 7 4.5 7 4.2 7 3.7 7 3 7 2.5 7 2.2 7 2.1 7 2 7 1.7 7 1.5 7 1.3 7 1.1 7 0.8 3.3 0.3"/>
<path d="M184.7 523.3l4.3-0.3 7-0.2 7-0.2 7 0 7-0.3 7-0.6 7-1.3 7-1.9 7-2.4 7-2.6 7-2.5 7-2.4 7-3 7-3.8 7-5.1 7-6 7-6.3 7-5.7 7-4.7 7-4.1 7-3.7 7-3.3 7-3.2 7-3.6 7-4.7 7-6 7-6.3 7-5.5 7-3.5 7-1.3 7 0.9 7 2.5 7 3.2 7 3.5 7 3.8 7 4 7 4 7 4 7 3.9 7 3.3 7 2.3 7 1.9 7 3.1 7 4.9 7 5.8 7 5.2 7 4.2 7 3.9 7 3.9 7 3.8 7 3.5 7 3.4 7 3.4 7 3.2 7 2.7 7 2 7 1.7 7 1.5 7 1.4 7 1.2 7 1 7 0.7 7 0.4 7 0.1 7 0 7-0.1 7-0.1 6.2 0"/>
<path d="M217.1 519.2l6.9-1.3 7-1 7-0.7 7-0.6 7-1.3 7-2.5 7-3.7 7-4.7 7-5.2 7-5.4 7-5.6 7-5.7 7-5.9 7-6 7-6.1 7-5.7 7-4.8 7-3.7 7-3 7-3.1 7-3.8 7-4.3 7-4 7-3.3 7-1.9 7-0.2 7 1.5 7 2.6 7 2.8 7 2.9 7 3.6 7 5.1 7 6.6 7 7.1 7 6.4 7 5.5 7 4.9 7 4.8 7 5.3 7 6.1 7 6.2 7 5.4 7 3.7 7 2.5 7 1.8 7 1.6 7 1.6 7 1.9 7 2.1 2.9 0.9"/>
<path d="M210.4 524.9l6.6-0.7 7-1 7-1.1 7-1.3 7-1.4 7-1.6 7-2 7-2.6 7-3.6 7-5 7-6.4 7-7.3 7-7.9 7-7.7 7-6.6 7-5.3 7-4 7-3.7 7-3.9 7-4.4 7-4.8 7-5.1 7-5.2 7-5 7-4 7-2.5 7-0.5 7 1.4 7 2.5 7 2.9 7 3 7 3.2 7 3.3 7 3.8 7 4.9 7 6.2 7 6.9 7 7.2 7 7.3 7 7.3 7 7.6 7 7.4 7 6.8 7 5.1 7 3.2 7 1.6 7 1.1 4.8 1"/>
<path d="M185.0 522.1l4-0.1 7 0 7 0.2 7-0.2 7-0.6 7-1 7-1.4 7-1.6 7-1.9 7-2.1 7-2.8 7-3.7 7-4.8 7-5.3 7-5 7-4.6 7-4.7 7-5.2 7-5.6 7-5.9 7-5.8 7-5.7 7-4.8 7-3.4 7-1.7 7-1 7-1.8 7-2.9 7-3 7-1.7 7 0.2 7 1.7 7 2.4 7 2.7 7 2.9 7 3.4 7 4.1 7 4.4 7 4.2 7 3.6 7 3.2 7 3.3 7 3.5 7 3.8 7 3.8 7 4.2 7 4.5 7 4.4 7 3.8 7 2.9 7 2.4 7 2.4 7 2.6 7 2.5 7 2.1 7 1.4 7 1.2 4 0.8"/>
<path d="M191.6 521.5l4.4-0.2 7-0.1 7-0.4 7-1.1 7-1.7 7-1.7 7-1.8 7-1.8 7-2.3 7-2.7 7-3 7-3.2 7-3.3 7-3.9 7-4.8 7-5.6 7-5.7 7-5 7-4 7-3.5 7-4.1 7-4.9 7-5.3 7-5 7-4.4 7-3.8 7-3.2 7-2.1 7 0 7 1.9 7 2.7 7 2.6 7 2.2 7 1.9 7 2 7 2.5 7 3.2 7 4.1 7 4.6 7 4.6 7 4.3 7 4.1 7 4.4 7 4.7 7 4.5 7 4 7 3.6 7 3.5 7 3.6 7 3.3 7 3 7 2.7 7 2.6 7 2.3 7 1.7 7 1.5 0.8 0.2"/>
<path d="M200.9 520.9l2.1-0.5 7-1.7 7-1.5 7-1.1 7-0.7 7-0.4 7-0.6 7-1.4 7-2.5 7-3.8 7-4.5 7-4.6 7-4.5 7-4.2 7-4.1 7-3.8 7-3.4 7-3.7 7-4.7 7-5.6 7-5.7 7-5.5 7-4.9 7-3.9 7-2.5 7-1.1 7-0.4 7 0.1 7 0.7 7 1.4 7 1.5 7 1 7 1 7 1.8 7 3 7 4 7 4.7 7 4.9 7 4.6 7 4.3 7 4.2 7 4.4 7 4.5 7 4.3 7 3.8 7 3.2 7 2.8 7 2.7 7 2.8 7 3.1 7 3.1 7 2.8 7 2.3 7 1.8 7 1.1 7 0.6 7 0.2 7 0 7 0.1 5.6 0.4"/>
<path d="M225.3 515.0l5.7-1.5 7-1.2 7-0.9 7-1.1 7-1.9 7-3 7-3.9 7-4.3 7-4.1 7-4 7-4.3 7-4.8 7-5 7-4.4 7-3.7 7-3 7-3.4 7-4.9 7-6.5 7-6.9 7-5.5 7-3 7-0.5 7 1.3 7 2.6 7 3.1 7 2.7 7 1.8 7 0.8 7 0.8 7 1.3 7 2.2 7 3.2 7 4.3 7 5.1 7 5.5 7 5.1 7 4.8 7 4.5 7 4.6 7 4.6 7 4.2 7 3.6 7 3 7 3.1 7 3.6 7 3.6 7 2.8 7 1.5 7 0.3 7-0.3 7-0.1 7 0.5 1.1 0.2"/>
<path d="M121.4 526.3l4.6 0.1 7 0.2 7 0.3 7 0.2 7 0 7-0.2 7-0.5 7-0.9 7-1.3 7-1.6 7-1.5 7-1.3 7-1 7-0.9 7-1.4 7-1.7 7-1.9 7-2.2 7-2.6 7-3 7-3.2 7-3.3 7-3.4 7-3.6 7-3.7 7-3.7 7-3.5 7-3.8 7-4.1 7-4.4 7-4.5 7-4.3 7-4.2 7-3.9 7-3.2 7-2.1 7-0.8 7 0.2 7 0.6 7 0.4 7-0.4 7-0.8 7-0.2 7 1.4 7 3 7 3.6 7 3.1 7 2.3 7 2.1 7 3.3 7 4.8 7 5.8 7 5.2 7 4.3 7 3.8 7 3.6 7 3.4 7 3 7 2.6 7 2.5 7 2.6 7 2.9 7 2.8 7 2.9 7 2.5 7 2.2 7 1.9 7 1.5 7 1.2 7 0.6 7 0.5 7 0.3 7 0.2 7 0 7-0.3 7-0.3 5.5 0"/>
<path d="M222.6 516.3l1.4-0.3 7-1.7 7-2.1 7-2.3 7-2.1 7-2 7-2.3 7-3 7-3.7 7-3.8 7-3.6 7-3.2 7-3.2 7-3.7 7-4.6 7-5.2 7-5.1 7-4.3 7-3.7 7-4 7-4.7 7-4.9 7-3.9 7-2.3 7-0.4 7 1.1 7 2.5 7 3.4 7 3.7 7 3.6 7 3 7 2.2 7 1.3 7 1.1 7 1.7 7 2.9 7 3.8 7 4.1 7 4.4 7 4.7 7 5.1 7 4.9 7 4.5 7 3.9 7 3.3 7 3 7 3 7 2.8 7 2.2 7 1.5 7 1.3 7 1.3 7 1.5 7 1.5 7 1.6 0.6 0.1"/>
<path d="M205.4 519.7l4.6-0.8 7-1.2 7-1.3 7-1.7 7-2 7-1.9 7-1.7 7-1.7 7-2.2 7-2.8 7-3.7 7-4.7 7-5.4 7-5.8 7-5.9 7-5.7 7-4.9 7-3.4 7-2.2 7-1.9 7-2.4 7-2.6 7-2.6 7-2.4 7-2.2 7-2 7-1.3 7-0.1 7 1 7 1.2 7 0.6 7 0.2 7 0.6 7 2.2 7 3.6 7 4.6 7 4.7 7 4.2 7 3.4 7 3.2 7 3.6 7 4.3 7 4.6 7 4.5 7 4.3 7 4.1 7 4 7 3.8 7 3.6 7 3 7 2.6 7 2.1 7 1.8 7 1.4 7 1.1 7 0.8 7 0.3 7 0 7-0.1 7 0 5.5 0.3"/>
<path d="M205.2 517.3l4.8-1.2 7-1.5 7-1.2 7-1 7-1 7-1.3 7-1.7 7-2 7-2.3 7-3.2 7-4.6 7-5.8 7-5.7 7-4.6 7-3.5 7-3.4 7-4.5 7-6 7-6.8 7-6.1 7-4.2 7-1.6 7 0.4 7 1.1 7 0.7 7-0.2 7-0.4 7 0 7 0.3 7 0.4 7 0.3 7 0.4 7 0.8 7 1.6 7 2.5 7 3.7 7 4.5 7 5.2 7 5.5 7 5.6 7 5 7 3.8 7 2.7 7 2.6 7 3.3 7 4 7 4.4 7 4.3 7 3.9 7 3.2 7 2.2 7 1.6 7 1.6 7 1.7 7 1.3 7 0.8 7 0.2 7 0.1 7 0.4 7 0.6 7 0.8 1.5 0.1"/>
<path d="M202.5 523.9l0.5 0 7-0.8 7-1.1 7-1.7 7-2.4 7-3.1 7-3.7 7-3.7 7-3.4 7-2.9 7-2.4 7-2.8 7-3.4 7-4 7-3.9 7-3.4 7-3.3 7-3.6 7-4.1 7-4.2 7-3.6 7-2.8 7-2.3 7-2.3 7-2.9 7-3.2 7-3.4 7-3.2 7-3.1 7-2.7 7-1.8 7 0.1 7 2 7 3.2 7 3.9 7 4.1 7 4.1 7 4.2 7 4.1 7 4.1 7 3.7 7 3.5 7 4 7 4.8 7 5.5 7 5.7 7 5.2 7 4.5 7 3.8 7 3.5 7 3.4 7 3.3 7 2.6 7 1.7 7 0.9 7 0.4 7 0.3 7 0.4 5 0.4"/>
<path d="M235.7 513.8l2.3-0.8 7-2.5 7-2.1 7-1.7 7-1.7 7-2.3 7-3.1 7-3.8 7-4.1 7-4.1 7-4.3 7-4.4 7-4.5 7-4.3 7-4.5 7-5.2 7-5.6 7-5.1 7-4 7-3.2 7-2.5 7-1.6 7-0.6 7 0 7 0.3 7 1 7 1.6 7 2 7 1.9 7 1.9 7 2.4 7 3.7 7 5 7 6.5 7 7.5 7 7.4 7 6.4 7 5 7 3.7 7 2.7 7 2.1 7 2.1 7 2.3 7 2.8 7 3.2 7 3.4 7 3.2 3.9 1.5"/>
<path d="M225.9 520.1l5.1-0.7 7-0.8 7-1 7-1.5 7-1.9 7-2.2 7-2.3 7-2.3 7-2.8 7-3.7 7-5.2 7-6.4 7-6.9 7-6.6 7-5.7 7-4.8 7-4.3 7-4.7 7-5.6 7-6.4 7-6.3 7-5.3 7-3.6 7-1.4 7 0.4 7 1.3 7 1.2 7 0.5 7-0.2 7 0.1 7 1.9 7 4.5 7 6.7 7 7.6 7 7.3 7 6.9 7 6.9 7 7 7 6.4 7 5.3 7 4.1 7 3.2 7 3 7 3 7 3.1 7 3 7 2.8 7 2.7 7 2.2 7 1.8 7 1.6 0.9 0.2"/>
<path d="M238.9 513.9l6.1-1.7 7-1.7 7-1.8 7-2.5 7-3.2 7-3.8 7-3.9 7-4 7-3.8 7-3.4 7-3.4 7-3.6 7-4.4 7-5.5 7-6.1 7-6 7-5 7-3.7 7-2.5 7-2.1 7-2.4 7-2.6 7-1.7 7 0 7 1.7 7 2.3 7 2.1 7 1.5 7 0.9 7 1.2 7 2.5 7 4.5 7 6 7 6.6 7 6.1 7 5.1 7 4 7 3.1 7 3.3 7 4.2 7 5.1 7 5.1 7 4.3 7 3.7 7 3.5 7 3.1 7 2.6 7 1.6 7 0.8 7 0.5 7 0.6 7 0.7 7 0.9 0.4 0.1"/>
<path d="M234.6 519.3l3.4-0.6 7-1.1 7-1.2 7-1.7 7-2.2 7-2.8 7-3.6 7-4.6 7-5.5 7-5.9 7-5.6 7-4.7 7-4.1 7-3.7 7-4.2 7-4.8 7-5.8 7-6.5 7-6.3 7-5.5 7-4.2 7-2.9 7-1.7 7-0.1 7 1 7 1.1 7 1 7 1.2 7 1.8 7 2.5 7 3.5 7 4.5 7 5.5 7 6 7 5.4 7 4.5 7 3.7 7 3.6 7 4.2 7 5.1 7 5.9 7 6.2 7 5.6 7 4.8 7 4 7 3 7 2.2 0.6 0.2"/>
<path d="M243.9 511.3l1.1-0.5 7-2.9 7-2.7 7-2.3 7-1.9 7-2.2 7-3.7 7-5.3 7-6.6 7-7 7-6.8 7-6.6 7-6 7-5.1 7-4.1 7-3.6 7-4.2 7-5 7-4.7 7-2.8 7-0.4 7 1.7 7 2.4 7 2.1 7 1.3 7 1.1 7 1.6 7 2.8 7 3.5 7 4.2 7 4.8 7 5.3 7 5.6 7 5.6 7 5.3 7 5 7 5.2 7 5.4 7 5.3 7 4.6 7 3.6 7 2.9 7 2.8 7 2.9 7 2.7 7 2.4 7 1.7 7 1.1 7 0.5 5.8 0.4"/>
<path d="M182.5 523.3l6.5-0.3 7-0.1 7-0.1 7-0.1 7-0.6 7-1.2 7-1.8 7-2 7-1.8 7-1.7 7-2.3 7-3.3 7-4 7-4 7-3.5 7-3.1 7-3.4 7-4.4 7-5.6 7-5.8 7-4.8 7-3.8 7-3.5 7-3.9 7-4.2 7-3.9 7-3 7-2.5 7-2.5 7-2.6 7-2 7-0.5 7 1.3 7 2.5 7 3 7 3.1 7 3 7 3.1 7 2.9 7 2.6 7 2.7 7 2.8 7 3.4 7 3.9 7 4.2 7 4.5 7 4.5 7 4.6 7 4.8 7 4.7 7 4.3 7 3.7 7 2.9 7 2.1 7 1.6 7 1.5 7 1.7 7 1.9 7 2 7 1.6 6.4 1.1"/>
<path d="M170.7 522.8l4.3-0.2 7 0 7 0 7-0.6 7-1.2 7-1.5 7-1.5 7-1.4 7-1.6 7-2.2 7-2.8 7-3.6 7-4 7-4 7-3.6 7-3.5 7-3.7 7-4 7-4.2 7-4.8 7-5.6 7-5.7 7-4.4 7-2.5 7-0.9 7-0.4 7-0.7 7-1.5 7-2.1 7-2.1 7-1.8 7-1.3 7-0.9 7-0.8 7-0.7 7-0.3 7 1 7 2.7 7 4.2 7 4.8 7 4.4 7 3.8 7 3.7 7 3.9 7 4.6 7 5.2 7 5.5 7 5.2 7 4.5 7 3.6 7 2.9 7 2.6 7 2.3 7 2.2 2.8 0.8"/>
<path d="M206.7 518.4l3.3-0.7 7-1.2 7-1.2 7-1.2 7-1.4 7-1.9 7-2.6 7-3.1 7-3.4 7-3.3 7-3.5 7-4 7-4.3 7-4 7-3.2 7-2.9 7-3.4 7-4.4 7-5.2 7-4.8 7-4.4 7-4.5 7-4.9 7-4.9 7-3.7 7-2.1 7-0.4 7 0.7 7 1.3 7 1.6 7 2.2 7 2.6 7 2.9 7 2.7 7 3.1 7 4.2 7 5.4 7 5.8 7 5.4 7 4.6 7 4.2 7 4.2 7 4.2 7 3.9 7 3.6 7 3.3 7 3.4 7 3.3 7 3.1 7 2.9 7 2.6 7 2.3 0.1 0"/>
<path d="M206.6 522.1l3.4-0.5 7-0.9 7-1.2 7-1.6 7-2.4 7-2.8 7-3.1 7-3.4 7-3.4 7-3.5 7-3.6 7-4.1 7-4.5 7-4.1 7-3 7-2.2 7-2.5 7-3.7 7-5 7-5.7 7-5.5 7-4.4 7-3.3 7-2.5 7-1.8 7-1.6 7-1.6 7-1.6 7-1.4 7-0.8 7 0.2 7 1.3 7 2.6 7 3.9 7 5.1 7 6.2 7 6.4 7 5.9 7 5.1 7 4.1 7 3.1 7 2.5 7 2.6 7 3.3 7 4.2 7 4.7 7 4.4 7 3.5 7 2.6 7 2.2 7 2.4 7 2.7 7 2.7"/>
<path d="M157.4 524.7l3.6-0.1 7-0.2 7 0.2 7 0.1 7 0 7-0.3 7-0.5 7-0.8 7-1.1 7-1.6 7-2.1 7-2.3 7-2.3 7-2.3 7-2.5 7-2.8 7-3.1 7-3.7 7-4.1 7-4.5 7-4.7 7-4.8 7-4.9 7-4.9 7-5.1 7-5.4 7-4.7 7-3.3 7-2 7-1.7 7-1.7 7-2 7-2 7-2.3 7-2.3 7-1.4 7 0.3 7 2.3 7 3.5 7 3.3 7 2.3 7 1.6 7 2.1 7 3.6 7 5.2 7 6 7 5.9 7 5.4 7 4.7 7 4.2 7 3.7 7 3.1 7 3 7 3.3 7 4 7 3.8 7 3.1 7 1.9 7 1.3 7 1.1 7 1.1 7 1.3 7 1.5 7 1.6 7 1.7 7 1.4 7 0.9 7 0.5 7 0 7-0.3 7-0.5 7-0.5 7 0 2.2 0.1"/>
<path d="M171.2 524.7l3.8-0.3 7-0.6 7-0.7 7-0.7 7-0.8 7-0.9 7-1.1 7-1.2 7-1.5 7-2.2 7-2.9 7-3.4 7-3.7 7-3.6 7-3.6 7-3.5 7-3.8 7-3.8 7-3.8 7-3.8 7-4.4 7-5.2 7-5.3 7-4.7 7-3.9 7-3.9 7-4.6 7-5 7-4 7-1.5 7 1.1 7 2.2 7 2.1 7 1.5 7 1.6 7 2.4 7 3.1 7 3 7 2.5 7 1.9 7 1.8 7 2.5 7 3.5 7 4.2 7 4.1 7 3.7 7 4.1 7 5 7 5.3 7 4.5 7 3.1 7 2.4 7 2.8 7 3.5 7 3.6 7 2.9 7 2 7 1.3 7 1 7 1 7 0.8 7 0.4 7 0.2 7 0 6.3 0.4"/>
<path d="M250.9 510.7l1.1-0.3 7-2.2 7-2.2 7-2.5 7-2.9 7-3.6 7-4.4 7-4.9 7-4.8 7-4.6 7-4.2 7-3.8 7-3.6 7-3.5 7-3.4 7-3.6 7-4.2 7-5.1 7-5.8 7-5.2 7-3.1 7-0.2 7 2.6 7 3.9 7 3.5 7 1.5 7-0.2 7 0.3 7 2.5 7 4.8 7 5.5 7 4.7 7 3.7 7 3.4 7 3.9 7 4.4 7 4.7 7 4.7 7 4.6 7 4 7 3.5 7 3.2 7 3.1 7 3 7 2.8 7 2.6 7 2.2 7 1.9 7 1.7 7 1.7 7 1.6 7 1.3 7 1.1 7 0.9 7 0.6 7 0.4 7 0.1 7-0.2 7-0.3 7-0.5 7-0.3 3.4 0"/>
<path d="M120.3 526.7l5.7 0 7 0.2 7 0.1 7 0 7-0.2 7-0.2 7-0.3 7-0.3 7-0.2 7-0.4 7-0.6 7-1.2 7-1.6 7-1.9 7-1.9 7-2 7-2.1 7-2.4 7-2.8 7-3.2 7-3.4 7-3.4 7-3.4 7-3.5 7-3.3 7-3.5 7-4.4 7-5.7 7-6.7 7-6.9 7-6.7 7-6.6 7-6.3 7-5.1 7-3.1 7-0.9 7 0.1 7-0.2 7-0.7 7-0.3 7 1.1 7 2.7 7 3.2 7 2.8 7 2.4 7 3.1 7 4.4 7 6 7 6.8 7 6.8 7 5.9 7 5.3 7 5.1 7 4.9 7 4.4 7 3.7 7 3.3 7 3.2 7 3 7 2.7 7 2.3 7 2 7 1.5 7 1.2 7 1.2 5.8 1.1"/>
<path d="M230.2 519.4l0.8-0.3 7-2.4 7-2.8 7-2.8 7-2.9 7-3 7-3.2 7-3.4 7-3.4 7-3.5 7-4.2 7-5.7 7-7.2 7-7.7 7-7.2 7-6 7-4.5 7-2.9 7-2.3 7-2.9 7-3.6 7-3.5 7-2.1 7-0.6 7 0.5 7 1 7 0.8 7 0.5 7 1.1 7 2.6 7 4.9 7 6.3 7 6.7 7 5.9 7 5 7 4.3 7 4.6 7 5.3 7 5.7 7 5.7 7 5.2 7 4.3 7 3.7 7 3.3 7 2.8 7 2.3 7 1.6 7 1.4 7 1.5 7 1.7 7 1.7 7 1.3 7 0.7 7 0.3 7 0.1 2.1 0.1"/>
<path d="M228.2 516.9l2.8-0.7 7-1.8 7-2 7-2 7-1.8 7-1.5 7-1.7 7-2.8 7-4.9 7-6.8 7-7.7 7-7.1 7-5.6 7-4.2 7-3.2 7-2.4 7-2.2 7-2.8 7-4.2 7-5.5 7-5.4 7-4.2 7-2.3 7-0.7 7 0.6 7 1.6 7 2 7 1.8 7 1.2 7 0.9 7 1.5 7 2.7 7 4 7 4.9 7 4.9 7 4.2 7 3.6 7 3.6 7 4.3 7 5.2 7 5.9 7 6.4 7 6.3 7 5.5 7 4.2 7 3 7 2.1 7 2.1 7 2.2 7 2.2 7 1.8 7 1.4 7 0.9 7 0.7 7 0.6 7 0.5 7 0.3 7 0.3 7 0.1 7-0.1 7-0.3 7-0.3 7-0.2 6.1 0.1"/>
<path d="M205.0 523.5l5-0.1 7-0.2 7-0.8 7-1.4 7-1.9 7-2.1 7-2.1 7-2.2 7-2.9 7-3.8 7-4.6 7-4.8 7-4.5 7-4.2 7-4.5 7-5.2 7-6.2 7-7.2 7-7.8 7-7.2 7-6.1 7-5 7-3.9 7-2.4 7-0.9 7-0.5 7-0.7 7-1.2 7-1 7-0.3 7 0.9 7 2.2 7 3.1 7 4 7 5.3 7 6.4 7 7.1 7 7.1 7 6.6 7 6 7 5.1 7 4.3 7 3.8 7 3.7 7 3.8 7 4 7 4 7 3.8 7 3.4 7 2.8 7 2.2 7 1.7 7 1.2 7 0.9 7 0.9 0.9 0.1"/>
<path d="M188.0 520.1l1-0.1 7-0.4 7 0 7-0.1 7-0.7 7-1.6 7-2.2 7-2.5 7-2.3 7-2.1 7-2.2 7-2.8 7-3.7 7-4.2 7-4.2 7-3.9 7-3.7 7-3.6 7-3.5 7-3.1 7-2.9 7-3.5 7-4.9 7-6.4 7-6.5 7-4.5 7-2 7-0.3 7 0 7-0.3 7 0.2 7 1 7 1.9 7 2.3 7 2.3 7 2.2 7 1.7 7 1.2 7 1.2 7 2.1 7 3.4 7 4.6 7 5.4 7 5.7 7 5 7 4 7 3.2 7 2.9 7 3.3 7 3.8 0 0"/>
<path d="M211.2 520.9l5.8-1.6 7-2.2 7-2.4 7-2.6 7-3 7-3.1 7-3.2 7-2.8 7-2.4 7-2.3 7-2.6 7-3.8 7-5.4 7-6.5 7-6.3 7-4.9 7-3.6 7-2.9 7-3.2 7-3.6 7-3.4 7-2.7 7-1.8 7-1.4 7-1.6 7-2.1 7-2.2 7-1.7 7-1.1 7-0.3 7 1.1 7 2.9 7 4.9 7 6.4 7 7.2 7 7.2 7 7.1 7 6.8 7 6.5 7 5.7 7 4.7 7 3.7 7 2.9 7 2.5 7 2.5 7 2.7 7 2.8 7 2.5 7 2.2 7 1.9 7 1.6 7 1 7 0.7 7 0.3 7 0.3 7 0.5 2.3 0.2"/>
<path d="M215.8 518.1l1.2-0.3 7-1.8 7-1.7 7-1.5 7-1.3 7-1.7 7-2.2 7-2.8 7-3.3 7-3.8 7-4.7 7-5.7 7-6 7-6.1 7-6.1 7-5.8 7-4.7 7-3.8 7-3.3 7-3.2 7-2.3 7-0.6 7 0.6 7 0.3 7-1.4 7-3.3 7-4 7-3.6 7-2 7-0.1 7 1.8 7 3.5 7 4.9 7 5.6 7 6.1 7 6 7 5.9 7 5.9 7 5.8 7 5.4 7 4.6 7 4 7 3.7 7 3.9 7 4.2 7 4 7 3.2 7 2.2 7 1.6 7 1.1 7 1 7 1.2 7 1.5 3.7 0.9"/>
<path d="M161.4 522.4l6.6-0.3 7 0.1 7 0.1 7-0.2 7-0.5 7-0.8 7-1.2 7-1.7 7-2 7-1.9 7-1.8 7-2 7-2.9 7-3.9 7-4.4 7-4.2 7-3.3 7-2.5 7-2.1 7-2.4 7-3.4 7-4.8 7-5.8 7-5.9 7-4.9 7-3.1 7-2.1 7-1.6 7-1.8 7-1.7 7-1.6 7-0.9 7 0 7 1.1 7 1.5 7 1.1 7 0.3 7 0.4 7 1.3 7 2.4 7 3.3 7 4 7 5.1 7 5.6 7 5.2 7 3.9 7 2.2 7 1.3 7 1.1 7 1.5 7 2 7 2.3 7 2.9 7 3.8 7 4.6 7 5.1 7 4.5 7 3.2 7 1.8 7 0.8 7 0.5 7 0.5 7 0.7 7 0.9 7 0.7 7 0.7 7 0.8 7 0.7 7 0.6 7 0.3 7 0.1 5.3 0.2"/>
<path d="M216.5 519.7l0.5-0.1 7-1.5 7-1.7 7-1.8 7-1.6 7-1.3 7-1 7-1.5 7-2.6 7-3.7 7-4.6 7-5.1 7-5 7-4.9 7-5.1 7-5.5 7-5.8 7-5.3 7-4 7-2.3 7-1.6 7-2.7 7-4.8 7-5.9 7-4.8 7-2.2 7 0.4 7 2 7 2.7 7 3.1 7 3.4 7 3.1 7 2.4 7 1.8 7 1.8 7 3.1 7 5.1 7 6.9 7 7.2 7 6.3 7 4.7 7 3.8 7 3.5 7 3.4 7 3 7 2.7 7 2.8 7 2.8 7 2.5 7 1.9 7 1.4 7 1.3 4.9 1.1"/>
<path d="M201.6 520.5l1.4-0.2 7-1.4 7-1.2 7-1.1 7-1 7-1.4 7-2.1 7-2.8 7-2.9 7-3 7-3.1 7-3.6 7-4.8 7-5.7 7-5.8 7-4.8 7-3.7 7-3.3 7-3.4 7-3.4 7-3 7-2.7 7-3 7-3.8 7-4 7-3.3 7-2.1 7-0.8 7 0.4 7 1.4 7 1.7 7 1.4 7 1.7 7 2.7 7 4 7 4.7 7 4.7 7 4.6 7 4.6 7 4.3 7 3.4 7 2.7 7 2.6 7 3.2 7 3.8 7 4.1 7 4.1 7 4.1 7 3.8 7 3.2 7 2.5 7 1.9 7 1.6 7 1.9 7 1.9 7 1.5 7 0.8 7 0.4 7 0.3 5.1 0.2"/>
<path d="M187.7 522.0l1.3-0.1 7-0.4 7 0 7-0.2 7-0.5 7-0.9 7-1.2 7-1.6 7-2 7-2.4 7-2.4 7-2.6 7-3 7-4.1 7-5.1 7-5.6 7-5.6 7-5.1 7-4.6 7-4.5 7-4.5 7-4.2 7-3.6 7-3 7-2.9 7-3.2 7-3.6 7-3.9 7-4 7-3.7 7-2.8 7-1.3 7 0.9 7 3.4 7 4.8 7 5 7 4.6 7 4.3 7 4 7 3.7 7 3.4 7 3.5 7 4.2 7 5.1 7 5.6 7 5.4 7 4.8 7 3.8 7 3 7 2.6 7 2.9 7 3.5 7 4.1 7 4 7 3.4 7 2.2 7 1.4 7 0.7 7 0.5 7 0.4 7 0.6 7 0.6 7 0.7 7 0.5 7 0.3 7 0.3 7 0.2 7 0.2 7 0.1 7 0 7 0 7 0 7-0.1 7-0.3 7-0.5 7-0.4 7-0.3 3.8-0.1"/>
<path d="M167.6 523.3l0.4 0 7-0.4 7 0.1 7 0.2 7 0.2 7-0.3 7-0.8 7-1.3 7-1.7 7-1.9 7-2.2 7-2.5 7-2.8 7-2.9 7-2.9 7-2.9 7-2.6 7-2.7 7-3.1 7-4 7-4.9 7-5.6 7-5.8 7-5.6 7-5.4 7-5.2 7-5.5 7-5.6 7-4.8 7-2.8 7-0.3 7 1.1 7 1.2 7 0.3 7-0.3 7-0.1 7 0.7 7 1.7 7 2.4 7 2.9 7 3.5 7 4.3 7 5.3 7 5.8 7 5.6 7 4.9 7 4.5 7 4.4 7 4.5 7 4.3 7 4.3 7 4.1 7 3.8 7 3.4 7 2.8 7 2.3 7 2.1 7 1.7 7 1.6 7 1.3 7 1 7 0.7 7 0.7 7 0.7 7 0.6 7 0.3 7 0.1 6.7 0.1"/>
<path d="M223.2 520.2l0.8-0.1 7-1 7-0.7 7-1.1 7-2.1 7-3.3 7-4 7-4.7 7-4.8 7-4.5 7-3.8 7-3.1 7-3.1 7-3.8 7-4.9 7-5.6 7-5.6 7-5.1 7-4.1 7-3.3 7-3.4 7-3.8 7-3.4 7-1.8 7-0.1 7 0.9 7 1.1 7 1.3 7 1.7 7 1.7 7 1.1 7 0.9 7 1.6 7 3.8 7 6 7 7.3 7 7.2 7 6 7 5 7 4.1 7 3.6 7 2.8 7 1.7 7 1.2 7 1.3 7 1.8 7 2.4 7 3 7 3.7 7 4.3 7 3.9 7 2.7 7 1.4 7 0.3 7 0 7 0.4 3.4 0.3"/>
<path d="M150.3 525.9l3.7-0.2 7-0.2 7-0.2 7-0.1 7-0.1 7-0.3 7-0.4 7-0.6 7-0.9 7-1.2 7-1.4 7-1.6 7-1.9 7-2.1 7-2.6 7-3.3 7-3.8 7-3.9 7-3.6 7-3.6 7-3.8 7-3.8 7-3.7 7-3.5 7-3.6 7-4 7-4.7 7-5.4 7-5.5 7-4.9 7-3.9 7-2.7 7-1.6 7-0.6 7 0.4 7 1 7 1 7 0.2 7-1.4 7-1.9 7-0.3 7 2.7 7 5.3 7 6.2 7 5.8 7 5.1 7 4.6 7 4.4 7 4.5 7 4.4 7 3.9 7 3.3 7 3.2 7 3.4 7 3.4 7 3.3 7 2.9 7 2.5 7 2.1 7 1.9 7 2.1 7 2.4 7 2.5 7 2.2 7 1.6 7 1 7 0.4 7-0.1 7-0.3 7-0.7 7-0.6 7-0.3 1.2 0"/>
<path d="M240.2 514.5l4.8-1.7 7-2.2 7-2.5 7-2.8 7-3.2 7-3.4 7-3.6 7-3.7 7-3.6 7-3.6 7-4 7-4.9 7-5.9 7-6.1 7-5.9 7-5.1 7-4.2 7-3 7-2 7-1.2 7-0.3 7 0.4 7 0.4 7-0.1 7-0.6 7-0.3 7 1.1 7 2.9 7 4.7 7 5.7 7 5.4 7 3.5 7 1.4 7 0.5 7 1.1 7 2.8 7 4.3 7 5.6 7 6.5 7 6.7 7 6.1 7 4.7 7 3.3 7 2 7 1.2 7 0.9 7 0.9 7 1.3 7 1.7 0.8 0.2"/>
<path d="M139.2 524.4l0.8 0 7 0 7 0.4 7 0.4 7 0.1 7-0.4 7-0.6 7-0.9 7-0.9 7-0.9 7-1.1 7-1.3 7-1.9 7-2.4 7-2.6 7-2.5 7-2.1 7-2.2 7-2.9 7-3.7 7-4.4 7-4.7 7-4.6 7-4.4 7-3.8 7-3.3 7-2.9 7-3.4 7-4.2 7-4.6 7-4.3 7-3.4 7-2.5 7-2 7-1.7 7-1.5 7-1.7 7-2.1 7-2.3 7-1.4 7 0.1 7 1.8 7 2.8 7 3.6 7 4.5 7 5.7 7 6.5 7 6.1 7 5.1 7 4.1 7 4 7 4.2 7 4.5 7 4.5 7 4 7 3.2 7 2.4 7 1.7 7 1.4 7 1.5 7 2 7 2.4 4.3 1.6"/>
<path d="M83.2 527.0l0.8 0 7 0.1 7 0.2 7 0.3 7 0.3 7 0.2 7 0.2 7 0.1 7-0.1 7-0.3 7-0.4 7-0.6 7-0.5 7-0.7 7-0.7 7-1 7-1 7-1.1 7-1.3 7-1.6 7-1.8 7-1.7 7-1.7 7-1.5 7-1.9 7-2.5 7-3.4 7-4.1 7-5 7-5.6 7-5.9 7-5.4 7-4.8 7-4.1 7-3.5 7-2.8 7-2.4 7-2.6 7-3.1 7-3.2 7-2.8 7-2.1 7-1.3 7-0.9 7-1.2 7-1.8 7-1.4 7 0.2 7 2 7 2.7 7 2.7 7 2.8 7 4 7 5.3 7 6 7 5.9 7 5.1 7 4.2 7 3.9 7 4.1 7 4.4 7 4.2 7 3.5 7 2.8 7 3 7 3.3 7 3.3 7 2.5 7 1.3 7 0.3 7 0.1 7 0.5 7 1 7 1.4 7 1.5 7 1.4 7 1.2 7 0.8 7 0.3 7-0.2 7-0.6 7-0.5 7-0.1 0.9 0"/>
<path d="M191.1 524.7l4.9-0.2 7-0.2 7-0.2 7-0.7 7-1.6 7-2.6 7-3.2 7-3.5 7-3.3 7-3.1 7-2.9 7-2.7 7-2.8 7-2.9 7-3 7-3.3 7-3.9 7-4.8 7-5.3 7-5.3 7-4.6 7-4.4 7-4.7 7-4.9 7-4.4 7-3.4 7-2.7 7-2.7 7-2.8 7-2.8 7-1.9 7-0.1 7 2.6 7 4.8 7 5.9 7 5.6 7 5 7 4.8 7 4.8 7 4.8 7 4.7 7 4.3 7 3.6 7 3 7 2.9 7 3.2 7 3.6 7 3.5 7 3.2 7 3.1 7 3.2 7 3.4 7 3.5 7 2.9 7 2 7 1.2 7 0.7 7 0.5 7 0.7 7 0.9 7 1 7 1 0.7 0.1"/>
<path d="M138.8 525.8l1.2 0 7 0.1 7 0.2 7 0.2 7 0 7-0.2 7-0.3 7-0.4 7-0.5 7-0.7 7-1 7-1.3 7-1.6 7-1.7 7-1.8 7-1.7 7-1.7 7-2 7-2.4 7-3 7-3.7 7-4.3 7-4.8 7-5.5 7-6.1 7-6.4 7-5.9 7-4.6 7-3.3 7-2.8 7-2.8 7-3.1 7-2.9 7-2.7 7-2.1 7-1.4 7-1.2 7-1.7 7-2.5 7-2.6 7-1.2 7 1.5 7 4.1 7 5.3 7 5.5 7 5.1 7 5.1 7 5.3 7 5.2 7 4.4 7 3.4 7 2.9 7 2.8 7 3.2 7 3.4 7 3.1 7 2.4 7 2.1 7 2.2 7 2.8 7 3.2 7 3.2 7 2.8 6.4 2.3"/>
<path d="M208.5 519.7l1.5-0.4 7-1.7 7-1.2 7-0.9 7-1.2 7-1.7 7-2.3 7-2.8 7-3.2 7-3.5 7-4 7-4.1 7-4 7-3.9 7-4.5 7-5.2 7-5.6 7-5.2 7-4.6 7-4.9 7-5.5 7-5.6 7-4.6 7-2.9 7-1.1 7 0.3 7 0.9 7 0.9 7 1 7 1.1 7 1.4 7 1.2 7 1.2 7 1.5 7 3 7 4.7 7 5.5 7 5.2 7 4.4 7 4.2 7 4.7 7 5.6 7 6 7 5.9 7 5.4 7 4.5 7 3.2 7 1.9 7 1.4 7 1.4 7 1.8 7 1.7 7 1.4 7 1.1 5.1 0.8"/>
<path d="M211.1 522.0l5.9-0.6 7-1 7-1.3 7-1.8 7-1.8 7-2 7-2.3 7-2.9 7-3.5 7-4.5 7-5.5 7-6.2 7-6.5 7-6.2 7-5.8 7-5.2 7-4.5 7-4.6 7-5.4 7-6 7-5.5 7-4 7-2.5 7-1.7 7-1.1 7 0 7 1.1 7 1.2 7 0.7 7 0.4 7 1.2 7 2.8 7 4.5 7 6.1 7 7.4 7 7.9 7 7.8 7 6.7 7 5.4 7 4.2 7 3.6 7 3.4 7 3.4 7 3.3 7 3.2 7 3.4 7 3.8 7 3.7 7 3.4 7 2.7 7 1.6 7 0.6 7-0.1 7-0.4 7 0 5.5 0.3"/>
<path d="M199.5 524.5l3.5-0.3 7-0.7 7-1.1 7-1.6 7-2.1 7-2.6 7-2.8 7-2.5 7-2 7-1.8 7-2 7-2.4 7-2.5 7-2.6 7-3.2 7-4.4 7-5.7 7-6.4 7-6.6 7-6.2 7-5.1 7-3.5 7-2.3 7-2.5 7-3.9 7-4.8 7-4.2 7-2.1 7 0.4 7 2.6 7 4.2 7 4.7 7 4.2 7 2.5 7 0.5 7-0.8 7-0.7 7 0.3 7 1.9 7 3.6 7 4.9 7 5.6 7 5.6 7 5 7 4.5 7 4.5 7 4.6 7 4.3 7 3.7 7 3.3 7 3.1 7 2.7 7 2.3 7 1.9 7 2.1 7 2.2 7 2 7 1.4 7 0.7 7 0.2 7 0.2 5.3 0.2"/>
<path d="M121.4 524.0l4.6 0 7 0.6 7 0.7 7 0.5 7 0.3 7-0.1 7-0.2 7-0.5 7-0.7 7-1 7-1.3 7-1.6 7-1.5 7-1.2 7-0.9 7-1 7-1.5 7-2.2 7-2.9 7-3.4 7-3.6 7-3.6 7-3 7-2.5 7-2.1 7-2.6 7-3.6 7-4.3 7-4.4 7-3.8 7-3.3 7-3 7-3.2 7-3.4 7-2.9 7-2.1 7-1.3 7-1.4 7-1.8 7-2.3 7-2 7-1.2 7-0.3 7 0.8 7 2 7 2.8 7 2.6 7 1.6 7 0.9 7 1.8 7 3.7 7 5.6 7 6.1 7 5.7 7 5.7 7 6 7 5.7 7 4.6 7 3.2 7 2.2 7 2.1 7 2.2 7 2.4 7 2.1 7 1.6 7 1.1 7 1 7 1.3 7 1.6 2.9 0.6"/>
<path d="M196.5 521.0l6.5-0.3 7-0.1 7-0.3 7-0.8 7-1.5 7-2.5 7-3.2 7-3.7 7-3.2 7-2.5 7-1.6 7-1.5 7-2 7-2.9 7-4.1 7-5.2 7-5.7 7-5.3 7-5 7-4.9 7-4.7 7-4 7-2.4 7-0.9 7-0.5 7-1.1 7-1.8 7-2.2 7-2.2 7-1.5 7-0.1 7 1.8 7 3.2 7 3.9 7 3.8 7 3.5 7 2.8 7 2.1 7 1.8 7 2.4 7 3.5 7 4.4 7 4.8 7 5 7 4.9 7 4.4 7 4 7 3.7 7 3.2 7 2.4 7 1.6 7 1.1 7 1.2 7 1.3 7 1.7 7 2 0.2 0"/>
<path d="M248.9 505.9l3.1-1.8 7-3.4 7-2.8 7-2.3 7-2.2 7-2.3 7-2.8 7-3.5 7-4.1 7-4.3 7-3.9 7-3.4 7-3.5 7-4.3 7-5.5 7-5.8 7-5.5 7-4.6 7-3.4 7-2.3 7-0.8 7 0.6 7 1.7 7 2.4 7 2.7 7 2.8 7 3.2 7 4 7 4.6 7 4.3 7 3.5 7 2.9 7 3.2 7 4.3 7 5.4 7 6.1 7 6.2 7 5.5 7 4.5 7 3.5 7 2.6 7 2.1 7 2.1 7 2.1 7 2.1 7 2 7 1.6 7 1.3 7 1.1 3.5 0.6"/>
<path d="M199.2 521.2l3.8-0.4 7-0.8 7-0.9 7-0.9 7-1.1 7-1.7 7-2.7 7-3.8 7-4.2 7-3.9 7-3 7-2.3 7-2.4 7-3.2 7-4.3 7-5 7-5.7 7-6.5 7-6.8 7-5.8 7-3.6 7-1.3 7-0.1 7-0.7 7-2.3 7-3.5 7-3.9 7-3 7-1.3 7 0.5 7 1.3 7 1.3 7 1.5 7 2.1 7 3.3 7 4.5 7 5.3 7 5.6 7 5.5 7 4.6 7 3.6 7 2.8 7 2.8 7 3.8 7 5.1 7 5.6 7 4.8 7 3.2 7 2.1 7 1.8 7 2.4 7 3.2 7 3.2 7 2.5 7 1.3 7 0.4 7 0.1 7 0.3 5.1 0.6"/>
<path d="M230.5 518.3l0.5-0.1 7-1.7 7-1.9 7-2.1 7-2.5 7-2.7 7-2.7 7-2.7 7-2.9 7-3.6 7-4.7 7-5.5 7-5.4 7-4.5 7-4 7-3.9 7-4.1 7-4 7-4.2 7-4.3 7-4.1 7-3.3 7-2.2 7-0.8 7 0.2 7 0.5 7 0.2 7 0.2 7 1.3 7 3.3 7 4.5 7 4.2 7 3.5 7 3 7 2.7 7 2.8 7 2.9 7 3.1 7 3.5 7 4 7 4.3 7 4.5 7 4.5 7 4.6 7 4.7 7 4.2 7 3.5 7 2.7 7 2.1 7 1.8 7 1.5 7 1.4 7 1.4 7 1.1 7 0.6 7 0.1 4 0"/>
<path d="M231.9 510.4l6.1-1.5 7-1.4 7-1.2 7-1.5 7-1.7 7-2.4 7-3.2 7-4 7-4.6 7-4.9 7-5 7-5.1 7-5.1 7-4.9 7-4.2 7-3.3 7-2.6 7-2.4 7-2.6 7-2.8 7-2.4 7-1.7 7-0.6 7 0.1 7 0.7 7 1.2 7 1.9 7 2.8 7 3.3 7 3.7 7 3.6 7 3.5 7 3.2 7 3.1 7 3.2 7 3.5 7 4 7 4.5 7 4.8 7 4.7 7 4 7 3 7 2.3 7 2.4 7 2.9 7 3.2 7 3.1 7 2.5 7 1.9 7 1.5 7 1.6 7 1.4 7 1.1 7 0.9 7 0.5 7 0.4 7 0.4 7 0.5 7 0.5 7 0.3 7 0.2 7 0 7 0 7 0 7 0 7 0 7 0 7-0.2 7-0.3 7-0.2 3.8-0.1"/>
<path d="M152.4 525.9l1.6-0.1 7-0.6 7-0.3 7-0.1 7-0.2 7-0.3 7-0.6 7-0.9 7-1.1 7-1.4 7-1.7 7-2 7-2.5 7-2.8 7-3.3 7-3.6 7-3.7 7-3.9 7-4.3 7-4.9 7-5.4 7-5.1 7-4.1 7-3 7-2.3 7-2.1 7-2.3 7-2.9 7-3.2 7-3.2 7-2.7 7-2.2 7-1.5 7-0.7 7 0.1 7 0.2 7 0.2 7 0 7-0.1 7 0 7 0.4 7 1.3 7 2.6 7 3.4 7 3.3 7 3.4 7 4.1 7 5.1 7 5.8 7 5.6 7 4.7 7 3 7 1.7 7 1.4 7 2.3 7 3.5 7 4.1 7 3.8 7 3.1 7 2.6 7 2.1 7 1.7 2.2 0.5"/>
<path d="M163.0 525.7l5-0.3 7-0.4 7-0.5 7-0.4 7-0.4 7-0.7 7-1.2 7-1.5 7-1.6 7-1.5 7-1.6 7-1.7 7-2.3 7-2.9 7-4.1 7-5.4 7-5.9 7-5.3 7-4.1 7-3.3 7-3.5 7-4.1 7-3.9 7-2.9 7-2.3 7-2.6 7-3.2 7-3.7 7-4.2 7-4.8 7-5 7-4.1 7-1.9 7 0.4 7 2.2 7 3 7 2.7 7 1.9 7 1 7 1.2 7 2.7 7 4.6 7 5.3 7 4.9 7 4.4 7 4.8 7 5.8 7 6.9 7 6.9 7 5.8 7 4.2 7 2.7 7 2 7 1.5 7 1.6 7 2 7 2.4 7 2.4 7 2 7 1.5 7 1.1 7 1 2.9 0.4"/>
<path d="M210.4 523.1l6.6-0.6 7-0.7 7-1.2 7-1.9 7-2.5 7-3 7-3.3 7-3.5 7-3.4 7-3.3 7-3.5 7-4 7-4.8 7-5.6 7-5.8 7-5.9 7-5.6 7-5.6 7-5.6 7-5.3 7-5 7-4.1 7-3.3 7-2.3 7-1.7 7-1.2 7-0.2 7 0.8 7 1.7 7 2.1 7 2.6 7 3.5 7 4.5 7 5.3 7 5.3 7 5 7 4.5 7 4.2 7 4.4 7 4.6 7 5 7 5.1 7 5.1 7 5.1 7 5 7 4.8 7 4.2 7 3.2 7 2.2 7 1.1 7 0.5 7 0.4 7 0.4 7 0.5 7 0.7 7 0.7 7 0.8 7 0.7 7 0.5 7 0.4 0.6 0"/>
<path d="M247.6 510.1l4.4-2.4 7-3.9 7-4.1 7-4.3 7-4.6 7-5 7-5.3 7-5.5 7-5.9 7-5.8 7-5.3 7-4.4 7-3.7 7-3.6 7-4.3 7-4.7 7-4.4 7-3.3 7-2.1 7-1 7 0 7 1.2 7 2.5 7 2.8 7 2.7 7 2.4 7 3.1 7 4.8 7 6.7 7 8.4 7 9.2 7 8.6 7 7 7 5.2 7 4 7 3.5 7 3.4 7 3.1 7 2.6 7 2.6 7 2.6 7 2.6 7 2.2 7 1.8 7 1.1 7 0.6 7 0.3 7 0.3 2.9 0.3"/>
<path d="M160.9 523.4l0.1-0.1 7 0 7 0.3 7 0.3 7 0 7-0.4 7-1 7-1.3 7-1.3 7-1.2 7-1.1 7-1.7 7-2.3 7-3.2 7-4.1 7-4.7 7-5.1 7-4.6 7-3.7 7-3.2 7-3.9 7-5 7-5.6 7-5.1 7-4.2 7-3.4 7-3.1 7-3.2 7-3.1 7-3.3 7-3.4 7-3.3 7-2.5 7-1.4 7-0.5 7 0.4 7 1.4 7 2.2 7 2.6 7 2.6 7 2.8 7 3 7 3.4 7 3.5 7 3.8 7 4.3 7 4.4 7 4.1 7 3.6 7 3.5 7 3.9 7 4.5 7 5.2 7 5.5 7 5 7 3.8 7 2.7 7 2.1 7 2.2 7 2.2 7 2 7 1.7 7 1 7 0.7 7 0.6 2.7 0.3"/>
<path d="M186.8 520.9l2.2-0.3 7-0.6 7-0.1 7 0.3 7 0 7-0.7 7-1.4 7-1.8 7-2 7-2.2 7-2.6 7-3 7-3.2 7-3.1 7-3.1 7-3.6 7-4.7 7-5.5 7-5.9 7-5.5 7-4.3 7-3 7-2.5 7-3.4 7-5 7-5.9 7-5.3 7-3.5 7-2 7-1.2 7-1.1 7-0.9 7-0.3 7 0.7 7 2 7 3.5 7 5 7 5.8 7 5.7 7 4.8 7 3.9 7 3.5 7 3.8 7 4.1 7 4.4 7 4.5 7 4.6 7 4.6 7 4.5 7 4.3 7 4 7 3.6 7 2.9 7 2.2 7 1.6 7 1.1 4.9 0.5"/>
<path d="M134.7 527.3l5.3-0.1 7-0.1 7-0.3 7-0.6 7-0.7 7-0.8 7-1 7-1 7-0.9 7-0.8 7-0.9 7-1.2 7-1.5 7-1.7 7-1.7 7-1.6 7-1.6 7-2.1 7-2.8 7-3.9 7-4.8 7-5.5 7-5.6 7-5.3 7-4.9 7-4.5 7-4.1 7-3.8 7-3.4 7-2.6 7-1.9 7-1.5 7-1.6 7-2.1 7-2.3 7-2.2 7-1.1 7 0.4 7 1.6 7 1.9 7 1.7 7 1.2 7 0.8 7 0.9 7 1.7 7 2.7 7 3.5 7 4.1 7 4.6 7 4.9 7 4.6 7 4.1 7 3.5 7 3.4 7 3.7 7 3.9 7 3.8 7 3.4 7 3.2 7 3 7 2.7 7 2.2 7 1.7 7 1.2 7 0.9 7 0.6 7 0.5 2.1 0.2"/>
<path d="M223.8 516.0l0.2-0.1 7-2 7-1.9 7-1.9 7-2.5 7-3.1 7-3.7 7-3.8 7-3.4 7-3 7-3.2 7-4.1 7-4.8 7-5 7-4.9 7-5.2 7-5.6 7-5.2 7-3.9 7-2.5 7-1.8 7-2.1 7-2.2 7-1.4 7-0.1 7 1 7 1.9 7 2.6 7 3.2 7 3.1 7 2.3 7 1.9 7 2.1 7 3 7 3.8 7 4.1 7 3.6 7 3.1 7 3.2 7 3.9 7 4.7 7 5 7 4.8 7 4.3 7 4 7 3.4 7 2.6 7 1.5 7 0.9 7 0.6 7 1.1 5.1 1.1"/>
<path d="M130.0 526.1l3 0.1 7 0.2 7 0.3 7 0 7-0.2 7-0.4 7-0.5 7-0.6 7-0.9 7-1.2 7-1.4 7-1.8 7-2.1 7-1.8 7-1.3 7-0.6 7-0.4 7-1 7-2.4 7-3.8 7-4.6 7-4.7 7-4.4 7-4.6 7-5.2 7-5.4 7-4.9 7-4.3 7-4 7-4.7 7-5.8 7-6.4 7-6 7-4.2 7-2.3 7-0.7 7 0.1 7 0.7 7 1.1 7 1.2 7 1.2 7 1.5 7 2.6 7 3.9 7 4.7 7 4.3 7 3.1 7 2.4 7 2.9 7 4 7 5.3 7 6.1 7 6.1 7 5.3 7 4.1 7 3 7 2.6 7 2.4 7 2.4 7 2.4 7 2.5 0.5 0.2"/>
<path d="M150.6 526.5l3.4 0 7 0 7 0 7-0.1 7-0.1 7-0.1 7-0.2 7-0.4 7-0.8 7-1.4 7-2 7-2.2 7-2 7-1.9 7-1.9 7-2.4 7-3.3 7-4 7-4.6 7-4.7 7-4.9 7-5.1 7-5.2 7-5.4 7-5.7 7-5.7 7-4.9 7-3.5 7-3.1 7-4 7-5.1 7-5.2 7-3.8 7-1.8 7-0.1 7 0.9 7 1.2 7 1.3 7 1.6 7 2.1 7 2.4 7 2.9 7 3.3 7 4 7 4.5 7 4.9 7 4.8 7 4.7 7 4.9 7 5.2 7 5.2 7 5.2 7 5.3 7 5.4 7 5.2 7 4.4 7 3.7 0.3 0.1"/>
<path d="M201.8 521.8l1.2-0.2 7-0.7 7-0.7 7-0.8 7-1.1 7-1.4 7-1.8 7-2.1 7-2.4 7-2.9 7-3.4 7-3.9 7-4 7-3.8 7-3.3 7-3.3 7-3.9 7-4.7 7-5.4 7-5.7 7-5.7 7-5.5 7-4.9 7-4 7-2.6 7-1.2 7-0.4 7-0.2 7-0.8 7-1.3 7-1.3 7-0.8 7-0.1 7 0.5 7 1.3 7 2.5 7 3.2 7 3.8 7 4.3 7 5.1 7 6 7 6.6 7 6.6 7 6.6 7 6.3 7 5.4 7 4.1 7 2.8 7 2.2 7 2.4 7 2.9 7 3.3 7 3.3 7 2.7 7 1.8 7 0.9 7 0.4 7 0.3 7 0.3 7 0.4 7 0.6 2 0.2"/>
<path d="M156.8 523.8l4.2-0.2 7 0.2 7 0.7 7 0.6 7 0.2 7-0.6 7-1 7-1.5 7-2 7-2.3 7-2.6 7-2.9 7-3 7-3.1 7-3 7-2.9 7-3 7-3.2 7-3.7 7-4.1 7-4.2 7-4.1 7-4.1 7-5 7-5.9 7-6.1 7-4.6 7-2.3 7-0.5 7 0.4 7 0.6 7 0.9 7 1.3 7 1.5 7 0.7 7-0.5 7-1.2 7-0.8 7 0 7 1.1 7 1.8 7 2.7 7 3.3 7 3.7 7 3.7 7 3.5 7 3.4 7 3.4 7 3.8 7 4.4 7 4.1 7 3 7 2 7 1.8 7 2.7 7 3.5 7 3.8 7 3.4 7 2.9 7 2.6 7 2.4 7 2 7 1.7 7 1.2 7 0.7 7 0.2 7-0.2 7-0.4 7-0.3 6.7 0.1"/>
<path d="M210.6 517.1l6.4-0.8 7-0.5 7-0.4 7-0.8 7-1.8 7-2.8 7-3.3 7-3.5 7-3.5 7-3.5 7-3.7 7-3.6 7-3.6 7-3.8 7-3.9 7-4.1 7-3.7 7-3 7-2.7 7-3 7-3.8 7-4.2 7-4.3 7-4.1 7-3.5 7-2.6 7-1.3 7 0.1 7 1.3 7 2 7 2.4 7 3.1 7 3.7 7 4.3 7 4.7 7 5.2 7 5.3 7 4.6 7 3.8 7 3.1 7 3.3 7 3.9 7 4.5 7 4.3 7 3.4 7 2.8 7 2.4 7 2.6 7 2.5 7 2.3 7 2"/>
<path d="M130.8 524.3l2.2 0 7 0.5 7 0.8 7 0.9 7 0.6 7 0.2 7-0.2 7-0.4 7-0.4 7-0.5 7-0.5 7-0.5 7-0.6 7-0.8 7-1.2 7-1.7 7-2 7-2.6 7-3.1 7-3.8 7-4.1 7-3.7 7-2.9 7-2.4 7-2.3 7-2.8 7-3.3 7-3.4 7-3.9 7-4.6 7-5.5 7-5.7 7-5.4 7-4.6 7-3.4 7-2.4 7-1.7 7-1.9 7-2.7 7-3.4 7-3.1 7-1.1 7 1.6 7 4.2 7 5.4 7 5.2 7 3.9 7 2.2 7 1.1 7 0.9 7 2.1 7 4 7 5.7 7 6.3 7 5.7 7 4.8 7 4 7 3.4 7 3.4 7 3.3 7 3.5 7 3.4 7 3.4 7 3.1 7 2.5 7 1.8 7 1.2 6.6 0.9"/>
<path d="M198.8 524.2l4.2-0.4 7-1.1 7-1.7 7-2.2 7-2.4 7-2.5 7-2.5 7-2.9 7-3.5 7-4.2 7-4.5 7-4.6 7-4.6 7-4.5 7-4.5 7-4.2 7-3.8 7-2.9 7-2.3 7-2 7-2.4 7-3.1 7-3.8 7-3.9 7-3.3 7-2 7-0.7 7 0.3 7 0.9 7 1.3 7 1.2 7 1 7 0.4 7-0.2 7-0.3 7 0.6 7 2.2 7 3.8 7 4.7 7 5 7 5.2 7 5.3 7 5.4 7 4.9 7 4.3 7 3.8 7 3.6 7 3.7 7 4 7 3.8 7 3.2 7 2.5 7 2.1 7 1.7 7 1.6 7 1.4 7 1.1 7 1 7 0.8 7 0.8 7 0.7 7 0.7 7 0.6 7 0.4 7 0.2 7 0.2 7 0.2 7 0.2 1.9 0"/>
<path d="M172.2 521.8l2.8-0.3 7-0.1 7 0.6 7 0.7 7 0.4 7-0.2 7-0.7 7-1.2 7-1.6 7-2 7-2.3 7-2.4 7-2.5 7-3.1 7-3.8 7-4.2 7-4.3 7-4.2 7-4.3 7-5 7-5.7 7-5.9 7-5 7-3.6 7-2.2 7-1.2 7-1.2 7-2.1 7-3.2 7-4.2 7-4.1 7-3 7-1.7 7-0.2 7 1.3 7 2.5 7 3.2 7 2.8 7 2.1 7 1.9 7 1.9 7 2 7 2.1 7 2.5 7 3.5 7 4.8 7 5.7 7 6.1 7 6.2 7 6.2 7 5.8 7 4.7 7 3.5 7 2.6 7 2.1 7 1.9 0.5 0.1"/>
<path d="M191.7 524.1l4.3-0.4 7-0.6 7-0.5 7-0.3 7-0.3 7-0.7 7-1.5 7-2.4 7-2.7 7-2.8 7-2.7 7-3 7-3.6 7-4.2 7-4.4 7-4 7-3.5 7-3.9 7-5.2 7-6.9 7-7.5 7-6.6 7-4.7 7-2.9 7-1.6 7-1.3 7-1.3 7-1.8 7-2.5 7-3.1 7-3.1 7-2.3 7-1.2 7 0.1 7 1.2 7 2.3 7 3.9 7 5.9 7 7.6 7 8.3 7 7.3 7 5.7 7 4.5 7 4.3 7 4.7 7 5 7 4.8 7 4.1 7 3.4 7 2.8 7 2.7 7 2.6 7 2.5 7 2 7 1.6 2.6 0.4"/>
<path d="M235.4 509.6l2.6-0.9 7-2 7-1.2 7-1.1 7-1.7 7-2.8 7-4 7-4.6 7-4.9 7-5.1 7-5.4 7-5.5 7-5.2 7-4.6 7-3.7 7-3.3 7-3.8 7-4.5 7-4.3 7-2.9 7-0.9 7 0.3 7 0.9 7 0.7 7 0.5 7 0.4 7 1.1 7 1.9 7 2.9 7 3.6 7 4.7 7 5.4 7 5.5 7 4.4 7 3.1 7 2.7 7 3.6 7 5.3 7 6.2 7 6.1 7 4.8 7 3.4 7 2.3 7 1.9 7 2.1 7 2.3 7 2.3 0.1 0"/>
<path d="M191.3 518.4l4.7-0.7 7-0.7 7-0.4 7-0.5 7-0.9 7-1.7 7-2.9 7-3.7 7-3.9 7-3.4 7-2.9 7-2.5 7-2.9 7-3.4 7-4.3 7-5.1 7-5.8 7-6.2 7-5.9 7-5.1 7-3.9 7-2.8 7-2.1 7-1.9 7-1.4 7-0.6 7 0.5 7 0.9 7 0.9 7 0.4 7 0.2 7 0.3 7 0.6 7 1.7 7 3.1 7 4.1 7 4.5 7 4.5 7 4.7 7 4.9 7 4.9 7 4.8 7 4.4 7 3.6 7 2.7 7 2.5 7 2.8 7 3.3 7 3.5 7 2.9 7 2.5 7 2.5 7 2.8 7 2.9 7 2.3 7 1.6 7 0.9 7 0.7 7 0.8 7 0.8 7 0.6 7 0.1 7 0 7-0.2 7-0.1 7 0.1 7 0.1 7 0.1 7-0.1 7-0.1 7-0.1 1.9 0"/>
<path d="M200.6 517.9l2.4-0.3 7-0.3 7-0.2 7-0.8 7-1.8 7-2.7 7-3.1 7-3.2 7-2.8 7-2.8 7-3.2 7-3.6 7-4.1 7-4.2 7-4.2 7-3.9 7-3.5 7-2.9 7-2.3 7-2.2 7-2.6 7-3.3 7-3.7 7-3.7 7-3.2 7-2.6 7-1.6 7-0.4 7 0.6 7 0.6 7 0.2 7 0.3 7 1.5 7 2.9 7 3.2 7 2.6 7 1.8 7 1.8 7 2.7 7 3.9 7 4.7 7 4.7 7 4.2 7 3.6 7 3.1 7 3.3 7 4 7 4.8 7 5 7 4.4 7 3.1 7 1.9 7 0.8 7 0.4 7 0.4 7 0.9 6.5 1.4"/>
<path d="M178.8 522.0l3.2-0.3 7-0.6 7-0.6 7-0.8 7-0.8 7-0.9 7-0.8 7-0.6 7-0.6 7-1.2 7-2.5 7-3.7 7-4.1 7-3.7 7-3 7-3.1 7-4.5 7-6 7-6.6 7-5.6 7-4.2 7-3.4 7-3.5 7-3.9 7-3.7 7-3.2 7-2.7 7-2.7 7-2.9 7-2.7 7-2.1 7-0.8 7 0.7 7 2.3 7 3.6 7 4.1 7 3.8 7 2.8 7 1.9 7 1.7 7 2.5 7 3.8 7 4.5 7 4.4 7 3.9 7 3.4 7 3.3 7 3.5 7 3.9 7 4.4 7 4.6 7 4.1 7 3.1 7 2.2 7 1.7 7 1.6 7 1.6 7 1.5 7 1.4 7 1.3 0.3 0.1"/>
<path d="M183.1 525.5L189.4 524.9 195.7 524.1 201.9 523.3 208.2 522.2 214.4 521.1 220.7 519.7 227.0 518.2 233.2 516.4 239.5 514.5 245.7 512.3 252.0 510.0 258.3 507.3 264.5 504.5 270.8 501.4 277.1 498.1 283.3 494.6 289.6 490.9 295.8 487.1 302.1 483.1 308.4 479.0 314.6 474.9 320.9 470.7 327.2 466.6 333.4 462.6 339.7 457.0 345.9 451.3 352.2 445.1 358.5 437.9 364.7 430.9 371.0 424.6 377.3 419.0 383.5 415.6 389.8 413.7 396.0 414.1 402.3 415.6 408.6 418.2 414.8 421.4 421.1 425.2 427.4 428.1 433.6 431.4 439.9 434.3 446.1 437.5 452.4 440.7 458.7 444.6 464.9 449.4 471.2 454.4 477.5 459.5 483.7 464.6 490.0 469.7 496.2 474.8 502.5 479.8 508.8 484.6 515.0 489.3 521.3 493.6 527.6 497.7 533.8 501.5 540.1 505.1 546.3 508.5 552.6 511.6 558.9 514.5 565.1 516.4 571.4 518.2 577.7 519.7 583.9 521.1 590.2 522.2 596.4 523.3 602.7 524.1 609.0 524.9 615.2 525.5 621.5 526.1 627.8 526.5 634.0 526.9 640.3 527.2"/>
<path d="M183.1 525.5L189.4 524.9 195.7 524.1 201.9 523.3 208.2 522.2 214.4 521.1 220.7 519.7 227.0 518.2 233.2 516.4 239.5 514.5 245.7 512.3 252.0 510.0 258.3 507.3 264.5 504.5 270.8 501.4 277.1 498.1 283.3 494.6 289.6 490.9 295.8 487.1 302.1 483.1 308.4 479.0 314.6 474.9 320.9 470.7 327.2 466.6 333.4 462.6 339.7 458.7 345.9 455.0 352.2 451.5 358.5 448.4 364.7 444.4 371.0 440.1 377.3 436.4 383.5 432.8 389.8 429.4 396.0 426.5 402.3 424.1 408.6 422.6 414.8 421.6 421.1 422.8 427.4 425.2 433.6 428.6 439.9 432.3 446.1 436.0 452.4 440.1 458.7 445.1 464.9 450.4 471.2 455.7 477.5 461.1 483.7 466.5 490.0 471.8 496.2 477.1 502.5 482.3 508.8 487.2 515.0 491.7 521.3 496.0 527.6 500.1 533.8 504.0 540.1 507.3 546.3 510.0 552.6 512.3 558.9 514.5 565.1 516.4 571.4 518.2 577.7 519.7 583.9 521.1 590.2 522.2 596.4 523.3 602.7 524.1 609.0 524.9 615.2 525.5 621.5 526.1 627.8 526.5 634.0 526.9 640.3 527.2"/>
</g>
<path d="M79.48 528.45 L82.44 528.44 L85.40 528.43 L88.36 528.42 L91.33 528.41 L94.29 528.40 L97.25 528.39 L100.21 528.37 L103.17 528.35 L106.13 528.33 L109.09 528.31 L112.05 528.28 L115.01 528.25 L117.97 528.22 L120.94 528.19 L123.90 528.15 L126.86 528.10 L129.82 528.05 L132.78 528.00 L135.74 527.94 L138.70 527.87 L141.66 527.79 L144.62 527.71 L147.59 527.62 L150.55 527.52 L153.51 527.41 L156.47 527.29 L159.43 527.15 L162.39 527.00 L165.35 526.84 L168.31 526.67 L171.27 526.48 L174.24 526.27 L177.20 526.04 L180.16 525.80 L183.12 525.53 L186.08 525.24 L189.04 524.93 L192.00 524.59 L194.96 524.22 L197.92 523.83 L200.89 523.41 L203.85 522.95 L206.81 522.47 L209.77 521.95 L212.73 521.39 L215.69 520.80 L218.65 520.17 L221.61 519.49 L224.57 518.78 L227.54 518.02 L230.50 517.22 L233.46 516.37 L236.42 515.48 L239.38 514.54 L242.34 513.55 L245.30 512.50 L248.26 511.41 L251.22 510.27 L254.19 509.07 L257.15 507.83 L260.11 506.53 L263.07 505.18 L266.03 503.78 L268.99 502.33 L271.95 500.83 L274.91 499.28 L277.87 497.68 L280.84 496.04 L283.80 494.35 L286.76 492.62 L289.72 490.86 L292.68 489.05 L295.64 487.22 L298.60 485.35 L301.56 483.45 L304.52 481.54 L307.49 479.60 L310.45 477.65 L313.41 475.70 L316.37 473.73 L319.33 471.77 L322.29 469.81 L325.25 467.86 L328.21 465.92 L331.17 464.01 L334.14 462.12 L337.10 460.27 L340.06 458.45 L343.02 456.68 L345.98 454.96 L348.94 453.29 L351.90 451.69 L354.86 450.15 L357.82 448.68 L360.79 447.29 L363.75 445.98 L366.71 444.76 L369.67 443.63 L372.63 442.59 L375.59 441.65 L378.55 440.81 L381.51 440.08 L384.47 439.46 L387.44 438.95 L390.40 438.55 L393.36 438.26 L396.32 438.09 L399.28 438.04 L402.24 438.10 L405.20 438.28 L408.16 438.57 L411.12 438.98 L414.09 439.50 L417.05 440.13 L420.01 440.87 L422.97 441.71 L425.93 442.65 L428.89 443.70 L431.85 444.84 L434.81 446.07 L437.77 447.38 L440.74 448.78 L443.70 450.25 L446.66 451.79 L449.62 453.40 L452.58 455.07 L455.54 456.80 L458.50 458.57 L461.46 460.39 L464.42 462.25 L467.39 464.14 L470.35 466.05 L473.31 467.99 L476.27 469.94 L479.23 471.90 L482.19 473.86 L485.15 475.83 L488.11 477.78 L491.07 479.73 L494.04 481.67 L497.00 483.58 L499.96 485.47 L502.92 487.34 L505.88 489.17 L508.84 490.97 L511.80 492.74 L514.76 494.46 L517.72 496.15 L520.69 497.79 L523.65 499.38 L526.61 500.93 L529.57 502.43 L532.53 503.87 L535.49 505.27 L538.45 506.62 L541.41 507.91 L544.37 509.15 L547.34 510.35 L550.30 511.49 L553.26 512.57 L556.22 513.61 L559.18 514.60 L562.14 515.54 L565.10 516.43 L568.06 517.28 L571.02 518.07 L573.99 518.83 L576.95 519.54 L579.91 520.21 L582.87 520.84 L585.83 521.43 L588.79 521.98 L591.75 522.50 L594.71 522.99 L597.67 523.44 L600.64 523.86 L603.60 524.25 L606.56 524.61 L609.52 524.95 L612.48 525.26 L615.44 525.55 L618.40 525.81 L621.36 526.06 L624.32 526.28 L627.28 526.49 L630.25 526.68 L633.21 526.86 L636.17 527.01 L639.13 527.16 L642.09 527.29 L645.05 527.41 L648.01 527.53 L650.97 527.63 L653.93 527.72 L656.90 527.80 L659.86 527.87 L662.82 527.94 L665.78 528.00 L668.74 528.06 L671.70 528.11 L674.66 528.15 L677.62 528.19 L680.58 528.22 L683.55 528.26 L686.51 528.28 L689.47 528.31 L692.43 528.33 L695.39 528.35 L698.35 528.37 L701.31 528.39 L704.27 528.40 L707.23 528.41 L710.20 528.42 L713.16 528.43 L716.12 528.44 L719.08 528.45 L722.04 528.46 L725.00 528.46 L727.96 528.47" stroke="#fa7c17" stroke-width="3.125" stroke-dasharray="11.56 5" stroke-linejoin="round"/>
<path d="M329.25 60.20C329.46 60.58 330.12 61.47 330.50 62.50C330.88 63.53 331.23 64.88 331.50 66.40C331.77 67.92 331.88 69.63 332.10 71.60C332.32 73.57 332.60 75.97 332.80 78.20C333.00 80.43 333.15 82.87 333.30 85.00C333.45 87.13 333.32 83.50 333.70 91.00C334.08 98.50 334.90 116.83 335.60 130.00C336.30 143.17 337.23 156.67 337.90 170.00C338.57 183.33 339.01 196.67 339.60 210.00C340.19 223.33 340.82 236.67 341.45 250.00C342.08 263.33 342.64 276.67 343.40 290.00C344.16 303.33 345.08 316.67 346.00 330.00C346.92 343.33 347.87 358.33 348.90 370.00C349.93 381.67 351.33 393.33 352.20 400.00C353.07 406.67 353.18 405.57 354.10 410.00C355.02 414.43 356.67 422.08 357.70 426.60C358.73 431.12 359.10 434.25 360.30 437.10C361.50 439.95 363.05 441.95 364.90 443.70C366.75 445.45 369.22 446.73 371.40 447.60C373.58 448.47 375.82 449.02 378.00 448.90C380.18 448.78 382.33 447.88 384.50 446.90C386.67 445.92 389.03 443.87 391.00 443.00C392.97 442.13 394.55 441.70 396.30 441.70C398.05 441.70 399.53 441.80 401.50 443.00C403.47 444.20 405.92 446.38 408.10 448.90C410.28 451.42 412.65 455.50 414.60 458.10C416.55 460.70 418.12 462.77 419.80 464.50C421.48 466.23 423.07 467.35 424.70 468.50C426.33 469.65 427.15 470.02 429.60 471.40C432.05 472.78 436.45 475.42 439.40 476.80C442.35 478.18 444.02 478.63 447.30 479.70C450.58 480.77 455.50 482.13 459.10 483.20C462.70 484.27 465.63 485.08 468.90 486.10C472.17 487.12 475.42 488.10 478.70 489.30C481.98 490.50 484.97 491.77 488.60 493.30C492.23 494.83 497.20 497.63 500.50 498.50C503.80 499.37 505.13 498.98 508.40 498.50C511.67 498.02 517.17 495.92 520.10 495.60C523.03 495.28 523.70 495.30 526.00 496.60C528.30 497.90 531.57 501.28 533.90 503.40C536.23 505.52 538.17 507.82 540.00 509.30C541.83 510.78 543.25 511.48 544.90 512.30C546.55 513.12 547.42 513.47 549.90 514.20C552.38 514.93 556.50 515.88 559.80 516.70C563.10 517.52 567.07 518.63 569.70 519.10C572.33 519.57 573.95 519.65 575.60 519.50C577.25 519.35 578.12 519.17 579.60 518.20C581.08 517.23 582.85 515.18 584.50 513.70C586.15 512.22 588.02 510.48 589.50 509.30C590.98 508.12 592.25 507.15 593.40 506.60C594.55 506.05 595.42 505.97 596.40 506.00C597.38 506.03 597.98 506.00 599.30 506.80C600.62 507.60 602.65 509.23 604.30 510.80C605.95 512.37 607.55 514.38 609.20 516.20C610.85 518.02 612.55 520.22 614.20 521.70C615.85 523.18 617.45 524.25 619.10 525.10C620.75 525.95 622.45 526.38 624.10 526.80C625.75 527.22 626.33 527.42 629.00 527.60C631.67 527.78 633.80 527.92 640.10 527.90C646.40 527.88 659.38 527.72 666.80 527.50C674.22 527.28 677.18 526.75 684.60 526.60C692.02 526.45 703.88 526.38 711.30 526.60C718.72 526.82 724.32 527.67 729.10 527.90C733.88 528.13 728.18 527.97 740.00 528.00C751.82 528.03 776.67 528.08 800.00 528.10C823.33 528.12 859.17 528.11 880.00 528.10C900.83 528.09 915.83 528.09 925.00 528.05C934.17 528.01 931.67 528.02 935.00 527.85C938.33 527.68 941.23 527.38 945.00 527.00C948.77 526.62 955.50 525.83 957.60 525.60" stroke="#000" stroke-width="2.08" stroke-linejoin="round" stroke-linecap="square"/>
<rect x="399.0" y="36.8" width="2.1" height="515.1" fill="#328c06"/>
<rect x="399.0" y="36.8" width="2.1" height="515.1" fill="#c10c90"/>
</g>
<!-- legend handles -->
<rect x="586" y="61" width="40" height="2" fill="#2a2eec"/>
<rect x="586" y="90" width="40" height="2" fill="#000"/>
<line x1="587.4" y1="120.4" x2="625.6" y2="120.4" stroke="#fa7c17" stroke-width="3.125" stroke-dasharray="11.56 5"/>
<rect x="586" y="148" width="40" height="2" fill="#328c06"/>
<rect x="586" y="176" width="40" height="2" fill="#c10c90"/>
<!-- text -->
<text x="205.20" y="28.90" font-size="26" font-weight="bold" textLength="129.45" lengthAdjust="spacingAndGlyphs">Posterior</text>
<text x="343.85" y="28.90" font-size="26" font-weight="bold" textLength="142.06" lengthAdjust="spacingAndGlyphs">Predictive</text>
<text x="495.12" y="28.90" font-size="26" font-weight="bold" textLength="99.06" lengthAdjust="spacingAndGlyphs">Checks</text>
<text x="604.29" y="28.90" font-size="26" font-weight="bold" textLength="144.45" lengthAdjust="spacingAndGlyphs">(earnings)</text>
<text x="758.78" y="28.90" font-size="26" font-weight="bold" textLength="9.51" lengthAdjust="spacingAndGlyphs">-</text>
<text x="777.60" y="28.90" font-size="26" font-weight="bold" textLength="54.20" lengthAdjust="spacingAndGlyphs">OLS</text>
<text x="640.71" y="69.90" font-size="20.0" textLength="86.34" lengthAdjust="spacingAndGlyphs">Posterior</text>
<text x="733.89" y="69.90" font-size="20.0" textLength="96.56" lengthAdjust="spacingAndGlyphs">predictive</text>
<text x="640.69" y="98.58" font-size="20.0" textLength="93.54" lengthAdjust="spacingAndGlyphs">Observed</text>
<text x="640.71" y="127.25" font-size="20.0" textLength="86.34" lengthAdjust="spacingAndGlyphs">Posterior</text>
<text x="733.89" y="127.25" font-size="20.0" textLength="96.56" lengthAdjust="spacingAndGlyphs">predictive</text>
<text x="837.45" y="127.25" font-size="20.0" textLength="54.63" lengthAdjust="spacingAndGlyphs">mean</text>
<text x="640.66" y="155.93" font-size="20.0" textLength="89.95" lengthAdjust="spacingAndGlyphs">observed</text>
<text x="737.75" y="155.93" font-size="20.0" textLength="84.02" lengthAdjust="spacingAndGlyphs">earnings</text>
<text x="828.86" y="155.93" font-size="20.0" textLength="54.63" lengthAdjust="spacingAndGlyphs">mean</text>
<text x="641.06" y="184.60" font-size="20.0" textLength="87.35" lengthAdjust="spacingAndGlyphs">posterior</text>
<text x="735.22" y="184.60" font-size="20.0" textLength="96.56" lengthAdjust="spacingAndGlyphs">predictive</text>
<text x="838.63" y="184.60" font-size="20.0" textLength="84.02" lengthAdjust="spacingAndGlyphs">earnings</text>
<text x="929.74" y="184.60" font-size="20.0" textLength="54.63" lengthAdjust="spacingAndGlyphs">mean</text>
<text x="100.33" y="571.60" font-size="20.0" textLength="39.67" lengthAdjust="spacingAndGlyphs">&#8722;20</text>
<text x="323.52" y="571.60" font-size="20.0" textLength="10.99" lengthAdjust="spacingAndGlyphs">0</text>
<text x="525.81" y="571.60" font-size="20.0" textLength="23.52" lengthAdjust="spacingAndGlyphs">20</text>
<text x="734.85" y="571.60" font-size="20.0" textLength="23.47" lengthAdjust="spacingAndGlyphs">40</text>
<text x="943.27" y="571.60" font-size="20.0" textLength="23.60" lengthAdjust="spacingAndGlyphs">60</text>
<text x="474.10" y="597.80" font-size="21.8" textLength="88.76" lengthAdjust="spacingAndGlyphs">earnings</text>
<text transform="translate(26.70 351.94) rotate(-90)" font-size="22.8" textLength="107.01" lengthAdjust="spacingAndGlyphs">Frequency</text>
</svg>
</body></html>
